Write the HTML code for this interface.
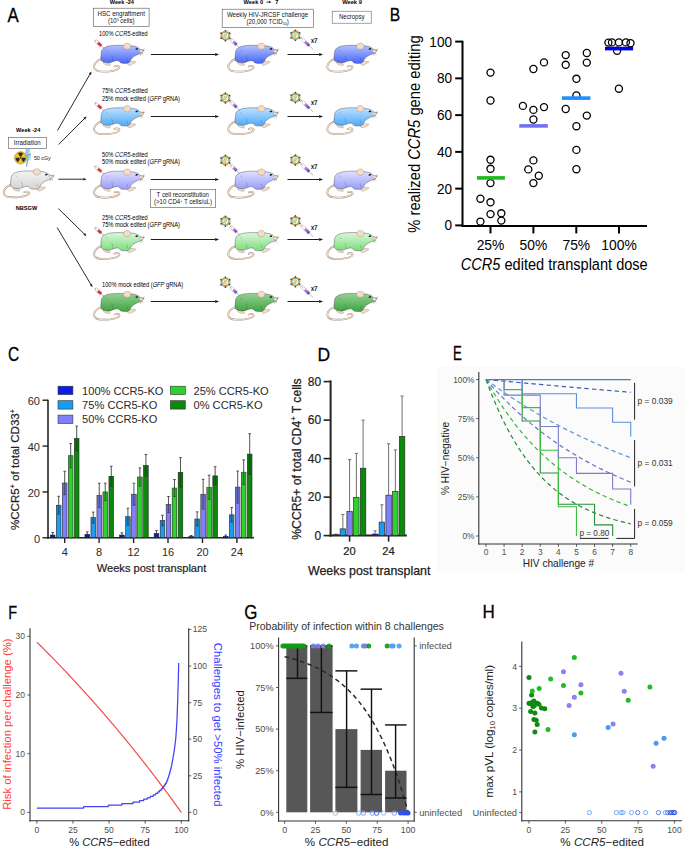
<!DOCTYPE html>
<html><head><meta charset="utf-8"><style>
html,body{margin:0;padding:0;background:#fff;}
svg{display:block;font-family:"Liberation Sans", sans-serif;}
</style></head><body>
<svg width="685" height="851" viewBox="0 0 685 851">
<rect width="685" height="851" fill="#fff"/>
<defs><linearGradient id="gm100" x1="0" y1="0" x2="0" y2="1"><stop offset="0" stop-color="#b2c1ff"/><stop offset="1" stop-color="#4866f8"/></linearGradient><linearGradient id="gm75" x1="0" y1="0" x2="0" y2="1"><stop offset="0" stop-color="#bfe0ff"/><stop offset="1" stop-color="#4eaaf8"/></linearGradient><linearGradient id="gm50" x1="0" y1="0" x2="0" y2="1"><stop offset="0" stop-color="#e0e0ff"/><stop offset="1" stop-color="#979df8"/></linearGradient><linearGradient id="gm25" x1="0" y1="0" x2="0" y2="1"><stop offset="0" stop-color="#dcf6dc"/><stop offset="1" stop-color="#7ade7a"/></linearGradient><linearGradient id="gm0" x1="0" y1="0" x2="0" y2="1"><stop offset="0" stop-color="#96d096"/><stop offset="1" stop-color="#3ea63e"/></linearGradient><linearGradient id="gmg" x1="0" y1="0" x2="0" y2="1"><stop offset="0" stop-color="#f4f4f4"/><stop offset="1" stop-color="#d4d4d4"/></linearGradient><linearGradient id="syr" x1="0" y1="0" x2="1" y2="0"><stop offset="0" stop-color="#d890d8"/><stop offset="1" stop-color="#4a3ad0"/></linearGradient></defs>
<text transform="translate(7.52,22.0) scale(0.841,0.985)" font-size="20" stroke="#000" stroke-width="0.3">A</text>
<text x="121.90" y="4.20" font-size="5.6" fill="#000" text-anchor="middle" font-weight="bold" >Week -24</text>
<rect x="93.30" y="8.20" width="55.80" height="18.20" fill="#fff" stroke="#555" stroke-width="0.6" />
<text x="121.20" y="15.90" font-size="6.5" fill="#111" text-anchor="middle" textLength="47.5" lengthAdjust="spacingAndGlyphs" >HSC engraftment</text>
<text x="121.2" y="23.0" font-size="6.5" fill="#111" text-anchor="middle" textLength="26.6" lengthAdjust="spacingAndGlyphs">(10<tspan font-size="3.8" dy="-2.3">5</tspan><tspan dy="2.3"> cells)</tspan></text>
<text x="253.30" y="4.20" font-size="5.7" fill="#000" text-anchor="middle" font-weight="bold" >Week 0</text>
<line x1="266.40" y1="2.10" x2="269.00" y2="2.10" stroke="#111" stroke-width="0.8" />
<path d="M271.60 2.10 L269.00 3.14 L269.00 1.06 Z" fill="#111"/>
<text x="276.90" y="4.20" font-size="5.7" fill="#000" text-anchor="middle" font-weight="bold" >7</text>
<rect x="222.20" y="9.20" width="91.20" height="18.40" fill="#fff" stroke="#555" stroke-width="0.6" />
<text x="267.50" y="16.90" font-size="6.4" fill="#111" text-anchor="middle" textLength="81.2" lengthAdjust="spacingAndGlyphs" >Weekly HIV-JRCSF challenge</text>
<text x="267.6" y="24.0" font-size="6.4" fill="#111" text-anchor="middle" textLength="42.3" lengthAdjust="spacingAndGlyphs">(20,000 TCID<tspan font-size="3.8" dy="1.4">50</tspan><tspan dy="-1.4">)</tspan></text>
<text x="352.00" y="4.20" font-size="5.75" fill="#000" text-anchor="middle" font-weight="bold" >Week 9</text>
<rect x="332.20" y="11.20" width="39.00" height="12.00" fill="#fff" stroke="#666" stroke-width="0.6" />
<text x="351.70" y="18.80" font-size="6.4" fill="#111" text-anchor="middle" textLength="25.4" lengthAdjust="spacingAndGlyphs" >Necropsy</text>
<text x="28.20" y="132.40" font-size="5.6" fill="#000" text-anchor="middle" font-weight="bold" >Week -24</text>
<rect x="8.30" y="137.50" width="38.30" height="10.80" fill="#fff" stroke="#555" stroke-width="0.6" />
<text x="27.25" y="144.90" font-size="6.5" fill="#111" text-anchor="middle" textLength="26.9" lengthAdjust="spacingAndGlyphs" >Irradiation</text>
<g transform="translate(20.6,157.8)"><circle r="6.2" fill="#f0c22c" stroke="#8a7020" stroke-width="0.4"/><path d="M0 0 L-2.6 -4.5 A5.2 5.2 0 0 1 2.6 -4.5 Z M0 0 L5.2 0 A5.2 5.2 0 0 1 2.6 4.5 Z M0 0 L-2.6 4.5 A5.2 5.2 0 0 1 -5.2 0 Z" fill="#2a2a2a"/><circle r="1.3" fill="#f0c22c"/><circle r="0.8" fill="#2a2a2a"/></g>
<path d="M26.2 148.6 L25.4 156 L27.6 155 L26.4 166.8 L29.6 154 L27.4 155 L28.4 148.6" fill="#9cd8f6" stroke="#3a9ad8" stroke-width="0.5" />
<path d="M29.4 148.6 L28.8 154.5 L30.6 153.8 L29.8 160" fill="none" stroke="#3a9ad8" stroke-width="0.6" />
<text x="33.90" y="159.90" font-size="5.9" fill="#111" text-anchor="start" textLength="16.9" lengthAdjust="spacingAndGlyphs" >50 cGy</text>
<g transform="translate(3.00,169.00) scale(1.0)"><path d="M8.2 15.6 C5.8 16.4 3.8 17.6 2.4 19.4 C0.9 21.3 0.3 23.6 1.4 25.6 C2.6 27.5 5.2 28.1 7.4 28.2 C10.5 28.4 13.5 28.3 16.2 28.1 C19 27.8 21.6 27.3 23.6 26.4 C25.2 25.7 26.4 24.8 26.1 23.8 C25.8 22.8 24.6 22.5 23.4 22.6 C22.6 22.7 21.9 22.9 21.3 23.1" fill="none" stroke="#9b8a7c" stroke-width="1.75" stroke-linecap="round"/><path d="M8.2 15.6 C5.8 16.4 3.8 17.6 2.4 19.4 C0.9 21.3 0.3 23.6 1.4 25.6 C2.6 27.5 5.2 28.1 7.4 28.2 C10.5 28.4 13.5 28.3 16.2 28.1 C19 27.8 21.6 27.3 23.6 26.4 C25.2 25.7 26.4 24.8 26.1 23.8 C25.8 22.8 24.6 22.5 23.4 22.6 C22.6 22.7 21.9 22.9 21.3 23.1" fill="none" stroke="#f5dcc6" stroke-width="1.1" stroke-linecap="round"/><path d="M10.4 18.6 C12.5 19.2 14.8 19.8 16.6 20.6 C17.4 21.1 17.2 21.9 16.2 22.1 C14.2 22.3 11.8 21.3 10.3 20.3 Z" fill="#f5dcc6" stroke="#8a7a6c" stroke-width="0.35"/><path d="M34.0 18.4 C36.4 18.0 39.5 17.8 42.0 18.2 C42.6 18.5 42.5 19.2 41.8 19.5 C40.2 20.2 38.4 21.2 36.8 21.9 C35.6 22.2 34.4 21.4 34.0 20.4 Z" fill="#f5dcc6" stroke="#8a7a6c" stroke-width="0.35"/><path d="M7.8 11.4 C7.8 9.2 8.2 7.8 8.7 6.7 C9.4 5.4 10.2 4.9 11.1 4.4 C12.5 3.6 13.8 3.1 15.3 2.8 C18 2.3 20.5 2.0 22.7 2.0 C25.5 2.0 28 2.0 30.2 2.0 C33 2.0 36 2.2 38.6 2.5 C40.8 2.8 42.6 3.3 44.2 3.9 C45.3 4.5 46.2 5.4 47 6.3 L50.3 6.7 C50 8.0 49.2 9.4 48 10 C47 10.4 46 10.6 45.2 10.9 C43.5 11.6 41.8 12.4 40.5 13.3 C39.3 14.2 38.4 15.1 37.7 16.1 C37.1 17.4 36.3 19.0 35.0 19.8 C33 20.3 29.4 20.3 27.6 19.7 C26.8 18.8 26.2 17.9 25 17.5 C24 17.3 23.3 17.3 22.7 17.5 C21 17.7 19.6 18.3 18.2 19.0 C16 19.8 13 19.6 10.5 18.8 C9.2 18.4 8.2 17.8 7.8 17 C7.4 15.2 7.4 13.2 7.8 11.4 Z" fill="url(#gmg)" stroke="#3a3a4a" stroke-width="0.4"/><path d="M18.2 12.3 C19.3 14.2 19.7 16.4 19.4 18.4" fill="none" stroke="#334" stroke-width="0.3" opacity="0.7"/><path d="M33.6 14.4 C34.2 15.6 34.4 16.6 34.3 17.6" fill="none" stroke="#334" stroke-width="0.3" opacity="0.7"/><path d="M12.5 6.5 C13.5 7.0 14.2 7.7 14.6 8.6" fill="none" stroke="#334" stroke-width="0.3" opacity="0.6"/><path d="M30.2 3.6 C29.8 1.4 31.6 -0.2 34.0 -0.2 C36.4 -0.2 37.8 1.6 37.4 3.6 C37.0 5.4 35.4 6.2 33.6 6.0 C31.8 5.8 30.5 5.0 30.2 3.6 Z" fill="#f5dcc6" stroke="#8a7a6c" stroke-width="0.35"/><path d="M46.0 6.4 C47.4 6.2 49.0 6.7 50.3 7.6 C50.0 8.7 49.0 9.4 47.6 9.6 C46.6 9.3 46.0 8.2 46.0 6.4 Z" fill="#f5dcc6" stroke="#8a7a6c" stroke-width="0.3"/><ellipse cx="43.4" cy="5.6" rx="1.3" ry="0.8" fill="#111" transform="rotate(-15 43.4 5.6)"/><path d="M48.0 9.2 L47.0 12.6 M48.8 9.3 L49.6 12.0 M49.4 6.9 L51.2 5.0 M50.0 7.3 L51.8 6.6" stroke="#555" stroke-width="0.3" fill="none"/></g>
<text x="26.50" y="209.70" font-size="5.6" fill="#000" text-anchor="middle" font-weight="bold" >NBSGW</text>
<line x1="57.50" y1="130.50" x2="89.90" y2="74.27" stroke="#111" stroke-width="0.9" />
<path d="M91.50 71.50 L91.01 74.91 L88.79 73.63 Z" fill="#111"/>
<line x1="58.60" y1="144.50" x2="84.24" y2="118.77" stroke="#111" stroke-width="0.9" />
<path d="M86.50 116.50 L85.15 119.67 L83.33 117.86 Z" fill="#111"/>
<line x1="58.40" y1="179.20" x2="83.40" y2="179.20" stroke="#111" stroke-width="0.9" />
<path d="M86.60 179.20 L83.40 180.48 L83.40 177.92 Z" fill="#111"/>
<line x1="58.40" y1="208.60" x2="84.22" y2="233.96" stroke="#111" stroke-width="0.9" />
<path d="M86.50 236.20 L83.32 234.87 L85.11 233.04 Z" fill="#111"/>
<line x1="57.20" y1="227.60" x2="90.87" y2="284.45" stroke="#111" stroke-width="0.9" />
<path d="M92.50 287.20 L89.77 285.10 L91.97 283.79 Z" fill="#111"/>
<text x="99.00" y="36.30" font-size="6.6" fill="#000" text-anchor="start" textLength="48.7" lengthAdjust="spacingAndGlyphs" >100% <tspan font-style="italic">CCR5</tspan>-edited</text>
<g transform="translate(93.30,43.30) scale(1.0)"><path d="M8.2 15.6 C5.8 16.4 3.8 17.6 2.4 19.4 C0.9 21.3 0.3 23.6 1.4 25.6 C2.6 27.5 5.2 28.1 7.4 28.2 C10.5 28.4 13.5 28.3 16.2 28.1 C19 27.8 21.6 27.3 23.6 26.4 C25.2 25.7 26.4 24.8 26.1 23.8 C25.8 22.8 24.6 22.5 23.4 22.6 C22.6 22.7 21.9 22.9 21.3 23.1" fill="none" stroke="#9b8a7c" stroke-width="1.75" stroke-linecap="round"/><path d="M8.2 15.6 C5.8 16.4 3.8 17.6 2.4 19.4 C0.9 21.3 0.3 23.6 1.4 25.6 C2.6 27.5 5.2 28.1 7.4 28.2 C10.5 28.4 13.5 28.3 16.2 28.1 C19 27.8 21.6 27.3 23.6 26.4 C25.2 25.7 26.4 24.8 26.1 23.8 C25.8 22.8 24.6 22.5 23.4 22.6 C22.6 22.7 21.9 22.9 21.3 23.1" fill="none" stroke="#f5dcc6" stroke-width="1.1" stroke-linecap="round"/><path d="M10.4 18.6 C12.5 19.2 14.8 19.8 16.6 20.6 C17.4 21.1 17.2 21.9 16.2 22.1 C14.2 22.3 11.8 21.3 10.3 20.3 Z" fill="#f5dcc6" stroke="#8a7a6c" stroke-width="0.35"/><path d="M34.0 18.4 C36.4 18.0 39.5 17.8 42.0 18.2 C42.6 18.5 42.5 19.2 41.8 19.5 C40.2 20.2 38.4 21.2 36.8 21.9 C35.6 22.2 34.4 21.4 34.0 20.4 Z" fill="#f5dcc6" stroke="#8a7a6c" stroke-width="0.35"/><path d="M7.8 11.4 C7.8 9.2 8.2 7.8 8.7 6.7 C9.4 5.4 10.2 4.9 11.1 4.4 C12.5 3.6 13.8 3.1 15.3 2.8 C18 2.3 20.5 2.0 22.7 2.0 C25.5 2.0 28 2.0 30.2 2.0 C33 2.0 36 2.2 38.6 2.5 C40.8 2.8 42.6 3.3 44.2 3.9 C45.3 4.5 46.2 5.4 47 6.3 L50.3 6.7 C50 8.0 49.2 9.4 48 10 C47 10.4 46 10.6 45.2 10.9 C43.5 11.6 41.8 12.4 40.5 13.3 C39.3 14.2 38.4 15.1 37.7 16.1 C37.1 17.4 36.3 19.0 35.0 19.8 C33 20.3 29.4 20.3 27.6 19.7 C26.8 18.8 26.2 17.9 25 17.5 C24 17.3 23.3 17.3 22.7 17.5 C21 17.7 19.6 18.3 18.2 19.0 C16 19.8 13 19.6 10.5 18.8 C9.2 18.4 8.2 17.8 7.8 17 C7.4 15.2 7.4 13.2 7.8 11.4 Z" fill="url(#gm100)" stroke="#3a3a4a" stroke-width="0.4"/><path d="M18.2 12.3 C19.3 14.2 19.7 16.4 19.4 18.4" fill="none" stroke="#334" stroke-width="0.3" opacity="0.7"/><path d="M33.6 14.4 C34.2 15.6 34.4 16.6 34.3 17.6" fill="none" stroke="#334" stroke-width="0.3" opacity="0.7"/><path d="M12.5 6.5 C13.5 7.0 14.2 7.7 14.6 8.6" fill="none" stroke="#334" stroke-width="0.3" opacity="0.6"/><path d="M30.2 3.6 C29.8 1.4 31.6 -0.2 34.0 -0.2 C36.4 -0.2 37.8 1.6 37.4 3.6 C37.0 5.4 35.4 6.2 33.6 6.0 C31.8 5.8 30.5 5.0 30.2 3.6 Z" fill="#f5dcc6" stroke="#8a7a6c" stroke-width="0.35"/><path d="M46.0 6.4 C47.4 6.2 49.0 6.7 50.3 7.6 C50.0 8.7 49.0 9.4 47.6 9.6 C46.6 9.3 46.0 8.2 46.0 6.4 Z" fill="#f5dcc6" stroke="#8a7a6c" stroke-width="0.3"/><ellipse cx="43.4" cy="5.6" rx="1.3" ry="0.8" fill="#111" transform="rotate(-15 43.4 5.6)"/><path d="M48.0 9.2 L47.0 12.6 M48.8 9.3 L49.6 12.0 M49.4 6.9 L51.2 5.0 M50.0 7.3 L51.8 6.6" stroke="#555" stroke-width="0.3" fill="none"/></g>
<g transform="translate(95.20,40.50) rotate(40.9)"><line x1="0" y1="0" x2="1.43" y2="0" stroke="#888" stroke-width="0.6"/><line x1="0" y1="-1.6" x2="0" y2="1.6" stroke="#777" stroke-width="0.5"/><rect x="1.43" y="-1.5" width="6.55" height="3" fill="#fff" stroke="#888" stroke-width="0.35"/><rect x="3.57" y="-1.3" width="4.41" height="2.6" fill="#d8323a"/><line x1="7.98" y1="0" x2="11.91" y2="0" stroke="#666" stroke-width="0.45"/></g>
<line x1="150.80" y1="54.50" x2="215.20" y2="54.50" stroke="#111" stroke-width="0.95" />
<path d="M219.00 54.50 L215.20 56.02 L215.20 52.98 Z" fill="#111"/>
<g transform="translate(227.50,43.30) scale(1.0)"><path d="M8.2 15.6 C5.8 16.4 3.8 17.6 2.4 19.4 C0.9 21.3 0.3 23.6 1.4 25.6 C2.6 27.5 5.2 28.1 7.4 28.2 C10.5 28.4 13.5 28.3 16.2 28.1 C19 27.8 21.6 27.3 23.6 26.4 C25.2 25.7 26.4 24.8 26.1 23.8 C25.8 22.8 24.6 22.5 23.4 22.6 C22.6 22.7 21.9 22.9 21.3 23.1" fill="none" stroke="#9b8a7c" stroke-width="1.75" stroke-linecap="round"/><path d="M8.2 15.6 C5.8 16.4 3.8 17.6 2.4 19.4 C0.9 21.3 0.3 23.6 1.4 25.6 C2.6 27.5 5.2 28.1 7.4 28.2 C10.5 28.4 13.5 28.3 16.2 28.1 C19 27.8 21.6 27.3 23.6 26.4 C25.2 25.7 26.4 24.8 26.1 23.8 C25.8 22.8 24.6 22.5 23.4 22.6 C22.6 22.7 21.9 22.9 21.3 23.1" fill="none" stroke="#f5dcc6" stroke-width="1.1" stroke-linecap="round"/><path d="M10.4 18.6 C12.5 19.2 14.8 19.8 16.6 20.6 C17.4 21.1 17.2 21.9 16.2 22.1 C14.2 22.3 11.8 21.3 10.3 20.3 Z" fill="#f5dcc6" stroke="#8a7a6c" stroke-width="0.35"/><path d="M34.0 18.4 C36.4 18.0 39.5 17.8 42.0 18.2 C42.6 18.5 42.5 19.2 41.8 19.5 C40.2 20.2 38.4 21.2 36.8 21.9 C35.6 22.2 34.4 21.4 34.0 20.4 Z" fill="#f5dcc6" stroke="#8a7a6c" stroke-width="0.35"/><path d="M7.8 11.4 C7.8 9.2 8.2 7.8 8.7 6.7 C9.4 5.4 10.2 4.9 11.1 4.4 C12.5 3.6 13.8 3.1 15.3 2.8 C18 2.3 20.5 2.0 22.7 2.0 C25.5 2.0 28 2.0 30.2 2.0 C33 2.0 36 2.2 38.6 2.5 C40.8 2.8 42.6 3.3 44.2 3.9 C45.3 4.5 46.2 5.4 47 6.3 L50.3 6.7 C50 8.0 49.2 9.4 48 10 C47 10.4 46 10.6 45.2 10.9 C43.5 11.6 41.8 12.4 40.5 13.3 C39.3 14.2 38.4 15.1 37.7 16.1 C37.1 17.4 36.3 19.0 35.0 19.8 C33 20.3 29.4 20.3 27.6 19.7 C26.8 18.8 26.2 17.9 25 17.5 C24 17.3 23.3 17.3 22.7 17.5 C21 17.7 19.6 18.3 18.2 19.0 C16 19.8 13 19.6 10.5 18.8 C9.2 18.4 8.2 17.8 7.8 17 C7.4 15.2 7.4 13.2 7.8 11.4 Z" fill="url(#gm100)" stroke="#3a3a4a" stroke-width="0.4"/><path d="M18.2 12.3 C19.3 14.2 19.7 16.4 19.4 18.4" fill="none" stroke="#334" stroke-width="0.3" opacity="0.7"/><path d="M33.6 14.4 C34.2 15.6 34.4 16.6 34.3 17.6" fill="none" stroke="#334" stroke-width="0.3" opacity="0.7"/><path d="M12.5 6.5 C13.5 7.0 14.2 7.7 14.6 8.6" fill="none" stroke="#334" stroke-width="0.3" opacity="0.6"/><path d="M30.2 3.6 C29.8 1.4 31.6 -0.2 34.0 -0.2 C36.4 -0.2 37.8 1.6 37.4 3.6 C37.0 5.4 35.4 6.2 33.6 6.0 C31.8 5.8 30.5 5.0 30.2 3.6 Z" fill="#f5dcc6" stroke="#8a7a6c" stroke-width="0.35"/><path d="M46.0 6.4 C47.4 6.2 49.0 6.7 50.3 7.6 C50.0 8.7 49.0 9.4 47.6 9.6 C46.6 9.3 46.0 8.2 46.0 6.4 Z" fill="#f5dcc6" stroke="#8a7a6c" stroke-width="0.3"/><ellipse cx="43.4" cy="5.6" rx="1.3" ry="0.8" fill="#111" transform="rotate(-15 43.4 5.6)"/><path d="M48.0 9.2 L47.0 12.6 M48.8 9.3 L49.6 12.0 M49.4 6.9 L51.2 5.0 M50.0 7.3 L51.8 6.6" stroke="#555" stroke-width="0.3" fill="none"/></g>
<g transform="translate(225.40,35.70)"><circle r="5.02" fill="#e9a355"/><circle cx="0.00" cy="-4.97" r="0.85" fill="#33408a"/><circle cx="4.30" cy="-2.48" r="0.85" fill="#33408a"/><circle cx="4.30" cy="2.48" r="0.85" fill="#33408a"/><circle cx="0.00" cy="4.97" r="0.85" fill="#33408a"/><circle cx="-4.30" cy="2.48" r="0.85" fill="#33408a"/><circle cx="-4.30" cy="-2.48" r="0.85" fill="#33408a"/><circle r="3.78" fill="#4f9a70"/><circle r="3.13" fill="#f8f4c4"/><path d="M-1.6 2.0 C-1.8 0.4 -1.0 -1.4 0.2 -2.4 M0.2 2.4 C0.0 0.8 0.6 -0.8 1.6 -1.9" stroke="#5a9a6a" stroke-width="0.55" fill="none"/><path d="M-0.7 2.2 C-0.9 0.6 -0.3 -1.0 0.8 -2.2" stroke="#f0a898" stroke-width="0.6" fill="none"/></g>
<g transform="translate(230.50,39.10) rotate(43.0)"><line x1="0" y1="0" x2="1.48" y2="0" stroke="#888" stroke-width="0.6"/><line x1="0" y1="-1.6" x2="0" y2="1.6" stroke="#777" stroke-width="0.5"/><rect x="1.48" y="-1.5" width="6.77" height="3" fill="#fff" stroke="#888" stroke-width="0.35"/><rect x="3.69" y="-1.3" width="4.56" height="2.6" fill="url(#syr)"/><line x1="8.25" y1="0" x2="12.31" y2="0" stroke="#666" stroke-width="0.45"/></g>
<line x1="287.50" y1="54.50" x2="319.20" y2="54.50" stroke="#111" stroke-width="0.95" />
<path d="M323.00 54.50 L319.20 56.02 L319.20 52.98 Z" fill="#111"/>
<g transform="translate(295.40,35.30)"><circle r="5.02" fill="#e9a355"/><circle cx="0.00" cy="-4.97" r="0.85" fill="#33408a"/><circle cx="4.30" cy="-2.48" r="0.85" fill="#33408a"/><circle cx="4.30" cy="2.48" r="0.85" fill="#33408a"/><circle cx="0.00" cy="4.97" r="0.85" fill="#33408a"/><circle cx="-4.30" cy="2.48" r="0.85" fill="#33408a"/><circle cx="-4.30" cy="-2.48" r="0.85" fill="#33408a"/><circle r="3.78" fill="#4f9a70"/><circle r="3.13" fill="#f8f4c4"/><path d="M-1.6 2.0 C-1.8 0.4 -1.0 -1.4 0.2 -2.4 M0.2 2.4 C0.0 0.8 0.6 -0.8 1.6 -1.9" stroke="#5a9a6a" stroke-width="0.55" fill="none"/><path d="M-0.7 2.2 C-0.9 0.6 -0.3 -1.0 0.8 -2.2" stroke="#f0a898" stroke-width="0.6" fill="none"/></g>
<g transform="translate(301.20,38.10) rotate(43.5)"><line x1="0" y1="0" x2="1.97" y2="0" stroke="#888" stroke-width="0.6"/><line x1="0" y1="-1.6" x2="0" y2="1.6" stroke="#777" stroke-width="0.5"/><rect x="1.97" y="-1.5" width="9.03" height="3" fill="#fff" stroke="#888" stroke-width="0.35"/><rect x="4.92" y="-1.3" width="6.07" height="2.6" fill="url(#syr)"/><line x1="10.99" y1="0" x2="16.41" y2="0" stroke="#666" stroke-width="0.45"/></g>
<text x="310.90" y="42.70" font-size="6.8" fill="#000" text-anchor="start" textLength="6.6" lengthAdjust="spacingAndGlyphs" stroke="#000" stroke-width="0.2">x7</text>
<g transform="translate(326.50,43.30) scale(1.0)"><path d="M8.2 15.6 C5.8 16.4 3.8 17.6 2.4 19.4 C0.9 21.3 0.3 23.6 1.4 25.6 C2.6 27.5 5.2 28.1 7.4 28.2 C10.5 28.4 13.5 28.3 16.2 28.1 C19 27.8 21.6 27.3 23.6 26.4 C25.2 25.7 26.4 24.8 26.1 23.8 C25.8 22.8 24.6 22.5 23.4 22.6 C22.6 22.7 21.9 22.9 21.3 23.1" fill="none" stroke="#9b8a7c" stroke-width="1.75" stroke-linecap="round"/><path d="M8.2 15.6 C5.8 16.4 3.8 17.6 2.4 19.4 C0.9 21.3 0.3 23.6 1.4 25.6 C2.6 27.5 5.2 28.1 7.4 28.2 C10.5 28.4 13.5 28.3 16.2 28.1 C19 27.8 21.6 27.3 23.6 26.4 C25.2 25.7 26.4 24.8 26.1 23.8 C25.8 22.8 24.6 22.5 23.4 22.6 C22.6 22.7 21.9 22.9 21.3 23.1" fill="none" stroke="#f5dcc6" stroke-width="1.1" stroke-linecap="round"/><path d="M10.4 18.6 C12.5 19.2 14.8 19.8 16.6 20.6 C17.4 21.1 17.2 21.9 16.2 22.1 C14.2 22.3 11.8 21.3 10.3 20.3 Z" fill="#f5dcc6" stroke="#8a7a6c" stroke-width="0.35"/><path d="M34.0 18.4 C36.4 18.0 39.5 17.8 42.0 18.2 C42.6 18.5 42.5 19.2 41.8 19.5 C40.2 20.2 38.4 21.2 36.8 21.9 C35.6 22.2 34.4 21.4 34.0 20.4 Z" fill="#f5dcc6" stroke="#8a7a6c" stroke-width="0.35"/><path d="M7.8 11.4 C7.8 9.2 8.2 7.8 8.7 6.7 C9.4 5.4 10.2 4.9 11.1 4.4 C12.5 3.6 13.8 3.1 15.3 2.8 C18 2.3 20.5 2.0 22.7 2.0 C25.5 2.0 28 2.0 30.2 2.0 C33 2.0 36 2.2 38.6 2.5 C40.8 2.8 42.6 3.3 44.2 3.9 C45.3 4.5 46.2 5.4 47 6.3 L50.3 6.7 C50 8.0 49.2 9.4 48 10 C47 10.4 46 10.6 45.2 10.9 C43.5 11.6 41.8 12.4 40.5 13.3 C39.3 14.2 38.4 15.1 37.7 16.1 C37.1 17.4 36.3 19.0 35.0 19.8 C33 20.3 29.4 20.3 27.6 19.7 C26.8 18.8 26.2 17.9 25 17.5 C24 17.3 23.3 17.3 22.7 17.5 C21 17.7 19.6 18.3 18.2 19.0 C16 19.8 13 19.6 10.5 18.8 C9.2 18.4 8.2 17.8 7.8 17 C7.4 15.2 7.4 13.2 7.8 11.4 Z" fill="url(#gm100)" stroke="#3a3a4a" stroke-width="0.4"/><path d="M18.2 12.3 C19.3 14.2 19.7 16.4 19.4 18.4" fill="none" stroke="#334" stroke-width="0.3" opacity="0.7"/><path d="M33.6 14.4 C34.2 15.6 34.4 16.6 34.3 17.6" fill="none" stroke="#334" stroke-width="0.3" opacity="0.7"/><path d="M12.5 6.5 C13.5 7.0 14.2 7.7 14.6 8.6" fill="none" stroke="#334" stroke-width="0.3" opacity="0.6"/><path d="M30.2 3.6 C29.8 1.4 31.6 -0.2 34.0 -0.2 C36.4 -0.2 37.8 1.6 37.4 3.6 C37.0 5.4 35.4 6.2 33.6 6.0 C31.8 5.8 30.5 5.0 30.2 3.6 Z" fill="#f5dcc6" stroke="#8a7a6c" stroke-width="0.35"/><path d="M46.0 6.4 C47.4 6.2 49.0 6.7 50.3 7.6 C50.0 8.7 49.0 9.4 47.6 9.6 C46.6 9.3 46.0 8.2 46.0 6.4 Z" fill="#f5dcc6" stroke="#8a7a6c" stroke-width="0.3"/><ellipse cx="43.4" cy="5.6" rx="1.3" ry="0.8" fill="#111" transform="rotate(-15 43.4 5.6)"/><path d="M48.0 9.2 L47.0 12.6 M48.8 9.3 L49.6 12.0 M49.4 6.9 L51.2 5.0 M50.0 7.3 L51.8 6.6" stroke="#555" stroke-width="0.3" fill="none"/></g>
<text x="102.00" y="93.20" font-size="6.6" fill="#000" text-anchor="start" textLength="45.8" lengthAdjust="spacingAndGlyphs" >75% <tspan font-style="italic">CCR5</tspan>-edited</text>
<text x="102.00" y="100.50" font-size="6.6" fill="#000" text-anchor="start" textLength="78.0" lengthAdjust="spacingAndGlyphs" >25% mock edited (<tspan font-style="italic">GFP</tspan> gRNA)</text>
<g transform="translate(93.30,105.80) scale(1.0)"><path d="M8.2 15.6 C5.8 16.4 3.8 17.6 2.4 19.4 C0.9 21.3 0.3 23.6 1.4 25.6 C2.6 27.5 5.2 28.1 7.4 28.2 C10.5 28.4 13.5 28.3 16.2 28.1 C19 27.8 21.6 27.3 23.6 26.4 C25.2 25.7 26.4 24.8 26.1 23.8 C25.8 22.8 24.6 22.5 23.4 22.6 C22.6 22.7 21.9 22.9 21.3 23.1" fill="none" stroke="#9b8a7c" stroke-width="1.75" stroke-linecap="round"/><path d="M8.2 15.6 C5.8 16.4 3.8 17.6 2.4 19.4 C0.9 21.3 0.3 23.6 1.4 25.6 C2.6 27.5 5.2 28.1 7.4 28.2 C10.5 28.4 13.5 28.3 16.2 28.1 C19 27.8 21.6 27.3 23.6 26.4 C25.2 25.7 26.4 24.8 26.1 23.8 C25.8 22.8 24.6 22.5 23.4 22.6 C22.6 22.7 21.9 22.9 21.3 23.1" fill="none" stroke="#f5dcc6" stroke-width="1.1" stroke-linecap="round"/><path d="M10.4 18.6 C12.5 19.2 14.8 19.8 16.6 20.6 C17.4 21.1 17.2 21.9 16.2 22.1 C14.2 22.3 11.8 21.3 10.3 20.3 Z" fill="#f5dcc6" stroke="#8a7a6c" stroke-width="0.35"/><path d="M34.0 18.4 C36.4 18.0 39.5 17.8 42.0 18.2 C42.6 18.5 42.5 19.2 41.8 19.5 C40.2 20.2 38.4 21.2 36.8 21.9 C35.6 22.2 34.4 21.4 34.0 20.4 Z" fill="#f5dcc6" stroke="#8a7a6c" stroke-width="0.35"/><path d="M7.8 11.4 C7.8 9.2 8.2 7.8 8.7 6.7 C9.4 5.4 10.2 4.9 11.1 4.4 C12.5 3.6 13.8 3.1 15.3 2.8 C18 2.3 20.5 2.0 22.7 2.0 C25.5 2.0 28 2.0 30.2 2.0 C33 2.0 36 2.2 38.6 2.5 C40.8 2.8 42.6 3.3 44.2 3.9 C45.3 4.5 46.2 5.4 47 6.3 L50.3 6.7 C50 8.0 49.2 9.4 48 10 C47 10.4 46 10.6 45.2 10.9 C43.5 11.6 41.8 12.4 40.5 13.3 C39.3 14.2 38.4 15.1 37.7 16.1 C37.1 17.4 36.3 19.0 35.0 19.8 C33 20.3 29.4 20.3 27.6 19.7 C26.8 18.8 26.2 17.9 25 17.5 C24 17.3 23.3 17.3 22.7 17.5 C21 17.7 19.6 18.3 18.2 19.0 C16 19.8 13 19.6 10.5 18.8 C9.2 18.4 8.2 17.8 7.8 17 C7.4 15.2 7.4 13.2 7.8 11.4 Z" fill="url(#gm75)" stroke="#3a3a4a" stroke-width="0.4"/><path d="M18.2 12.3 C19.3 14.2 19.7 16.4 19.4 18.4" fill="none" stroke="#334" stroke-width="0.3" opacity="0.7"/><path d="M33.6 14.4 C34.2 15.6 34.4 16.6 34.3 17.6" fill="none" stroke="#334" stroke-width="0.3" opacity="0.7"/><path d="M12.5 6.5 C13.5 7.0 14.2 7.7 14.6 8.6" fill="none" stroke="#334" stroke-width="0.3" opacity="0.6"/><path d="M30.2 3.6 C29.8 1.4 31.6 -0.2 34.0 -0.2 C36.4 -0.2 37.8 1.6 37.4 3.6 C37.0 5.4 35.4 6.2 33.6 6.0 C31.8 5.8 30.5 5.0 30.2 3.6 Z" fill="#f5dcc6" stroke="#8a7a6c" stroke-width="0.35"/><path d="M46.0 6.4 C47.4 6.2 49.0 6.7 50.3 7.6 C50.0 8.7 49.0 9.4 47.6 9.6 C46.6 9.3 46.0 8.2 46.0 6.4 Z" fill="#f5dcc6" stroke="#8a7a6c" stroke-width="0.3"/><ellipse cx="43.4" cy="5.6" rx="1.3" ry="0.8" fill="#111" transform="rotate(-15 43.4 5.6)"/><path d="M48.0 9.2 L47.0 12.6 M48.8 9.3 L49.6 12.0 M49.4 6.9 L51.2 5.0 M50.0 7.3 L51.8 6.6" stroke="#555" stroke-width="0.3" fill="none"/></g>
<g transform="translate(95.20,103.00) rotate(40.9)"><line x1="0" y1="0" x2="1.43" y2="0" stroke="#888" stroke-width="0.6"/><line x1="0" y1="-1.6" x2="0" y2="1.6" stroke="#777" stroke-width="0.5"/><rect x="1.43" y="-1.5" width="6.55" height="3" fill="#fff" stroke="#888" stroke-width="0.35"/><rect x="3.57" y="-1.3" width="4.41" height="2.6" fill="#d8323a"/><line x1="7.98" y1="0" x2="11.91" y2="0" stroke="#666" stroke-width="0.45"/></g>
<line x1="150.80" y1="116.50" x2="215.20" y2="116.50" stroke="#111" stroke-width="0.95" />
<path d="M219.00 116.50 L215.20 118.02 L215.20 114.98 Z" fill="#111"/>
<g transform="translate(227.50,105.80) scale(1.0)"><path d="M8.2 15.6 C5.8 16.4 3.8 17.6 2.4 19.4 C0.9 21.3 0.3 23.6 1.4 25.6 C2.6 27.5 5.2 28.1 7.4 28.2 C10.5 28.4 13.5 28.3 16.2 28.1 C19 27.8 21.6 27.3 23.6 26.4 C25.2 25.7 26.4 24.8 26.1 23.8 C25.8 22.8 24.6 22.5 23.4 22.6 C22.6 22.7 21.9 22.9 21.3 23.1" fill="none" stroke="#9b8a7c" stroke-width="1.75" stroke-linecap="round"/><path d="M8.2 15.6 C5.8 16.4 3.8 17.6 2.4 19.4 C0.9 21.3 0.3 23.6 1.4 25.6 C2.6 27.5 5.2 28.1 7.4 28.2 C10.5 28.4 13.5 28.3 16.2 28.1 C19 27.8 21.6 27.3 23.6 26.4 C25.2 25.7 26.4 24.8 26.1 23.8 C25.8 22.8 24.6 22.5 23.4 22.6 C22.6 22.7 21.9 22.9 21.3 23.1" fill="none" stroke="#f5dcc6" stroke-width="1.1" stroke-linecap="round"/><path d="M10.4 18.6 C12.5 19.2 14.8 19.8 16.6 20.6 C17.4 21.1 17.2 21.9 16.2 22.1 C14.2 22.3 11.8 21.3 10.3 20.3 Z" fill="#f5dcc6" stroke="#8a7a6c" stroke-width="0.35"/><path d="M34.0 18.4 C36.4 18.0 39.5 17.8 42.0 18.2 C42.6 18.5 42.5 19.2 41.8 19.5 C40.2 20.2 38.4 21.2 36.8 21.9 C35.6 22.2 34.4 21.4 34.0 20.4 Z" fill="#f5dcc6" stroke="#8a7a6c" stroke-width="0.35"/><path d="M7.8 11.4 C7.8 9.2 8.2 7.8 8.7 6.7 C9.4 5.4 10.2 4.9 11.1 4.4 C12.5 3.6 13.8 3.1 15.3 2.8 C18 2.3 20.5 2.0 22.7 2.0 C25.5 2.0 28 2.0 30.2 2.0 C33 2.0 36 2.2 38.6 2.5 C40.8 2.8 42.6 3.3 44.2 3.9 C45.3 4.5 46.2 5.4 47 6.3 L50.3 6.7 C50 8.0 49.2 9.4 48 10 C47 10.4 46 10.6 45.2 10.9 C43.5 11.6 41.8 12.4 40.5 13.3 C39.3 14.2 38.4 15.1 37.7 16.1 C37.1 17.4 36.3 19.0 35.0 19.8 C33 20.3 29.4 20.3 27.6 19.7 C26.8 18.8 26.2 17.9 25 17.5 C24 17.3 23.3 17.3 22.7 17.5 C21 17.7 19.6 18.3 18.2 19.0 C16 19.8 13 19.6 10.5 18.8 C9.2 18.4 8.2 17.8 7.8 17 C7.4 15.2 7.4 13.2 7.8 11.4 Z" fill="url(#gm75)" stroke="#3a3a4a" stroke-width="0.4"/><path d="M18.2 12.3 C19.3 14.2 19.7 16.4 19.4 18.4" fill="none" stroke="#334" stroke-width="0.3" opacity="0.7"/><path d="M33.6 14.4 C34.2 15.6 34.4 16.6 34.3 17.6" fill="none" stroke="#334" stroke-width="0.3" opacity="0.7"/><path d="M12.5 6.5 C13.5 7.0 14.2 7.7 14.6 8.6" fill="none" stroke="#334" stroke-width="0.3" opacity="0.6"/><path d="M30.2 3.6 C29.8 1.4 31.6 -0.2 34.0 -0.2 C36.4 -0.2 37.8 1.6 37.4 3.6 C37.0 5.4 35.4 6.2 33.6 6.0 C31.8 5.8 30.5 5.0 30.2 3.6 Z" fill="#f5dcc6" stroke="#8a7a6c" stroke-width="0.35"/><path d="M46.0 6.4 C47.4 6.2 49.0 6.7 50.3 7.6 C50.0 8.7 49.0 9.4 47.6 9.6 C46.6 9.3 46.0 8.2 46.0 6.4 Z" fill="#f5dcc6" stroke="#8a7a6c" stroke-width="0.3"/><ellipse cx="43.4" cy="5.6" rx="1.3" ry="0.8" fill="#111" transform="rotate(-15 43.4 5.6)"/><path d="M48.0 9.2 L47.0 12.6 M48.8 9.3 L49.6 12.0 M49.4 6.9 L51.2 5.0 M50.0 7.3 L51.8 6.6" stroke="#555" stroke-width="0.3" fill="none"/></g>
<g transform="translate(225.40,98.00)"><circle r="5.02" fill="#e9a355"/><circle cx="0.00" cy="-4.97" r="0.85" fill="#33408a"/><circle cx="4.30" cy="-2.48" r="0.85" fill="#33408a"/><circle cx="4.30" cy="2.48" r="0.85" fill="#33408a"/><circle cx="0.00" cy="4.97" r="0.85" fill="#33408a"/><circle cx="-4.30" cy="2.48" r="0.85" fill="#33408a"/><circle cx="-4.30" cy="-2.48" r="0.85" fill="#33408a"/><circle r="3.78" fill="#4f9a70"/><circle r="3.13" fill="#f8f4c4"/><path d="M-1.6 2.0 C-1.8 0.4 -1.0 -1.4 0.2 -2.4 M0.2 2.4 C0.0 0.8 0.6 -0.8 1.6 -1.9" stroke="#5a9a6a" stroke-width="0.55" fill="none"/><path d="M-0.7 2.2 C-0.9 0.6 -0.3 -1.0 0.8 -2.2" stroke="#f0a898" stroke-width="0.6" fill="none"/></g>
<g transform="translate(230.50,101.60) rotate(43.0)"><line x1="0" y1="0" x2="1.48" y2="0" stroke="#888" stroke-width="0.6"/><line x1="0" y1="-1.6" x2="0" y2="1.6" stroke="#777" stroke-width="0.5"/><rect x="1.48" y="-1.5" width="6.77" height="3" fill="#fff" stroke="#888" stroke-width="0.35"/><rect x="3.69" y="-1.3" width="4.56" height="2.6" fill="url(#syr)"/><line x1="8.25" y1="0" x2="12.31" y2="0" stroke="#666" stroke-width="0.45"/></g>
<line x1="287.50" y1="116.50" x2="319.20" y2="116.50" stroke="#111" stroke-width="0.95" />
<path d="M323.00 116.50 L319.20 118.02 L319.20 114.98 Z" fill="#111"/>
<g transform="translate(295.40,97.60)"><circle r="5.02" fill="#e9a355"/><circle cx="0.00" cy="-4.97" r="0.85" fill="#33408a"/><circle cx="4.30" cy="-2.48" r="0.85" fill="#33408a"/><circle cx="4.30" cy="2.48" r="0.85" fill="#33408a"/><circle cx="0.00" cy="4.97" r="0.85" fill="#33408a"/><circle cx="-4.30" cy="2.48" r="0.85" fill="#33408a"/><circle cx="-4.30" cy="-2.48" r="0.85" fill="#33408a"/><circle r="3.78" fill="#4f9a70"/><circle r="3.13" fill="#f8f4c4"/><path d="M-1.6 2.0 C-1.8 0.4 -1.0 -1.4 0.2 -2.4 M0.2 2.4 C0.0 0.8 0.6 -0.8 1.6 -1.9" stroke="#5a9a6a" stroke-width="0.55" fill="none"/><path d="M-0.7 2.2 C-0.9 0.6 -0.3 -1.0 0.8 -2.2" stroke="#f0a898" stroke-width="0.6" fill="none"/></g>
<g transform="translate(301.20,100.60) rotate(43.5)"><line x1="0" y1="0" x2="1.97" y2="0" stroke="#888" stroke-width="0.6"/><line x1="0" y1="-1.6" x2="0" y2="1.6" stroke="#777" stroke-width="0.5"/><rect x="1.97" y="-1.5" width="9.03" height="3" fill="#fff" stroke="#888" stroke-width="0.35"/><rect x="4.92" y="-1.3" width="6.07" height="2.6" fill="url(#syr)"/><line x1="10.99" y1="0" x2="16.41" y2="0" stroke="#666" stroke-width="0.45"/></g>
<text x="310.90" y="105.20" font-size="6.8" fill="#000" text-anchor="start" textLength="6.6" lengthAdjust="spacingAndGlyphs" stroke="#000" stroke-width="0.2">x7</text>
<g transform="translate(326.50,105.80) scale(1.0)"><path d="M8.2 15.6 C5.8 16.4 3.8 17.6 2.4 19.4 C0.9 21.3 0.3 23.6 1.4 25.6 C2.6 27.5 5.2 28.1 7.4 28.2 C10.5 28.4 13.5 28.3 16.2 28.1 C19 27.8 21.6 27.3 23.6 26.4 C25.2 25.7 26.4 24.8 26.1 23.8 C25.8 22.8 24.6 22.5 23.4 22.6 C22.6 22.7 21.9 22.9 21.3 23.1" fill="none" stroke="#9b8a7c" stroke-width="1.75" stroke-linecap="round"/><path d="M8.2 15.6 C5.8 16.4 3.8 17.6 2.4 19.4 C0.9 21.3 0.3 23.6 1.4 25.6 C2.6 27.5 5.2 28.1 7.4 28.2 C10.5 28.4 13.5 28.3 16.2 28.1 C19 27.8 21.6 27.3 23.6 26.4 C25.2 25.7 26.4 24.8 26.1 23.8 C25.8 22.8 24.6 22.5 23.4 22.6 C22.6 22.7 21.9 22.9 21.3 23.1" fill="none" stroke="#f5dcc6" stroke-width="1.1" stroke-linecap="round"/><path d="M10.4 18.6 C12.5 19.2 14.8 19.8 16.6 20.6 C17.4 21.1 17.2 21.9 16.2 22.1 C14.2 22.3 11.8 21.3 10.3 20.3 Z" fill="#f5dcc6" stroke="#8a7a6c" stroke-width="0.35"/><path d="M34.0 18.4 C36.4 18.0 39.5 17.8 42.0 18.2 C42.6 18.5 42.5 19.2 41.8 19.5 C40.2 20.2 38.4 21.2 36.8 21.9 C35.6 22.2 34.4 21.4 34.0 20.4 Z" fill="#f5dcc6" stroke="#8a7a6c" stroke-width="0.35"/><path d="M7.8 11.4 C7.8 9.2 8.2 7.8 8.7 6.7 C9.4 5.4 10.2 4.9 11.1 4.4 C12.5 3.6 13.8 3.1 15.3 2.8 C18 2.3 20.5 2.0 22.7 2.0 C25.5 2.0 28 2.0 30.2 2.0 C33 2.0 36 2.2 38.6 2.5 C40.8 2.8 42.6 3.3 44.2 3.9 C45.3 4.5 46.2 5.4 47 6.3 L50.3 6.7 C50 8.0 49.2 9.4 48 10 C47 10.4 46 10.6 45.2 10.9 C43.5 11.6 41.8 12.4 40.5 13.3 C39.3 14.2 38.4 15.1 37.7 16.1 C37.1 17.4 36.3 19.0 35.0 19.8 C33 20.3 29.4 20.3 27.6 19.7 C26.8 18.8 26.2 17.9 25 17.5 C24 17.3 23.3 17.3 22.7 17.5 C21 17.7 19.6 18.3 18.2 19.0 C16 19.8 13 19.6 10.5 18.8 C9.2 18.4 8.2 17.8 7.8 17 C7.4 15.2 7.4 13.2 7.8 11.4 Z" fill="url(#gm75)" stroke="#3a3a4a" stroke-width="0.4"/><path d="M18.2 12.3 C19.3 14.2 19.7 16.4 19.4 18.4" fill="none" stroke="#334" stroke-width="0.3" opacity="0.7"/><path d="M33.6 14.4 C34.2 15.6 34.4 16.6 34.3 17.6" fill="none" stroke="#334" stroke-width="0.3" opacity="0.7"/><path d="M12.5 6.5 C13.5 7.0 14.2 7.7 14.6 8.6" fill="none" stroke="#334" stroke-width="0.3" opacity="0.6"/><path d="M30.2 3.6 C29.8 1.4 31.6 -0.2 34.0 -0.2 C36.4 -0.2 37.8 1.6 37.4 3.6 C37.0 5.4 35.4 6.2 33.6 6.0 C31.8 5.8 30.5 5.0 30.2 3.6 Z" fill="#f5dcc6" stroke="#8a7a6c" stroke-width="0.35"/><path d="M46.0 6.4 C47.4 6.2 49.0 6.7 50.3 7.6 C50.0 8.7 49.0 9.4 47.6 9.6 C46.6 9.3 46.0 8.2 46.0 6.4 Z" fill="#f5dcc6" stroke="#8a7a6c" stroke-width="0.3"/><ellipse cx="43.4" cy="5.6" rx="1.3" ry="0.8" fill="#111" transform="rotate(-15 43.4 5.6)"/><path d="M48.0 9.2 L47.0 12.6 M48.8 9.3 L49.6 12.0 M49.4 6.9 L51.2 5.0 M50.0 7.3 L51.8 6.6" stroke="#555" stroke-width="0.3" fill="none"/></g>
<text x="102.00" y="156.60" font-size="6.6" fill="#000" text-anchor="start" textLength="45.8" lengthAdjust="spacingAndGlyphs" >50% <tspan font-style="italic">CCR5</tspan>-edited</text>
<text x="102.00" y="163.90" font-size="6.6" fill="#000" text-anchor="start" textLength="78.0" lengthAdjust="spacingAndGlyphs" >50% mock edited (<tspan font-style="italic">GFP</tspan> gRNA)</text>
<g transform="translate(93.30,169.20) scale(1.0)"><path d="M8.2 15.6 C5.8 16.4 3.8 17.6 2.4 19.4 C0.9 21.3 0.3 23.6 1.4 25.6 C2.6 27.5 5.2 28.1 7.4 28.2 C10.5 28.4 13.5 28.3 16.2 28.1 C19 27.8 21.6 27.3 23.6 26.4 C25.2 25.7 26.4 24.8 26.1 23.8 C25.8 22.8 24.6 22.5 23.4 22.6 C22.6 22.7 21.9 22.9 21.3 23.1" fill="none" stroke="#9b8a7c" stroke-width="1.75" stroke-linecap="round"/><path d="M8.2 15.6 C5.8 16.4 3.8 17.6 2.4 19.4 C0.9 21.3 0.3 23.6 1.4 25.6 C2.6 27.5 5.2 28.1 7.4 28.2 C10.5 28.4 13.5 28.3 16.2 28.1 C19 27.8 21.6 27.3 23.6 26.4 C25.2 25.7 26.4 24.8 26.1 23.8 C25.8 22.8 24.6 22.5 23.4 22.6 C22.6 22.7 21.9 22.9 21.3 23.1" fill="none" stroke="#f5dcc6" stroke-width="1.1" stroke-linecap="round"/><path d="M10.4 18.6 C12.5 19.2 14.8 19.8 16.6 20.6 C17.4 21.1 17.2 21.9 16.2 22.1 C14.2 22.3 11.8 21.3 10.3 20.3 Z" fill="#f5dcc6" stroke="#8a7a6c" stroke-width="0.35"/><path d="M34.0 18.4 C36.4 18.0 39.5 17.8 42.0 18.2 C42.6 18.5 42.5 19.2 41.8 19.5 C40.2 20.2 38.4 21.2 36.8 21.9 C35.6 22.2 34.4 21.4 34.0 20.4 Z" fill="#f5dcc6" stroke="#8a7a6c" stroke-width="0.35"/><path d="M7.8 11.4 C7.8 9.2 8.2 7.8 8.7 6.7 C9.4 5.4 10.2 4.9 11.1 4.4 C12.5 3.6 13.8 3.1 15.3 2.8 C18 2.3 20.5 2.0 22.7 2.0 C25.5 2.0 28 2.0 30.2 2.0 C33 2.0 36 2.2 38.6 2.5 C40.8 2.8 42.6 3.3 44.2 3.9 C45.3 4.5 46.2 5.4 47 6.3 L50.3 6.7 C50 8.0 49.2 9.4 48 10 C47 10.4 46 10.6 45.2 10.9 C43.5 11.6 41.8 12.4 40.5 13.3 C39.3 14.2 38.4 15.1 37.7 16.1 C37.1 17.4 36.3 19.0 35.0 19.8 C33 20.3 29.4 20.3 27.6 19.7 C26.8 18.8 26.2 17.9 25 17.5 C24 17.3 23.3 17.3 22.7 17.5 C21 17.7 19.6 18.3 18.2 19.0 C16 19.8 13 19.6 10.5 18.8 C9.2 18.4 8.2 17.8 7.8 17 C7.4 15.2 7.4 13.2 7.8 11.4 Z" fill="url(#gm50)" stroke="#3a3a4a" stroke-width="0.4"/><path d="M18.2 12.3 C19.3 14.2 19.7 16.4 19.4 18.4" fill="none" stroke="#334" stroke-width="0.3" opacity="0.7"/><path d="M33.6 14.4 C34.2 15.6 34.4 16.6 34.3 17.6" fill="none" stroke="#334" stroke-width="0.3" opacity="0.7"/><path d="M12.5 6.5 C13.5 7.0 14.2 7.7 14.6 8.6" fill="none" stroke="#334" stroke-width="0.3" opacity="0.6"/><path d="M30.2 3.6 C29.8 1.4 31.6 -0.2 34.0 -0.2 C36.4 -0.2 37.8 1.6 37.4 3.6 C37.0 5.4 35.4 6.2 33.6 6.0 C31.8 5.8 30.5 5.0 30.2 3.6 Z" fill="#f5dcc6" stroke="#8a7a6c" stroke-width="0.35"/><path d="M46.0 6.4 C47.4 6.2 49.0 6.7 50.3 7.6 C50.0 8.7 49.0 9.4 47.6 9.6 C46.6 9.3 46.0 8.2 46.0 6.4 Z" fill="#f5dcc6" stroke="#8a7a6c" stroke-width="0.3"/><ellipse cx="43.4" cy="5.6" rx="1.3" ry="0.8" fill="#111" transform="rotate(-15 43.4 5.6)"/><path d="M48.0 9.2 L47.0 12.6 M48.8 9.3 L49.6 12.0 M49.4 6.9 L51.2 5.0 M50.0 7.3 L51.8 6.6" stroke="#555" stroke-width="0.3" fill="none"/></g>
<g transform="translate(95.20,166.40) rotate(40.9)"><line x1="0" y1="0" x2="1.43" y2="0" stroke="#888" stroke-width="0.6"/><line x1="0" y1="-1.6" x2="0" y2="1.6" stroke="#777" stroke-width="0.5"/><rect x="1.43" y="-1.5" width="6.55" height="3" fill="#fff" stroke="#888" stroke-width="0.35"/><rect x="3.57" y="-1.3" width="4.41" height="2.6" fill="#d8323a"/><line x1="7.98" y1="0" x2="11.91" y2="0" stroke="#666" stroke-width="0.45"/></g>
<line x1="150.80" y1="179.50" x2="215.20" y2="179.50" stroke="#111" stroke-width="0.95" />
<path d="M219.00 179.50 L215.20 181.02 L215.20 177.98 Z" fill="#111"/>
<g transform="translate(227.50,169.20) scale(1.0)"><path d="M8.2 15.6 C5.8 16.4 3.8 17.6 2.4 19.4 C0.9 21.3 0.3 23.6 1.4 25.6 C2.6 27.5 5.2 28.1 7.4 28.2 C10.5 28.4 13.5 28.3 16.2 28.1 C19 27.8 21.6 27.3 23.6 26.4 C25.2 25.7 26.4 24.8 26.1 23.8 C25.8 22.8 24.6 22.5 23.4 22.6 C22.6 22.7 21.9 22.9 21.3 23.1" fill="none" stroke="#9b8a7c" stroke-width="1.75" stroke-linecap="round"/><path d="M8.2 15.6 C5.8 16.4 3.8 17.6 2.4 19.4 C0.9 21.3 0.3 23.6 1.4 25.6 C2.6 27.5 5.2 28.1 7.4 28.2 C10.5 28.4 13.5 28.3 16.2 28.1 C19 27.8 21.6 27.3 23.6 26.4 C25.2 25.7 26.4 24.8 26.1 23.8 C25.8 22.8 24.6 22.5 23.4 22.6 C22.6 22.7 21.9 22.9 21.3 23.1" fill="none" stroke="#f5dcc6" stroke-width="1.1" stroke-linecap="round"/><path d="M10.4 18.6 C12.5 19.2 14.8 19.8 16.6 20.6 C17.4 21.1 17.2 21.9 16.2 22.1 C14.2 22.3 11.8 21.3 10.3 20.3 Z" fill="#f5dcc6" stroke="#8a7a6c" stroke-width="0.35"/><path d="M34.0 18.4 C36.4 18.0 39.5 17.8 42.0 18.2 C42.6 18.5 42.5 19.2 41.8 19.5 C40.2 20.2 38.4 21.2 36.8 21.9 C35.6 22.2 34.4 21.4 34.0 20.4 Z" fill="#f5dcc6" stroke="#8a7a6c" stroke-width="0.35"/><path d="M7.8 11.4 C7.8 9.2 8.2 7.8 8.7 6.7 C9.4 5.4 10.2 4.9 11.1 4.4 C12.5 3.6 13.8 3.1 15.3 2.8 C18 2.3 20.5 2.0 22.7 2.0 C25.5 2.0 28 2.0 30.2 2.0 C33 2.0 36 2.2 38.6 2.5 C40.8 2.8 42.6 3.3 44.2 3.9 C45.3 4.5 46.2 5.4 47 6.3 L50.3 6.7 C50 8.0 49.2 9.4 48 10 C47 10.4 46 10.6 45.2 10.9 C43.5 11.6 41.8 12.4 40.5 13.3 C39.3 14.2 38.4 15.1 37.7 16.1 C37.1 17.4 36.3 19.0 35.0 19.8 C33 20.3 29.4 20.3 27.6 19.7 C26.8 18.8 26.2 17.9 25 17.5 C24 17.3 23.3 17.3 22.7 17.5 C21 17.7 19.6 18.3 18.2 19.0 C16 19.8 13 19.6 10.5 18.8 C9.2 18.4 8.2 17.8 7.8 17 C7.4 15.2 7.4 13.2 7.8 11.4 Z" fill="url(#gm50)" stroke="#3a3a4a" stroke-width="0.4"/><path d="M18.2 12.3 C19.3 14.2 19.7 16.4 19.4 18.4" fill="none" stroke="#334" stroke-width="0.3" opacity="0.7"/><path d="M33.6 14.4 C34.2 15.6 34.4 16.6 34.3 17.6" fill="none" stroke="#334" stroke-width="0.3" opacity="0.7"/><path d="M12.5 6.5 C13.5 7.0 14.2 7.7 14.6 8.6" fill="none" stroke="#334" stroke-width="0.3" opacity="0.6"/><path d="M30.2 3.6 C29.8 1.4 31.6 -0.2 34.0 -0.2 C36.4 -0.2 37.8 1.6 37.4 3.6 C37.0 5.4 35.4 6.2 33.6 6.0 C31.8 5.8 30.5 5.0 30.2 3.6 Z" fill="#f5dcc6" stroke="#8a7a6c" stroke-width="0.35"/><path d="M46.0 6.4 C47.4 6.2 49.0 6.7 50.3 7.6 C50.0 8.7 49.0 9.4 47.6 9.6 C46.6 9.3 46.0 8.2 46.0 6.4 Z" fill="#f5dcc6" stroke="#8a7a6c" stroke-width="0.3"/><ellipse cx="43.4" cy="5.6" rx="1.3" ry="0.8" fill="#111" transform="rotate(-15 43.4 5.6)"/><path d="M48.0 9.2 L47.0 12.6 M48.8 9.3 L49.6 12.0 M49.4 6.9 L51.2 5.0 M50.0 7.3 L51.8 6.6" stroke="#555" stroke-width="0.3" fill="none"/></g>
<g transform="translate(225.40,160.40)"><circle r="5.02" fill="#e9a355"/><circle cx="0.00" cy="-4.97" r="0.85" fill="#33408a"/><circle cx="4.30" cy="-2.48" r="0.85" fill="#33408a"/><circle cx="4.30" cy="2.48" r="0.85" fill="#33408a"/><circle cx="0.00" cy="4.97" r="0.85" fill="#33408a"/><circle cx="-4.30" cy="2.48" r="0.85" fill="#33408a"/><circle cx="-4.30" cy="-2.48" r="0.85" fill="#33408a"/><circle r="3.78" fill="#4f9a70"/><circle r="3.13" fill="#f8f4c4"/><path d="M-1.6 2.0 C-1.8 0.4 -1.0 -1.4 0.2 -2.4 M0.2 2.4 C0.0 0.8 0.6 -0.8 1.6 -1.9" stroke="#5a9a6a" stroke-width="0.55" fill="none"/><path d="M-0.7 2.2 C-0.9 0.6 -0.3 -1.0 0.8 -2.2" stroke="#f0a898" stroke-width="0.6" fill="none"/></g>
<g transform="translate(230.50,165.00) rotate(43.0)"><line x1="0" y1="0" x2="1.48" y2="0" stroke="#888" stroke-width="0.6"/><line x1="0" y1="-1.6" x2="0" y2="1.6" stroke="#777" stroke-width="0.5"/><rect x="1.48" y="-1.5" width="6.77" height="3" fill="#fff" stroke="#888" stroke-width="0.35"/><rect x="3.69" y="-1.3" width="4.56" height="2.6" fill="url(#syr)"/><line x1="8.25" y1="0" x2="12.31" y2="0" stroke="#666" stroke-width="0.45"/></g>
<line x1="287.50" y1="179.50" x2="319.20" y2="179.50" stroke="#111" stroke-width="0.95" />
<path d="M323.00 179.50 L319.20 181.02 L319.20 177.98 Z" fill="#111"/>
<g transform="translate(295.40,160.00)"><circle r="5.02" fill="#e9a355"/><circle cx="0.00" cy="-4.97" r="0.85" fill="#33408a"/><circle cx="4.30" cy="-2.48" r="0.85" fill="#33408a"/><circle cx="4.30" cy="2.48" r="0.85" fill="#33408a"/><circle cx="0.00" cy="4.97" r="0.85" fill="#33408a"/><circle cx="-4.30" cy="2.48" r="0.85" fill="#33408a"/><circle cx="-4.30" cy="-2.48" r="0.85" fill="#33408a"/><circle r="3.78" fill="#4f9a70"/><circle r="3.13" fill="#f8f4c4"/><path d="M-1.6 2.0 C-1.8 0.4 -1.0 -1.4 0.2 -2.4 M0.2 2.4 C0.0 0.8 0.6 -0.8 1.6 -1.9" stroke="#5a9a6a" stroke-width="0.55" fill="none"/><path d="M-0.7 2.2 C-0.9 0.6 -0.3 -1.0 0.8 -2.2" stroke="#f0a898" stroke-width="0.6" fill="none"/></g>
<g transform="translate(301.20,164.00) rotate(43.5)"><line x1="0" y1="0" x2="1.97" y2="0" stroke="#888" stroke-width="0.6"/><line x1="0" y1="-1.6" x2="0" y2="1.6" stroke="#777" stroke-width="0.5"/><rect x="1.97" y="-1.5" width="9.03" height="3" fill="#fff" stroke="#888" stroke-width="0.35"/><rect x="4.92" y="-1.3" width="6.07" height="2.6" fill="url(#syr)"/><line x1="10.99" y1="0" x2="16.41" y2="0" stroke="#666" stroke-width="0.45"/></g>
<text x="310.90" y="168.60" font-size="6.8" fill="#000" text-anchor="start" textLength="6.6" lengthAdjust="spacingAndGlyphs" stroke="#000" stroke-width="0.2">x7</text>
<g transform="translate(326.50,169.20) scale(1.0)"><path d="M8.2 15.6 C5.8 16.4 3.8 17.6 2.4 19.4 C0.9 21.3 0.3 23.6 1.4 25.6 C2.6 27.5 5.2 28.1 7.4 28.2 C10.5 28.4 13.5 28.3 16.2 28.1 C19 27.8 21.6 27.3 23.6 26.4 C25.2 25.7 26.4 24.8 26.1 23.8 C25.8 22.8 24.6 22.5 23.4 22.6 C22.6 22.7 21.9 22.9 21.3 23.1" fill="none" stroke="#9b8a7c" stroke-width="1.75" stroke-linecap="round"/><path d="M8.2 15.6 C5.8 16.4 3.8 17.6 2.4 19.4 C0.9 21.3 0.3 23.6 1.4 25.6 C2.6 27.5 5.2 28.1 7.4 28.2 C10.5 28.4 13.5 28.3 16.2 28.1 C19 27.8 21.6 27.3 23.6 26.4 C25.2 25.7 26.4 24.8 26.1 23.8 C25.8 22.8 24.6 22.5 23.4 22.6 C22.6 22.7 21.9 22.9 21.3 23.1" fill="none" stroke="#f5dcc6" stroke-width="1.1" stroke-linecap="round"/><path d="M10.4 18.6 C12.5 19.2 14.8 19.8 16.6 20.6 C17.4 21.1 17.2 21.9 16.2 22.1 C14.2 22.3 11.8 21.3 10.3 20.3 Z" fill="#f5dcc6" stroke="#8a7a6c" stroke-width="0.35"/><path d="M34.0 18.4 C36.4 18.0 39.5 17.8 42.0 18.2 C42.6 18.5 42.5 19.2 41.8 19.5 C40.2 20.2 38.4 21.2 36.8 21.9 C35.6 22.2 34.4 21.4 34.0 20.4 Z" fill="#f5dcc6" stroke="#8a7a6c" stroke-width="0.35"/><path d="M7.8 11.4 C7.8 9.2 8.2 7.8 8.7 6.7 C9.4 5.4 10.2 4.9 11.1 4.4 C12.5 3.6 13.8 3.1 15.3 2.8 C18 2.3 20.5 2.0 22.7 2.0 C25.5 2.0 28 2.0 30.2 2.0 C33 2.0 36 2.2 38.6 2.5 C40.8 2.8 42.6 3.3 44.2 3.9 C45.3 4.5 46.2 5.4 47 6.3 L50.3 6.7 C50 8.0 49.2 9.4 48 10 C47 10.4 46 10.6 45.2 10.9 C43.5 11.6 41.8 12.4 40.5 13.3 C39.3 14.2 38.4 15.1 37.7 16.1 C37.1 17.4 36.3 19.0 35.0 19.8 C33 20.3 29.4 20.3 27.6 19.7 C26.8 18.8 26.2 17.9 25 17.5 C24 17.3 23.3 17.3 22.7 17.5 C21 17.7 19.6 18.3 18.2 19.0 C16 19.8 13 19.6 10.5 18.8 C9.2 18.4 8.2 17.8 7.8 17 C7.4 15.2 7.4 13.2 7.8 11.4 Z" fill="url(#gm50)" stroke="#3a3a4a" stroke-width="0.4"/><path d="M18.2 12.3 C19.3 14.2 19.7 16.4 19.4 18.4" fill="none" stroke="#334" stroke-width="0.3" opacity="0.7"/><path d="M33.6 14.4 C34.2 15.6 34.4 16.6 34.3 17.6" fill="none" stroke="#334" stroke-width="0.3" opacity="0.7"/><path d="M12.5 6.5 C13.5 7.0 14.2 7.7 14.6 8.6" fill="none" stroke="#334" stroke-width="0.3" opacity="0.6"/><path d="M30.2 3.6 C29.8 1.4 31.6 -0.2 34.0 -0.2 C36.4 -0.2 37.8 1.6 37.4 3.6 C37.0 5.4 35.4 6.2 33.6 6.0 C31.8 5.8 30.5 5.0 30.2 3.6 Z" fill="#f5dcc6" stroke="#8a7a6c" stroke-width="0.35"/><path d="M46.0 6.4 C47.4 6.2 49.0 6.7 50.3 7.6 C50.0 8.7 49.0 9.4 47.6 9.6 C46.6 9.3 46.0 8.2 46.0 6.4 Z" fill="#f5dcc6" stroke="#8a7a6c" stroke-width="0.3"/><ellipse cx="43.4" cy="5.6" rx="1.3" ry="0.8" fill="#111" transform="rotate(-15 43.4 5.6)"/><path d="M48.0 9.2 L47.0 12.6 M48.8 9.3 L49.6 12.0 M49.4 6.9 L51.2 5.0 M50.0 7.3 L51.8 6.6" stroke="#555" stroke-width="0.3" fill="none"/></g>
<text x="102.00" y="219.50" font-size="6.6" fill="#000" text-anchor="start" textLength="45.8" lengthAdjust="spacingAndGlyphs" >25% <tspan font-style="italic">CCR5</tspan>-edited</text>
<text x="102.00" y="226.80" font-size="6.6" fill="#000" text-anchor="start" textLength="78.0" lengthAdjust="spacingAndGlyphs" >75% mock edited (<tspan font-style="italic">GFP</tspan> gRNA)</text>
<g transform="translate(93.30,230.60) scale(1.0)"><path d="M8.2 15.6 C5.8 16.4 3.8 17.6 2.4 19.4 C0.9 21.3 0.3 23.6 1.4 25.6 C2.6 27.5 5.2 28.1 7.4 28.2 C10.5 28.4 13.5 28.3 16.2 28.1 C19 27.8 21.6 27.3 23.6 26.4 C25.2 25.7 26.4 24.8 26.1 23.8 C25.8 22.8 24.6 22.5 23.4 22.6 C22.6 22.7 21.9 22.9 21.3 23.1" fill="none" stroke="#9b8a7c" stroke-width="1.75" stroke-linecap="round"/><path d="M8.2 15.6 C5.8 16.4 3.8 17.6 2.4 19.4 C0.9 21.3 0.3 23.6 1.4 25.6 C2.6 27.5 5.2 28.1 7.4 28.2 C10.5 28.4 13.5 28.3 16.2 28.1 C19 27.8 21.6 27.3 23.6 26.4 C25.2 25.7 26.4 24.8 26.1 23.8 C25.8 22.8 24.6 22.5 23.4 22.6 C22.6 22.7 21.9 22.9 21.3 23.1" fill="none" stroke="#f5dcc6" stroke-width="1.1" stroke-linecap="round"/><path d="M10.4 18.6 C12.5 19.2 14.8 19.8 16.6 20.6 C17.4 21.1 17.2 21.9 16.2 22.1 C14.2 22.3 11.8 21.3 10.3 20.3 Z" fill="#f5dcc6" stroke="#8a7a6c" stroke-width="0.35"/><path d="M34.0 18.4 C36.4 18.0 39.5 17.8 42.0 18.2 C42.6 18.5 42.5 19.2 41.8 19.5 C40.2 20.2 38.4 21.2 36.8 21.9 C35.6 22.2 34.4 21.4 34.0 20.4 Z" fill="#f5dcc6" stroke="#8a7a6c" stroke-width="0.35"/><path d="M7.8 11.4 C7.8 9.2 8.2 7.8 8.7 6.7 C9.4 5.4 10.2 4.9 11.1 4.4 C12.5 3.6 13.8 3.1 15.3 2.8 C18 2.3 20.5 2.0 22.7 2.0 C25.5 2.0 28 2.0 30.2 2.0 C33 2.0 36 2.2 38.6 2.5 C40.8 2.8 42.6 3.3 44.2 3.9 C45.3 4.5 46.2 5.4 47 6.3 L50.3 6.7 C50 8.0 49.2 9.4 48 10 C47 10.4 46 10.6 45.2 10.9 C43.5 11.6 41.8 12.4 40.5 13.3 C39.3 14.2 38.4 15.1 37.7 16.1 C37.1 17.4 36.3 19.0 35.0 19.8 C33 20.3 29.4 20.3 27.6 19.7 C26.8 18.8 26.2 17.9 25 17.5 C24 17.3 23.3 17.3 22.7 17.5 C21 17.7 19.6 18.3 18.2 19.0 C16 19.8 13 19.6 10.5 18.8 C9.2 18.4 8.2 17.8 7.8 17 C7.4 15.2 7.4 13.2 7.8 11.4 Z" fill="url(#gm25)" stroke="#3a3a4a" stroke-width="0.4"/><path d="M18.2 12.3 C19.3 14.2 19.7 16.4 19.4 18.4" fill="none" stroke="#334" stroke-width="0.3" opacity="0.7"/><path d="M33.6 14.4 C34.2 15.6 34.4 16.6 34.3 17.6" fill="none" stroke="#334" stroke-width="0.3" opacity="0.7"/><path d="M12.5 6.5 C13.5 7.0 14.2 7.7 14.6 8.6" fill="none" stroke="#334" stroke-width="0.3" opacity="0.6"/><path d="M30.2 3.6 C29.8 1.4 31.6 -0.2 34.0 -0.2 C36.4 -0.2 37.8 1.6 37.4 3.6 C37.0 5.4 35.4 6.2 33.6 6.0 C31.8 5.8 30.5 5.0 30.2 3.6 Z" fill="#f5dcc6" stroke="#8a7a6c" stroke-width="0.35"/><path d="M46.0 6.4 C47.4 6.2 49.0 6.7 50.3 7.6 C50.0 8.7 49.0 9.4 47.6 9.6 C46.6 9.3 46.0 8.2 46.0 6.4 Z" fill="#f5dcc6" stroke="#8a7a6c" stroke-width="0.3"/><ellipse cx="43.4" cy="5.6" rx="1.3" ry="0.8" fill="#111" transform="rotate(-15 43.4 5.6)"/><path d="M48.0 9.2 L47.0 12.6 M48.8 9.3 L49.6 12.0 M49.4 6.9 L51.2 5.0 M50.0 7.3 L51.8 6.6" stroke="#555" stroke-width="0.3" fill="none"/></g>
<g transform="translate(95.20,227.80) rotate(40.9)"><line x1="0" y1="0" x2="1.43" y2="0" stroke="#888" stroke-width="0.6"/><line x1="0" y1="-1.6" x2="0" y2="1.6" stroke="#777" stroke-width="0.5"/><rect x="1.43" y="-1.5" width="6.55" height="3" fill="#fff" stroke="#888" stroke-width="0.35"/><rect x="3.57" y="-1.3" width="4.41" height="2.6" fill="#d8323a"/><line x1="7.98" y1="0" x2="11.91" y2="0" stroke="#666" stroke-width="0.45"/></g>
<line x1="150.80" y1="239.50" x2="215.20" y2="239.50" stroke="#111" stroke-width="0.95" />
<path d="M219.00 239.50 L215.20 241.02 L215.20 237.98 Z" fill="#111"/>
<g transform="translate(227.50,230.60) scale(1.0)"><path d="M8.2 15.6 C5.8 16.4 3.8 17.6 2.4 19.4 C0.9 21.3 0.3 23.6 1.4 25.6 C2.6 27.5 5.2 28.1 7.4 28.2 C10.5 28.4 13.5 28.3 16.2 28.1 C19 27.8 21.6 27.3 23.6 26.4 C25.2 25.7 26.4 24.8 26.1 23.8 C25.8 22.8 24.6 22.5 23.4 22.6 C22.6 22.7 21.9 22.9 21.3 23.1" fill="none" stroke="#9b8a7c" stroke-width="1.75" stroke-linecap="round"/><path d="M8.2 15.6 C5.8 16.4 3.8 17.6 2.4 19.4 C0.9 21.3 0.3 23.6 1.4 25.6 C2.6 27.5 5.2 28.1 7.4 28.2 C10.5 28.4 13.5 28.3 16.2 28.1 C19 27.8 21.6 27.3 23.6 26.4 C25.2 25.7 26.4 24.8 26.1 23.8 C25.8 22.8 24.6 22.5 23.4 22.6 C22.6 22.7 21.9 22.9 21.3 23.1" fill="none" stroke="#f5dcc6" stroke-width="1.1" stroke-linecap="round"/><path d="M10.4 18.6 C12.5 19.2 14.8 19.8 16.6 20.6 C17.4 21.1 17.2 21.9 16.2 22.1 C14.2 22.3 11.8 21.3 10.3 20.3 Z" fill="#f5dcc6" stroke="#8a7a6c" stroke-width="0.35"/><path d="M34.0 18.4 C36.4 18.0 39.5 17.8 42.0 18.2 C42.6 18.5 42.5 19.2 41.8 19.5 C40.2 20.2 38.4 21.2 36.8 21.9 C35.6 22.2 34.4 21.4 34.0 20.4 Z" fill="#f5dcc6" stroke="#8a7a6c" stroke-width="0.35"/><path d="M7.8 11.4 C7.8 9.2 8.2 7.8 8.7 6.7 C9.4 5.4 10.2 4.9 11.1 4.4 C12.5 3.6 13.8 3.1 15.3 2.8 C18 2.3 20.5 2.0 22.7 2.0 C25.5 2.0 28 2.0 30.2 2.0 C33 2.0 36 2.2 38.6 2.5 C40.8 2.8 42.6 3.3 44.2 3.9 C45.3 4.5 46.2 5.4 47 6.3 L50.3 6.7 C50 8.0 49.2 9.4 48 10 C47 10.4 46 10.6 45.2 10.9 C43.5 11.6 41.8 12.4 40.5 13.3 C39.3 14.2 38.4 15.1 37.7 16.1 C37.1 17.4 36.3 19.0 35.0 19.8 C33 20.3 29.4 20.3 27.6 19.7 C26.8 18.8 26.2 17.9 25 17.5 C24 17.3 23.3 17.3 22.7 17.5 C21 17.7 19.6 18.3 18.2 19.0 C16 19.8 13 19.6 10.5 18.8 C9.2 18.4 8.2 17.8 7.8 17 C7.4 15.2 7.4 13.2 7.8 11.4 Z" fill="url(#gm25)" stroke="#3a3a4a" stroke-width="0.4"/><path d="M18.2 12.3 C19.3 14.2 19.7 16.4 19.4 18.4" fill="none" stroke="#334" stroke-width="0.3" opacity="0.7"/><path d="M33.6 14.4 C34.2 15.6 34.4 16.6 34.3 17.6" fill="none" stroke="#334" stroke-width="0.3" opacity="0.7"/><path d="M12.5 6.5 C13.5 7.0 14.2 7.7 14.6 8.6" fill="none" stroke="#334" stroke-width="0.3" opacity="0.6"/><path d="M30.2 3.6 C29.8 1.4 31.6 -0.2 34.0 -0.2 C36.4 -0.2 37.8 1.6 37.4 3.6 C37.0 5.4 35.4 6.2 33.6 6.0 C31.8 5.8 30.5 5.0 30.2 3.6 Z" fill="#f5dcc6" stroke="#8a7a6c" stroke-width="0.35"/><path d="M46.0 6.4 C47.4 6.2 49.0 6.7 50.3 7.6 C50.0 8.7 49.0 9.4 47.6 9.6 C46.6 9.3 46.0 8.2 46.0 6.4 Z" fill="#f5dcc6" stroke="#8a7a6c" stroke-width="0.3"/><ellipse cx="43.4" cy="5.6" rx="1.3" ry="0.8" fill="#111" transform="rotate(-15 43.4 5.6)"/><path d="M48.0 9.2 L47.0 12.6 M48.8 9.3 L49.6 12.0 M49.4 6.9 L51.2 5.0 M50.0 7.3 L51.8 6.6" stroke="#555" stroke-width="0.3" fill="none"/></g>
<g transform="translate(225.40,221.30)"><circle r="5.02" fill="#e9a355"/><circle cx="0.00" cy="-4.97" r="0.85" fill="#33408a"/><circle cx="4.30" cy="-2.48" r="0.85" fill="#33408a"/><circle cx="4.30" cy="2.48" r="0.85" fill="#33408a"/><circle cx="0.00" cy="4.97" r="0.85" fill="#33408a"/><circle cx="-4.30" cy="2.48" r="0.85" fill="#33408a"/><circle cx="-4.30" cy="-2.48" r="0.85" fill="#33408a"/><circle r="3.78" fill="#4f9a70"/><circle r="3.13" fill="#f8f4c4"/><path d="M-1.6 2.0 C-1.8 0.4 -1.0 -1.4 0.2 -2.4 M0.2 2.4 C0.0 0.8 0.6 -0.8 1.6 -1.9" stroke="#5a9a6a" stroke-width="0.55" fill="none"/><path d="M-0.7 2.2 C-0.9 0.6 -0.3 -1.0 0.8 -2.2" stroke="#f0a898" stroke-width="0.6" fill="none"/></g>
<g transform="translate(230.50,226.40) rotate(43.0)"><line x1="0" y1="0" x2="1.48" y2="0" stroke="#888" stroke-width="0.6"/><line x1="0" y1="-1.6" x2="0" y2="1.6" stroke="#777" stroke-width="0.5"/><rect x="1.48" y="-1.5" width="6.77" height="3" fill="#fff" stroke="#888" stroke-width="0.35"/><rect x="3.69" y="-1.3" width="4.56" height="2.6" fill="url(#syr)"/><line x1="8.25" y1="0" x2="12.31" y2="0" stroke="#666" stroke-width="0.45"/></g>
<line x1="287.50" y1="239.50" x2="319.20" y2="239.50" stroke="#111" stroke-width="0.95" />
<path d="M323.00 239.50 L319.20 241.02 L319.20 237.98 Z" fill="#111"/>
<g transform="translate(295.40,220.90)"><circle r="5.02" fill="#e9a355"/><circle cx="0.00" cy="-4.97" r="0.85" fill="#33408a"/><circle cx="4.30" cy="-2.48" r="0.85" fill="#33408a"/><circle cx="4.30" cy="2.48" r="0.85" fill="#33408a"/><circle cx="0.00" cy="4.97" r="0.85" fill="#33408a"/><circle cx="-4.30" cy="2.48" r="0.85" fill="#33408a"/><circle cx="-4.30" cy="-2.48" r="0.85" fill="#33408a"/><circle r="3.78" fill="#4f9a70"/><circle r="3.13" fill="#f8f4c4"/><path d="M-1.6 2.0 C-1.8 0.4 -1.0 -1.4 0.2 -2.4 M0.2 2.4 C0.0 0.8 0.6 -0.8 1.6 -1.9" stroke="#5a9a6a" stroke-width="0.55" fill="none"/><path d="M-0.7 2.2 C-0.9 0.6 -0.3 -1.0 0.8 -2.2" stroke="#f0a898" stroke-width="0.6" fill="none"/></g>
<g transform="translate(301.20,225.40) rotate(43.5)"><line x1="0" y1="0" x2="1.97" y2="0" stroke="#888" stroke-width="0.6"/><line x1="0" y1="-1.6" x2="0" y2="1.6" stroke="#777" stroke-width="0.5"/><rect x="1.97" y="-1.5" width="9.03" height="3" fill="#fff" stroke="#888" stroke-width="0.35"/><rect x="4.92" y="-1.3" width="6.07" height="2.6" fill="url(#syr)"/><line x1="10.99" y1="0" x2="16.41" y2="0" stroke="#666" stroke-width="0.45"/></g>
<text x="310.90" y="230.00" font-size="6.8" fill="#000" text-anchor="start" textLength="6.6" lengthAdjust="spacingAndGlyphs" stroke="#000" stroke-width="0.2">x7</text>
<g transform="translate(326.50,230.60) scale(1.0)"><path d="M8.2 15.6 C5.8 16.4 3.8 17.6 2.4 19.4 C0.9 21.3 0.3 23.6 1.4 25.6 C2.6 27.5 5.2 28.1 7.4 28.2 C10.5 28.4 13.5 28.3 16.2 28.1 C19 27.8 21.6 27.3 23.6 26.4 C25.2 25.7 26.4 24.8 26.1 23.8 C25.8 22.8 24.6 22.5 23.4 22.6 C22.6 22.7 21.9 22.9 21.3 23.1" fill="none" stroke="#9b8a7c" stroke-width="1.75" stroke-linecap="round"/><path d="M8.2 15.6 C5.8 16.4 3.8 17.6 2.4 19.4 C0.9 21.3 0.3 23.6 1.4 25.6 C2.6 27.5 5.2 28.1 7.4 28.2 C10.5 28.4 13.5 28.3 16.2 28.1 C19 27.8 21.6 27.3 23.6 26.4 C25.2 25.7 26.4 24.8 26.1 23.8 C25.8 22.8 24.6 22.5 23.4 22.6 C22.6 22.7 21.9 22.9 21.3 23.1" fill="none" stroke="#f5dcc6" stroke-width="1.1" stroke-linecap="round"/><path d="M10.4 18.6 C12.5 19.2 14.8 19.8 16.6 20.6 C17.4 21.1 17.2 21.9 16.2 22.1 C14.2 22.3 11.8 21.3 10.3 20.3 Z" fill="#f5dcc6" stroke="#8a7a6c" stroke-width="0.35"/><path d="M34.0 18.4 C36.4 18.0 39.5 17.8 42.0 18.2 C42.6 18.5 42.5 19.2 41.8 19.5 C40.2 20.2 38.4 21.2 36.8 21.9 C35.6 22.2 34.4 21.4 34.0 20.4 Z" fill="#f5dcc6" stroke="#8a7a6c" stroke-width="0.35"/><path d="M7.8 11.4 C7.8 9.2 8.2 7.8 8.7 6.7 C9.4 5.4 10.2 4.9 11.1 4.4 C12.5 3.6 13.8 3.1 15.3 2.8 C18 2.3 20.5 2.0 22.7 2.0 C25.5 2.0 28 2.0 30.2 2.0 C33 2.0 36 2.2 38.6 2.5 C40.8 2.8 42.6 3.3 44.2 3.9 C45.3 4.5 46.2 5.4 47 6.3 L50.3 6.7 C50 8.0 49.2 9.4 48 10 C47 10.4 46 10.6 45.2 10.9 C43.5 11.6 41.8 12.4 40.5 13.3 C39.3 14.2 38.4 15.1 37.7 16.1 C37.1 17.4 36.3 19.0 35.0 19.8 C33 20.3 29.4 20.3 27.6 19.7 C26.8 18.8 26.2 17.9 25 17.5 C24 17.3 23.3 17.3 22.7 17.5 C21 17.7 19.6 18.3 18.2 19.0 C16 19.8 13 19.6 10.5 18.8 C9.2 18.4 8.2 17.8 7.8 17 C7.4 15.2 7.4 13.2 7.8 11.4 Z" fill="url(#gm25)" stroke="#3a3a4a" stroke-width="0.4"/><path d="M18.2 12.3 C19.3 14.2 19.7 16.4 19.4 18.4" fill="none" stroke="#334" stroke-width="0.3" opacity="0.7"/><path d="M33.6 14.4 C34.2 15.6 34.4 16.6 34.3 17.6" fill="none" stroke="#334" stroke-width="0.3" opacity="0.7"/><path d="M12.5 6.5 C13.5 7.0 14.2 7.7 14.6 8.6" fill="none" stroke="#334" stroke-width="0.3" opacity="0.6"/><path d="M30.2 3.6 C29.8 1.4 31.6 -0.2 34.0 -0.2 C36.4 -0.2 37.8 1.6 37.4 3.6 C37.0 5.4 35.4 6.2 33.6 6.0 C31.8 5.8 30.5 5.0 30.2 3.6 Z" fill="#f5dcc6" stroke="#8a7a6c" stroke-width="0.35"/><path d="M46.0 6.4 C47.4 6.2 49.0 6.7 50.3 7.6 C50.0 8.7 49.0 9.4 47.6 9.6 C46.6 9.3 46.0 8.2 46.0 6.4 Z" fill="#f5dcc6" stroke="#8a7a6c" stroke-width="0.3"/><ellipse cx="43.4" cy="5.6" rx="1.3" ry="0.8" fill="#111" transform="rotate(-15 43.4 5.6)"/><path d="M48.0 9.2 L47.0 12.6 M48.8 9.3 L49.6 12.0 M49.4 6.9 L51.2 5.0 M50.0 7.3 L51.8 6.6" stroke="#555" stroke-width="0.3" fill="none"/></g>
<text x="102.00" y="287.00" font-size="6.6" fill="#000" text-anchor="start" textLength="81.2" lengthAdjust="spacingAndGlyphs" >100% mock edited (<tspan font-style="italic">GFP</tspan> gRNA)</text>
<g transform="translate(93.30,291.40) scale(1.0)"><path d="M8.2 15.6 C5.8 16.4 3.8 17.6 2.4 19.4 C0.9 21.3 0.3 23.6 1.4 25.6 C2.6 27.5 5.2 28.1 7.4 28.2 C10.5 28.4 13.5 28.3 16.2 28.1 C19 27.8 21.6 27.3 23.6 26.4 C25.2 25.7 26.4 24.8 26.1 23.8 C25.8 22.8 24.6 22.5 23.4 22.6 C22.6 22.7 21.9 22.9 21.3 23.1" fill="none" stroke="#9b8a7c" stroke-width="1.75" stroke-linecap="round"/><path d="M8.2 15.6 C5.8 16.4 3.8 17.6 2.4 19.4 C0.9 21.3 0.3 23.6 1.4 25.6 C2.6 27.5 5.2 28.1 7.4 28.2 C10.5 28.4 13.5 28.3 16.2 28.1 C19 27.8 21.6 27.3 23.6 26.4 C25.2 25.7 26.4 24.8 26.1 23.8 C25.8 22.8 24.6 22.5 23.4 22.6 C22.6 22.7 21.9 22.9 21.3 23.1" fill="none" stroke="#f5dcc6" stroke-width="1.1" stroke-linecap="round"/><path d="M10.4 18.6 C12.5 19.2 14.8 19.8 16.6 20.6 C17.4 21.1 17.2 21.9 16.2 22.1 C14.2 22.3 11.8 21.3 10.3 20.3 Z" fill="#f5dcc6" stroke="#8a7a6c" stroke-width="0.35"/><path d="M34.0 18.4 C36.4 18.0 39.5 17.8 42.0 18.2 C42.6 18.5 42.5 19.2 41.8 19.5 C40.2 20.2 38.4 21.2 36.8 21.9 C35.6 22.2 34.4 21.4 34.0 20.4 Z" fill="#f5dcc6" stroke="#8a7a6c" stroke-width="0.35"/><path d="M7.8 11.4 C7.8 9.2 8.2 7.8 8.7 6.7 C9.4 5.4 10.2 4.9 11.1 4.4 C12.5 3.6 13.8 3.1 15.3 2.8 C18 2.3 20.5 2.0 22.7 2.0 C25.5 2.0 28 2.0 30.2 2.0 C33 2.0 36 2.2 38.6 2.5 C40.8 2.8 42.6 3.3 44.2 3.9 C45.3 4.5 46.2 5.4 47 6.3 L50.3 6.7 C50 8.0 49.2 9.4 48 10 C47 10.4 46 10.6 45.2 10.9 C43.5 11.6 41.8 12.4 40.5 13.3 C39.3 14.2 38.4 15.1 37.7 16.1 C37.1 17.4 36.3 19.0 35.0 19.8 C33 20.3 29.4 20.3 27.6 19.7 C26.8 18.8 26.2 17.9 25 17.5 C24 17.3 23.3 17.3 22.7 17.5 C21 17.7 19.6 18.3 18.2 19.0 C16 19.8 13 19.6 10.5 18.8 C9.2 18.4 8.2 17.8 7.8 17 C7.4 15.2 7.4 13.2 7.8 11.4 Z" fill="url(#gm0)" stroke="#3a3a4a" stroke-width="0.4"/><path d="M18.2 12.3 C19.3 14.2 19.7 16.4 19.4 18.4" fill="none" stroke="#334" stroke-width="0.3" opacity="0.7"/><path d="M33.6 14.4 C34.2 15.6 34.4 16.6 34.3 17.6" fill="none" stroke="#334" stroke-width="0.3" opacity="0.7"/><path d="M12.5 6.5 C13.5 7.0 14.2 7.7 14.6 8.6" fill="none" stroke="#334" stroke-width="0.3" opacity="0.6"/><path d="M30.2 3.6 C29.8 1.4 31.6 -0.2 34.0 -0.2 C36.4 -0.2 37.8 1.6 37.4 3.6 C37.0 5.4 35.4 6.2 33.6 6.0 C31.8 5.8 30.5 5.0 30.2 3.6 Z" fill="#f5dcc6" stroke="#8a7a6c" stroke-width="0.35"/><path d="M46.0 6.4 C47.4 6.2 49.0 6.7 50.3 7.6 C50.0 8.7 49.0 9.4 47.6 9.6 C46.6 9.3 46.0 8.2 46.0 6.4 Z" fill="#f5dcc6" stroke="#8a7a6c" stroke-width="0.3"/><ellipse cx="43.4" cy="5.6" rx="1.3" ry="0.8" fill="#111" transform="rotate(-15 43.4 5.6)"/><path d="M48.0 9.2 L47.0 12.6 M48.8 9.3 L49.6 12.0 M49.4 6.9 L51.2 5.0 M50.0 7.3 L51.8 6.6" stroke="#555" stroke-width="0.3" fill="none"/></g>
<g transform="translate(95.20,288.60) rotate(40.9)"><line x1="0" y1="0" x2="1.43" y2="0" stroke="#888" stroke-width="0.6"/><line x1="0" y1="-1.6" x2="0" y2="1.6" stroke="#777" stroke-width="0.5"/><rect x="1.43" y="-1.5" width="6.55" height="3" fill="#fff" stroke="#888" stroke-width="0.35"/><rect x="3.57" y="-1.3" width="4.41" height="2.6" fill="#d8323a"/><line x1="7.98" y1="0" x2="11.91" y2="0" stroke="#666" stroke-width="0.45"/></g>
<line x1="150.80" y1="301.50" x2="215.20" y2="301.50" stroke="#111" stroke-width="0.95" />
<path d="M219.00 301.50 L215.20 303.02 L215.20 299.98 Z" fill="#111"/>
<g transform="translate(227.50,291.40) scale(1.0)"><path d="M8.2 15.6 C5.8 16.4 3.8 17.6 2.4 19.4 C0.9 21.3 0.3 23.6 1.4 25.6 C2.6 27.5 5.2 28.1 7.4 28.2 C10.5 28.4 13.5 28.3 16.2 28.1 C19 27.8 21.6 27.3 23.6 26.4 C25.2 25.7 26.4 24.8 26.1 23.8 C25.8 22.8 24.6 22.5 23.4 22.6 C22.6 22.7 21.9 22.9 21.3 23.1" fill="none" stroke="#9b8a7c" stroke-width="1.75" stroke-linecap="round"/><path d="M8.2 15.6 C5.8 16.4 3.8 17.6 2.4 19.4 C0.9 21.3 0.3 23.6 1.4 25.6 C2.6 27.5 5.2 28.1 7.4 28.2 C10.5 28.4 13.5 28.3 16.2 28.1 C19 27.8 21.6 27.3 23.6 26.4 C25.2 25.7 26.4 24.8 26.1 23.8 C25.8 22.8 24.6 22.5 23.4 22.6 C22.6 22.7 21.9 22.9 21.3 23.1" fill="none" stroke="#f5dcc6" stroke-width="1.1" stroke-linecap="round"/><path d="M10.4 18.6 C12.5 19.2 14.8 19.8 16.6 20.6 C17.4 21.1 17.2 21.9 16.2 22.1 C14.2 22.3 11.8 21.3 10.3 20.3 Z" fill="#f5dcc6" stroke="#8a7a6c" stroke-width="0.35"/><path d="M34.0 18.4 C36.4 18.0 39.5 17.8 42.0 18.2 C42.6 18.5 42.5 19.2 41.8 19.5 C40.2 20.2 38.4 21.2 36.8 21.9 C35.6 22.2 34.4 21.4 34.0 20.4 Z" fill="#f5dcc6" stroke="#8a7a6c" stroke-width="0.35"/><path d="M7.8 11.4 C7.8 9.2 8.2 7.8 8.7 6.7 C9.4 5.4 10.2 4.9 11.1 4.4 C12.5 3.6 13.8 3.1 15.3 2.8 C18 2.3 20.5 2.0 22.7 2.0 C25.5 2.0 28 2.0 30.2 2.0 C33 2.0 36 2.2 38.6 2.5 C40.8 2.8 42.6 3.3 44.2 3.9 C45.3 4.5 46.2 5.4 47 6.3 L50.3 6.7 C50 8.0 49.2 9.4 48 10 C47 10.4 46 10.6 45.2 10.9 C43.5 11.6 41.8 12.4 40.5 13.3 C39.3 14.2 38.4 15.1 37.7 16.1 C37.1 17.4 36.3 19.0 35.0 19.8 C33 20.3 29.4 20.3 27.6 19.7 C26.8 18.8 26.2 17.9 25 17.5 C24 17.3 23.3 17.3 22.7 17.5 C21 17.7 19.6 18.3 18.2 19.0 C16 19.8 13 19.6 10.5 18.8 C9.2 18.4 8.2 17.8 7.8 17 C7.4 15.2 7.4 13.2 7.8 11.4 Z" fill="url(#gm0)" stroke="#3a3a4a" stroke-width="0.4"/><path d="M18.2 12.3 C19.3 14.2 19.7 16.4 19.4 18.4" fill="none" stroke="#334" stroke-width="0.3" opacity="0.7"/><path d="M33.6 14.4 C34.2 15.6 34.4 16.6 34.3 17.6" fill="none" stroke="#334" stroke-width="0.3" opacity="0.7"/><path d="M12.5 6.5 C13.5 7.0 14.2 7.7 14.6 8.6" fill="none" stroke="#334" stroke-width="0.3" opacity="0.6"/><path d="M30.2 3.6 C29.8 1.4 31.6 -0.2 34.0 -0.2 C36.4 -0.2 37.8 1.6 37.4 3.6 C37.0 5.4 35.4 6.2 33.6 6.0 C31.8 5.8 30.5 5.0 30.2 3.6 Z" fill="#f5dcc6" stroke="#8a7a6c" stroke-width="0.35"/><path d="M46.0 6.4 C47.4 6.2 49.0 6.7 50.3 7.6 C50.0 8.7 49.0 9.4 47.6 9.6 C46.6 9.3 46.0 8.2 46.0 6.4 Z" fill="#f5dcc6" stroke="#8a7a6c" stroke-width="0.3"/><ellipse cx="43.4" cy="5.6" rx="1.3" ry="0.8" fill="#111" transform="rotate(-15 43.4 5.6)"/><path d="M48.0 9.2 L47.0 12.6 M48.8 9.3 L49.6 12.0 M49.4 6.9 L51.2 5.0 M50.0 7.3 L51.8 6.6" stroke="#555" stroke-width="0.3" fill="none"/></g>
<g transform="translate(225.40,282.20)"><circle r="5.02" fill="#e9a355"/><circle cx="0.00" cy="-4.97" r="0.85" fill="#33408a"/><circle cx="4.30" cy="-2.48" r="0.85" fill="#33408a"/><circle cx="4.30" cy="2.48" r="0.85" fill="#33408a"/><circle cx="0.00" cy="4.97" r="0.85" fill="#33408a"/><circle cx="-4.30" cy="2.48" r="0.85" fill="#33408a"/><circle cx="-4.30" cy="-2.48" r="0.85" fill="#33408a"/><circle r="3.78" fill="#4f9a70"/><circle r="3.13" fill="#f8f4c4"/><path d="M-1.6 2.0 C-1.8 0.4 -1.0 -1.4 0.2 -2.4 M0.2 2.4 C0.0 0.8 0.6 -0.8 1.6 -1.9" stroke="#5a9a6a" stroke-width="0.55" fill="none"/><path d="M-0.7 2.2 C-0.9 0.6 -0.3 -1.0 0.8 -2.2" stroke="#f0a898" stroke-width="0.6" fill="none"/></g>
<g transform="translate(230.50,287.20) rotate(43.0)"><line x1="0" y1="0" x2="1.48" y2="0" stroke="#888" stroke-width="0.6"/><line x1="0" y1="-1.6" x2="0" y2="1.6" stroke="#777" stroke-width="0.5"/><rect x="1.48" y="-1.5" width="6.77" height="3" fill="#fff" stroke="#888" stroke-width="0.35"/><rect x="3.69" y="-1.3" width="4.56" height="2.6" fill="url(#syr)"/><line x1="8.25" y1="0" x2="12.31" y2="0" stroke="#666" stroke-width="0.45"/></g>
<line x1="287.50" y1="301.50" x2="319.20" y2="301.50" stroke="#111" stroke-width="0.95" />
<path d="M323.00 301.50 L319.20 303.02 L319.20 299.98 Z" fill="#111"/>
<g transform="translate(295.40,281.80)"><circle r="5.02" fill="#e9a355"/><circle cx="0.00" cy="-4.97" r="0.85" fill="#33408a"/><circle cx="4.30" cy="-2.48" r="0.85" fill="#33408a"/><circle cx="4.30" cy="2.48" r="0.85" fill="#33408a"/><circle cx="0.00" cy="4.97" r="0.85" fill="#33408a"/><circle cx="-4.30" cy="2.48" r="0.85" fill="#33408a"/><circle cx="-4.30" cy="-2.48" r="0.85" fill="#33408a"/><circle r="3.78" fill="#4f9a70"/><circle r="3.13" fill="#f8f4c4"/><path d="M-1.6 2.0 C-1.8 0.4 -1.0 -1.4 0.2 -2.4 M0.2 2.4 C0.0 0.8 0.6 -0.8 1.6 -1.9" stroke="#5a9a6a" stroke-width="0.55" fill="none"/><path d="M-0.7 2.2 C-0.9 0.6 -0.3 -1.0 0.8 -2.2" stroke="#f0a898" stroke-width="0.6" fill="none"/></g>
<g transform="translate(301.20,286.20) rotate(43.5)"><line x1="0" y1="0" x2="1.97" y2="0" stroke="#888" stroke-width="0.6"/><line x1="0" y1="-1.6" x2="0" y2="1.6" stroke="#777" stroke-width="0.5"/><rect x="1.97" y="-1.5" width="9.03" height="3" fill="#fff" stroke="#888" stroke-width="0.35"/><rect x="4.92" y="-1.3" width="6.07" height="2.6" fill="url(#syr)"/><line x1="10.99" y1="0" x2="16.41" y2="0" stroke="#666" stroke-width="0.45"/></g>
<text x="310.90" y="290.80" font-size="6.8" fill="#000" text-anchor="start" textLength="6.6" lengthAdjust="spacingAndGlyphs" stroke="#000" stroke-width="0.2">x7</text>
<g transform="translate(326.50,291.40) scale(1.0)"><path d="M8.2 15.6 C5.8 16.4 3.8 17.6 2.4 19.4 C0.9 21.3 0.3 23.6 1.4 25.6 C2.6 27.5 5.2 28.1 7.4 28.2 C10.5 28.4 13.5 28.3 16.2 28.1 C19 27.8 21.6 27.3 23.6 26.4 C25.2 25.7 26.4 24.8 26.1 23.8 C25.8 22.8 24.6 22.5 23.4 22.6 C22.6 22.7 21.9 22.9 21.3 23.1" fill="none" stroke="#9b8a7c" stroke-width="1.75" stroke-linecap="round"/><path d="M8.2 15.6 C5.8 16.4 3.8 17.6 2.4 19.4 C0.9 21.3 0.3 23.6 1.4 25.6 C2.6 27.5 5.2 28.1 7.4 28.2 C10.5 28.4 13.5 28.3 16.2 28.1 C19 27.8 21.6 27.3 23.6 26.4 C25.2 25.7 26.4 24.8 26.1 23.8 C25.8 22.8 24.6 22.5 23.4 22.6 C22.6 22.7 21.9 22.9 21.3 23.1" fill="none" stroke="#f5dcc6" stroke-width="1.1" stroke-linecap="round"/><path d="M10.4 18.6 C12.5 19.2 14.8 19.8 16.6 20.6 C17.4 21.1 17.2 21.9 16.2 22.1 C14.2 22.3 11.8 21.3 10.3 20.3 Z" fill="#f5dcc6" stroke="#8a7a6c" stroke-width="0.35"/><path d="M34.0 18.4 C36.4 18.0 39.5 17.8 42.0 18.2 C42.6 18.5 42.5 19.2 41.8 19.5 C40.2 20.2 38.4 21.2 36.8 21.9 C35.6 22.2 34.4 21.4 34.0 20.4 Z" fill="#f5dcc6" stroke="#8a7a6c" stroke-width="0.35"/><path d="M7.8 11.4 C7.8 9.2 8.2 7.8 8.7 6.7 C9.4 5.4 10.2 4.9 11.1 4.4 C12.5 3.6 13.8 3.1 15.3 2.8 C18 2.3 20.5 2.0 22.7 2.0 C25.5 2.0 28 2.0 30.2 2.0 C33 2.0 36 2.2 38.6 2.5 C40.8 2.8 42.6 3.3 44.2 3.9 C45.3 4.5 46.2 5.4 47 6.3 L50.3 6.7 C50 8.0 49.2 9.4 48 10 C47 10.4 46 10.6 45.2 10.9 C43.5 11.6 41.8 12.4 40.5 13.3 C39.3 14.2 38.4 15.1 37.7 16.1 C37.1 17.4 36.3 19.0 35.0 19.8 C33 20.3 29.4 20.3 27.6 19.7 C26.8 18.8 26.2 17.9 25 17.5 C24 17.3 23.3 17.3 22.7 17.5 C21 17.7 19.6 18.3 18.2 19.0 C16 19.8 13 19.6 10.5 18.8 C9.2 18.4 8.2 17.8 7.8 17 C7.4 15.2 7.4 13.2 7.8 11.4 Z" fill="url(#gm0)" stroke="#3a3a4a" stroke-width="0.4"/><path d="M18.2 12.3 C19.3 14.2 19.7 16.4 19.4 18.4" fill="none" stroke="#334" stroke-width="0.3" opacity="0.7"/><path d="M33.6 14.4 C34.2 15.6 34.4 16.6 34.3 17.6" fill="none" stroke="#334" stroke-width="0.3" opacity="0.7"/><path d="M12.5 6.5 C13.5 7.0 14.2 7.7 14.6 8.6" fill="none" stroke="#334" stroke-width="0.3" opacity="0.6"/><path d="M30.2 3.6 C29.8 1.4 31.6 -0.2 34.0 -0.2 C36.4 -0.2 37.8 1.6 37.4 3.6 C37.0 5.4 35.4 6.2 33.6 6.0 C31.8 5.8 30.5 5.0 30.2 3.6 Z" fill="#f5dcc6" stroke="#8a7a6c" stroke-width="0.35"/><path d="M46.0 6.4 C47.4 6.2 49.0 6.7 50.3 7.6 C50.0 8.7 49.0 9.4 47.6 9.6 C46.6 9.3 46.0 8.2 46.0 6.4 Z" fill="#f5dcc6" stroke="#8a7a6c" stroke-width="0.3"/><ellipse cx="43.4" cy="5.6" rx="1.3" ry="0.8" fill="#111" transform="rotate(-15 43.4 5.6)"/><path d="M48.0 9.2 L47.0 12.6 M48.8 9.3 L49.6 12.0 M49.4 6.9 L51.2 5.0 M50.0 7.3 L51.8 6.6" stroke="#555" stroke-width="0.3" fill="none"/></g>
<rect x="150.30" y="189.30" width="65.40" height="18.00" fill="#fff" stroke="#555" stroke-width="0.6" />
<text x="182.80" y="196.80" font-size="6.4" fill="#111" text-anchor="middle" textLength="52.4" lengthAdjust="spacingAndGlyphs" >T cell reconstitution</text>
<text x="182.95" y="204.4" font-size="6.4" fill="#111" text-anchor="middle" textLength="58.1" lengthAdjust="spacingAndGlyphs">(&gt;10 CD4<tspan font-size="3.8" dy="-2">+</tspan><tspan dy="2"> T cells/uL)</tspan></text>
<text transform="translate(389.64,21.3) scale(0.785,0.928)" font-size="20" stroke="#000" stroke-width="0.3">B</text>
<line x1="462.50" y1="40.80" x2="462.50" y2="226.40" stroke="#000" stroke-width="2.0" />
<line x1="461.50" y1="226.00" x2="647.00" y2="226.00" stroke="#000" stroke-width="2.0" />
<line x1="455.20" y1="225.40" x2="462.50" y2="225.40" stroke="#000" stroke-width="2.0" />
<text transform="translate(452.0,230.40) scale(1,1.1)" font-size="13.6" text-anchor="end">0</text>
<line x1="455.20" y1="188.64" x2="462.50" y2="188.64" stroke="#000" stroke-width="2.0" />
<text transform="translate(452.0,193.64) scale(1,1.1)" font-size="13.6" text-anchor="end">20</text>
<line x1="455.20" y1="151.88" x2="462.50" y2="151.88" stroke="#000" stroke-width="2.0" />
<text transform="translate(452.0,156.88) scale(1,1.1)" font-size="13.6" text-anchor="end">40</text>
<line x1="455.20" y1="115.12" x2="462.50" y2="115.12" stroke="#000" stroke-width="2.0" />
<text transform="translate(452.0,120.12) scale(1,1.1)" font-size="13.6" text-anchor="end">60</text>
<line x1="455.20" y1="78.36" x2="462.50" y2="78.36" stroke="#000" stroke-width="2.0" />
<text transform="translate(452.0,83.36) scale(1,1.1)" font-size="13.6" text-anchor="end">80</text>
<line x1="455.20" y1="41.60" x2="462.50" y2="41.60" stroke="#000" stroke-width="2.0" />
<text transform="translate(452.0,46.60) scale(1,1.1)" font-size="13.6" text-anchor="end">100</text>
<line x1="490.50" y1="225.40" x2="490.50" y2="233.40" stroke="#000" stroke-width="2.0" />
<text transform="translate(490.50,250.40) scale(1.02,1.12)" font-size="13.6" text-anchor="middle">25%</text>
<line x1="533.40" y1="225.40" x2="533.40" y2="233.40" stroke="#000" stroke-width="2.0" />
<text transform="translate(533.40,250.40) scale(1.02,1.12)" font-size="13.6" text-anchor="middle">50%</text>
<line x1="576.30" y1="225.40" x2="576.30" y2="233.40" stroke="#000" stroke-width="2.0" />
<text transform="translate(576.30,250.40) scale(1.02,1.12)" font-size="13.6" text-anchor="middle">75%</text>
<line x1="619.00" y1="225.40" x2="619.00" y2="233.40" stroke="#000" stroke-width="2.0" />
<text transform="translate(619.00,250.40) scale(1.02,1.12)" font-size="13.6" text-anchor="middle">100%</text>
<text transform="translate(554.25,269.8) scale(1,1.1)" font-size="14.3" text-anchor="middle" textLength="186.9" lengthAdjust="spacingAndGlyphs"><tspan font-style="italic">CCR5</tspan> edited transplant dose</text>
<text transform="translate(420.2,134.0) rotate(-90) scale(1,1.1)" font-size="14.4" text-anchor="middle" textLength="197.4" lengthAdjust="spacingAndGlyphs">% realized <tspan font-style="italic">CCR5</tspan> gene editing</text>
<circle cx="490.50" cy="72.60" r="3.55" fill="none" stroke="#000" stroke-width="1.3" />
<circle cx="490.50" cy="100.50" r="3.55" fill="none" stroke="#000" stroke-width="1.3" />
<circle cx="490.50" cy="159.80" r="3.55" fill="none" stroke="#000" stroke-width="1.3" />
<circle cx="490.50" cy="168.80" r="3.55" fill="none" stroke="#000" stroke-width="1.3" />
<circle cx="490.50" cy="183.10" r="3.55" fill="none" stroke="#000" stroke-width="1.3" />
<circle cx="480.40" cy="198.70" r="3.55" fill="none" stroke="#000" stroke-width="1.3" />
<circle cx="490.50" cy="202.30" r="3.55" fill="none" stroke="#000" stroke-width="1.3" />
<circle cx="490.50" cy="214.10" r="3.55" fill="none" stroke="#000" stroke-width="1.3" />
<circle cx="501.30" cy="213.30" r="3.55" fill="none" stroke="#000" stroke-width="1.3" />
<circle cx="501.30" cy="220.60" r="3.55" fill="none" stroke="#000" stroke-width="1.3" />
<circle cx="480.40" cy="221.60" r="3.55" fill="none" stroke="#000" stroke-width="1.3" />
<circle cx="533.40" cy="69.00" r="3.55" fill="none" stroke="#000" stroke-width="1.3" />
<circle cx="544.00" cy="62.40" r="3.55" fill="none" stroke="#000" stroke-width="1.3" />
<circle cx="522.90" cy="105.90" r="3.55" fill="none" stroke="#000" stroke-width="1.3" />
<circle cx="533.40" cy="109.90" r="3.55" fill="none" stroke="#000" stroke-width="1.3" />
<circle cx="544.00" cy="107.10" r="3.55" fill="none" stroke="#000" stroke-width="1.3" />
<circle cx="533.40" cy="119.50" r="3.55" fill="none" stroke="#000" stroke-width="1.3" />
<circle cx="533.40" cy="160.40" r="3.55" fill="none" stroke="#000" stroke-width="1.3" />
<circle cx="528.30" cy="169.40" r="3.55" fill="none" stroke="#000" stroke-width="1.3" />
<circle cx="538.80" cy="175.70" r="3.55" fill="none" stroke="#000" stroke-width="1.3" />
<circle cx="533.40" cy="183.10" r="3.55" fill="none" stroke="#000" stroke-width="1.3" />
<circle cx="565.70" cy="55.10" r="3.55" fill="none" stroke="#000" stroke-width="1.3" />
<circle cx="586.80" cy="53.00" r="3.55" fill="none" stroke="#000" stroke-width="1.3" />
<circle cx="565.70" cy="64.80" r="3.55" fill="none" stroke="#000" stroke-width="1.3" />
<circle cx="586.80" cy="62.60" r="3.55" fill="none" stroke="#000" stroke-width="1.3" />
<circle cx="576.40" cy="78.80" r="3.55" fill="none" stroke="#000" stroke-width="1.3" />
<circle cx="576.40" cy="95.40" r="3.55" fill="none" stroke="#000" stroke-width="1.3" />
<circle cx="565.70" cy="109.00" r="3.55" fill="none" stroke="#000" stroke-width="1.3" />
<circle cx="586.80" cy="115.60" r="3.55" fill="none" stroke="#000" stroke-width="1.3" />
<circle cx="576.40" cy="126.20" r="3.55" fill="none" stroke="#000" stroke-width="1.3" />
<circle cx="576.40" cy="149.90" r="3.55" fill="none" stroke="#000" stroke-width="1.3" />
<circle cx="576.40" cy="169.20" r="3.55" fill="none" stroke="#000" stroke-width="1.3" />
<circle cx="608.40" cy="42.60" r="3.55" fill="none" stroke="#000" stroke-width="1.3" />
<circle cx="612.00" cy="42.40" r="3.55" fill="none" stroke="#000" stroke-width="1.3" />
<circle cx="618.90" cy="42.40" r="3.55" fill="none" stroke="#000" stroke-width="1.3" />
<circle cx="625.90" cy="42.40" r="3.55" fill="none" stroke="#000" stroke-width="1.3" />
<circle cx="630.50" cy="43.20" r="3.55" fill="none" stroke="#000" stroke-width="1.3" />
<circle cx="617.10" cy="50.80" r="3.55" fill="none" stroke="#000" stroke-width="1.3" />
<circle cx="618.90" cy="88.70" r="3.55" fill="none" stroke="#000" stroke-width="1.3" />
<rect x="477.00" y="176.10" width="27.90" height="3.60" fill="#22b822" stroke="none" stroke-width="1" />
<rect x="519.30" y="124.10" width="28.50" height="3.60" fill="#7272f0" stroke="none" stroke-width="1" />
<rect x="561.90" y="96.30" width="28.50" height="3.60" fill="#1e90ff" stroke="none" stroke-width="1" />
<rect x="605.00" y="46.80" width="28.10" height="3.60" fill="#0000ee" stroke="none" stroke-width="1" />
<text transform="translate(8.12,361.3) scale(0.778,0.979)" font-size="20" stroke="#000" stroke-width="0.3">C</text>
<rect x="58.00" y="386.20" width="14.90" height="8.40" fill="#0a1ee6" stroke="#333" stroke-width="0.6" />
<text x="82.10" y="394.50" font-size="11.1" fill="#2a2a2a" text-anchor="start" >100% CCR5-KO</text>
<rect x="58.00" y="400.70" width="14.90" height="8.40" fill="#1a9cf2" stroke="#333" stroke-width="0.6" />
<text x="82.10" y="409.00" font-size="11.1" fill="#2a2a2a" text-anchor="start" >75% CCR5-KO</text>
<rect x="58.00" y="415.10" width="14.90" height="8.40" fill="#8080fa" stroke="#333" stroke-width="0.6" />
<text x="82.10" y="423.40" font-size="11.1" fill="#2a2a2a" text-anchor="start" >50% CCR5-KO</text>
<rect x="170.40" y="386.20" width="14.90" height="8.40" fill="#2ed12e" stroke="#333" stroke-width="0.6" />
<text x="193.50" y="394.50" font-size="11.1" fill="#2a2a2a" text-anchor="start" >25% CCR5-KO</text>
<rect x="170.40" y="400.70" width="14.90" height="8.40" fill="#0a8a0a" stroke="#333" stroke-width="0.6" />
<text x="193.50" y="409.00" font-size="11.1" fill="#2a2a2a" text-anchor="start" >0% CCR5-KO</text>
<line x1="48.00" y1="399.80" x2="48.00" y2="538.60" stroke="#222" stroke-width="1.6" />
<line x1="47.20" y1="537.80" x2="254.00" y2="537.80" stroke="#222" stroke-width="1.6" />
<line x1="42.50" y1="537.80" x2="48.00" y2="537.80" stroke="#222" stroke-width="1.4" />
<text x="40.00" y="542.70" font-size="11.0" fill="#2a2a2a" text-anchor="end" >0</text>
<line x1="42.50" y1="491.94" x2="48.00" y2="491.94" stroke="#222" stroke-width="1.4" />
<text x="40.00" y="496.84" font-size="11.0" fill="#2a2a2a" text-anchor="end" >20</text>
<line x1="42.50" y1="446.08" x2="48.00" y2="446.08" stroke="#222" stroke-width="1.4" />
<text x="40.00" y="450.98" font-size="11.0" fill="#2a2a2a" text-anchor="end" >40</text>
<line x1="42.50" y1="400.22" x2="48.00" y2="400.22" stroke="#222" stroke-width="1.4" />
<text x="40.00" y="405.12" font-size="11.0" fill="#2a2a2a" text-anchor="end" >60</text>
<line x1="64.70" y1="537.80" x2="64.70" y2="543.00" stroke="#222" stroke-width="1.4" />
<text x="64.70" y="555.70" font-size="11.0" fill="#2a2a2a" text-anchor="middle" >4</text>
<line x1="99.10" y1="537.80" x2="99.10" y2="543.00" stroke="#222" stroke-width="1.4" />
<text x="99.10" y="555.70" font-size="11.0" fill="#2a2a2a" text-anchor="middle" >8</text>
<line x1="133.60" y1="537.80" x2="133.60" y2="543.00" stroke="#222" stroke-width="1.4" />
<text x="133.60" y="555.70" font-size="11.0" fill="#2a2a2a" text-anchor="middle" >12</text>
<line x1="168.00" y1="537.80" x2="168.00" y2="543.00" stroke="#222" stroke-width="1.4" />
<text x="168.00" y="555.70" font-size="11.0" fill="#2a2a2a" text-anchor="middle" >16</text>
<line x1="202.50" y1="537.80" x2="202.50" y2="543.00" stroke="#222" stroke-width="1.4" />
<text x="202.50" y="555.70" font-size="11.0" fill="#2a2a2a" text-anchor="middle" >20</text>
<line x1="236.90" y1="537.80" x2="236.90" y2="543.00" stroke="#222" stroke-width="1.4" />
<text x="236.90" y="555.70" font-size="11.0" fill="#2a2a2a" text-anchor="middle" >24</text>
<text x="151.50" y="572.00" font-size="11.1" fill="#222" text-anchor="middle" stroke="#222" stroke-width="0.2">Weeks post transplant</text>
<text transform="translate(18.7,469.6) rotate(-90)" font-size="11.6" fill="#222" stroke="#222" stroke-width="0.2" text-anchor="middle">%CCR5<tspan font-size="7" dy="-4">+</tspan><tspan dy="4"> of total CD33</tspan><tspan font-size="7" dy="-4">+</tspan></text>
<line x1="52.70" y1="532.53" x2="52.70" y2="535.05" stroke="#404040" stroke-width="0.9" />
<line x1="51.40" y1="532.53" x2="54.00" y2="532.53" stroke="#404040" stroke-width="0.9" />
<rect x="50.40" y="535.05" width="4.60" height="2.75" fill="#0a1ee6" stroke="#222" stroke-width="0.6" />
<rect x="50.65" y="535.05" width="4.10" height="2.52" fill="#0a1596" stroke="none" stroke-width="0" opacity="0.55"/>
<line x1="52.70" y1="535.05" x2="52.70" y2="537.57" stroke="#333" stroke-width="0.6" />
<line x1="51.40" y1="537.57" x2="54.00" y2="537.57" stroke="#333" stroke-width="0.6" />
<line x1="58.70" y1="496.30" x2="58.70" y2="505.24" stroke="#404040" stroke-width="0.9" />
<line x1="57.40" y1="496.30" x2="60.00" y2="496.30" stroke="#404040" stroke-width="0.9" />
<rect x="56.40" y="505.24" width="4.60" height="32.56" fill="#1a9cf2" stroke="#222" stroke-width="0.6" />
<rect x="56.65" y="505.24" width="4.10" height="8.94" fill="#1570b0" stroke="none" stroke-width="0" opacity="0.55"/>
<line x1="58.70" y1="505.24" x2="58.70" y2="514.18" stroke="#333" stroke-width="0.6" />
<line x1="57.40" y1="514.18" x2="60.00" y2="514.18" stroke="#333" stroke-width="0.6" />
<line x1="64.70" y1="471.30" x2="64.70" y2="483.00" stroke="#404040" stroke-width="0.9" />
<line x1="63.40" y1="471.30" x2="66.00" y2="471.30" stroke="#404040" stroke-width="0.9" />
<rect x="62.40" y="483.00" width="4.60" height="54.80" fill="#8080fa" stroke="#222" stroke-width="0.6" />
<rect x="62.65" y="483.00" width="4.10" height="11.69" fill="#5a5ab8" stroke="none" stroke-width="0" opacity="0.55"/>
<line x1="64.70" y1="483.00" x2="64.70" y2="494.69" stroke="#333" stroke-width="0.6" />
<line x1="63.40" y1="494.69" x2="66.00" y2="494.69" stroke="#333" stroke-width="0.6" />
<line x1="70.70" y1="443.56" x2="70.70" y2="455.71" stroke="#404040" stroke-width="0.9" />
<line x1="69.40" y1="443.56" x2="72.00" y2="443.56" stroke="#404040" stroke-width="0.9" />
<rect x="68.40" y="455.71" width="4.60" height="82.09" fill="#2ed12e" stroke="#222" stroke-width="0.6" />
<rect x="68.65" y="455.71" width="4.10" height="12.15" fill="#1f9a1f" stroke="none" stroke-width="0" opacity="0.55"/>
<line x1="70.70" y1="455.71" x2="70.70" y2="467.86" stroke="#333" stroke-width="0.6" />
<line x1="69.40" y1="467.86" x2="72.00" y2="467.86" stroke="#333" stroke-width="0.6" />
<line x1="76.70" y1="426.13" x2="76.70" y2="438.51" stroke="#404040" stroke-width="0.9" />
<line x1="75.40" y1="426.13" x2="78.00" y2="426.13" stroke="#404040" stroke-width="0.9" />
<rect x="74.40" y="438.51" width="4.60" height="99.29" fill="#0a8a0a" stroke="#222" stroke-width="0.6" />
<rect x="74.65" y="438.51" width="4.10" height="12.38" fill="#066006" stroke="none" stroke-width="0" opacity="0.55"/>
<line x1="76.70" y1="438.51" x2="76.70" y2="450.90" stroke="#333" stroke-width="0.6" />
<line x1="75.40" y1="450.90" x2="78.00" y2="450.90" stroke="#333" stroke-width="0.6" />
<line x1="87.26" y1="531.84" x2="87.26" y2="534.36" stroke="#404040" stroke-width="0.9" />
<line x1="85.96" y1="531.84" x2="88.56" y2="531.84" stroke="#404040" stroke-width="0.9" />
<rect x="84.96" y="534.36" width="4.60" height="3.44" fill="#0a1ee6" stroke="#222" stroke-width="0.6" />
<rect x="85.21" y="534.36" width="4.10" height="2.52" fill="#0a1596" stroke="none" stroke-width="0" opacity="0.55"/>
<line x1="87.26" y1="534.36" x2="87.26" y2="536.88" stroke="#333" stroke-width="0.6" />
<line x1="85.96" y1="536.88" x2="88.56" y2="536.88" stroke="#333" stroke-width="0.6" />
<line x1="93.26" y1="512.12" x2="93.26" y2="517.62" stroke="#404040" stroke-width="0.9" />
<line x1="91.96" y1="512.12" x2="94.56" y2="512.12" stroke="#404040" stroke-width="0.9" />
<rect x="90.96" y="517.62" width="4.60" height="20.18" fill="#1a9cf2" stroke="#222" stroke-width="0.6" />
<rect x="91.21" y="517.62" width="4.10" height="5.50" fill="#1570b0" stroke="none" stroke-width="0" opacity="0.55"/>
<line x1="93.26" y1="517.62" x2="93.26" y2="523.12" stroke="#333" stroke-width="0.6" />
<line x1="91.96" y1="523.12" x2="94.56" y2="523.12" stroke="#333" stroke-width="0.6" />
<line x1="99.26" y1="483.23" x2="99.26" y2="495.38" stroke="#404040" stroke-width="0.9" />
<line x1="97.96" y1="483.23" x2="100.56" y2="483.23" stroke="#404040" stroke-width="0.9" />
<rect x="96.96" y="495.38" width="4.60" height="42.42" fill="#8080fa" stroke="#222" stroke-width="0.6" />
<rect x="97.21" y="495.38" width="4.10" height="12.15" fill="#5a5ab8" stroke="none" stroke-width="0" opacity="0.55"/>
<line x1="99.26" y1="495.38" x2="99.26" y2="507.53" stroke="#333" stroke-width="0.6" />
<line x1="97.96" y1="507.53" x2="100.56" y2="507.53" stroke="#333" stroke-width="0.6" />
<line x1="105.26" y1="483.23" x2="105.26" y2="491.94" stroke="#404040" stroke-width="0.9" />
<line x1="103.96" y1="483.23" x2="106.56" y2="483.23" stroke="#404040" stroke-width="0.9" />
<rect x="102.96" y="491.94" width="4.60" height="45.86" fill="#2ed12e" stroke="#222" stroke-width="0.6" />
<rect x="103.21" y="491.94" width="4.10" height="8.71" fill="#1f9a1f" stroke="none" stroke-width="0" opacity="0.55"/>
<line x1="105.26" y1="491.94" x2="105.26" y2="500.65" stroke="#333" stroke-width="0.6" />
<line x1="103.96" y1="500.65" x2="106.56" y2="500.65" stroke="#333" stroke-width="0.6" />
<line x1="111.26" y1="466.26" x2="111.26" y2="476.35" stroke="#404040" stroke-width="0.9" />
<line x1="109.96" y1="466.26" x2="112.56" y2="466.26" stroke="#404040" stroke-width="0.9" />
<rect x="108.96" y="476.35" width="4.60" height="61.45" fill="#0a8a0a" stroke="#222" stroke-width="0.6" />
<rect x="109.21" y="476.35" width="4.10" height="10.09" fill="#066006" stroke="none" stroke-width="0" opacity="0.55"/>
<line x1="111.26" y1="476.35" x2="111.26" y2="486.44" stroke="#333" stroke-width="0.6" />
<line x1="109.96" y1="486.44" x2="112.56" y2="486.44" stroke="#333" stroke-width="0.6" />
<line x1="121.92" y1="532.76" x2="121.92" y2="535.05" stroke="#404040" stroke-width="0.9" />
<line x1="120.62" y1="532.76" x2="123.22" y2="532.76" stroke="#404040" stroke-width="0.9" />
<rect x="119.62" y="535.05" width="4.60" height="2.75" fill="#0a1ee6" stroke="#222" stroke-width="0.6" />
<rect x="119.87" y="535.05" width="4.10" height="2.29" fill="#0a1596" stroke="none" stroke-width="0" opacity="0.55"/>
<line x1="121.92" y1="535.05" x2="121.92" y2="537.34" stroke="#333" stroke-width="0.6" />
<line x1="120.62" y1="537.34" x2="123.22" y2="537.34" stroke="#333" stroke-width="0.6" />
<line x1="127.92" y1="508.22" x2="127.92" y2="516.70" stroke="#404040" stroke-width="0.9" />
<line x1="126.62" y1="508.22" x2="129.22" y2="508.22" stroke="#404040" stroke-width="0.9" />
<rect x="125.62" y="516.70" width="4.60" height="21.10" fill="#1a9cf2" stroke="#222" stroke-width="0.6" />
<rect x="125.87" y="516.70" width="4.10" height="8.48" fill="#1570b0" stroke="none" stroke-width="0" opacity="0.55"/>
<line x1="127.92" y1="516.70" x2="127.92" y2="525.19" stroke="#333" stroke-width="0.6" />
<line x1="126.62" y1="525.19" x2="129.22" y2="525.19" stroke="#333" stroke-width="0.6" />
<line x1="133.92" y1="483.23" x2="133.92" y2="494.23" stroke="#404040" stroke-width="0.9" />
<line x1="132.62" y1="483.23" x2="135.22" y2="483.23" stroke="#404040" stroke-width="0.9" />
<rect x="131.62" y="494.23" width="4.60" height="43.57" fill="#8080fa" stroke="#222" stroke-width="0.6" />
<rect x="131.87" y="494.23" width="4.10" height="11.01" fill="#5a5ab8" stroke="none" stroke-width="0" opacity="0.55"/>
<line x1="133.92" y1="494.23" x2="133.92" y2="505.24" stroke="#333" stroke-width="0.6" />
<line x1="132.62" y1="505.24" x2="135.22" y2="505.24" stroke="#333" stroke-width="0.6" />
<line x1="139.92" y1="467.86" x2="139.92" y2="477.04" stroke="#404040" stroke-width="0.9" />
<line x1="138.62" y1="467.86" x2="141.22" y2="467.86" stroke="#404040" stroke-width="0.9" />
<rect x="137.62" y="477.04" width="4.60" height="60.76" fill="#2ed12e" stroke="#222" stroke-width="0.6" />
<rect x="137.87" y="477.04" width="4.10" height="9.17" fill="#1f9a1f" stroke="none" stroke-width="0" opacity="0.55"/>
<line x1="139.92" y1="477.04" x2="139.92" y2="486.21" stroke="#333" stroke-width="0.6" />
<line x1="138.62" y1="486.21" x2="141.22" y2="486.21" stroke="#333" stroke-width="0.6" />
<line x1="145.92" y1="454.56" x2="145.92" y2="465.57" stroke="#404040" stroke-width="0.9" />
<line x1="144.62" y1="454.56" x2="147.22" y2="454.56" stroke="#404040" stroke-width="0.9" />
<rect x="143.62" y="465.57" width="4.60" height="72.23" fill="#0a8a0a" stroke="#222" stroke-width="0.6" />
<rect x="143.87" y="465.57" width="4.10" height="11.01" fill="#066006" stroke="none" stroke-width="0" opacity="0.55"/>
<line x1="145.92" y1="465.57" x2="145.92" y2="476.58" stroke="#333" stroke-width="0.6" />
<line x1="144.62" y1="476.58" x2="147.22" y2="476.58" stroke="#333" stroke-width="0.6" />
<line x1="156.48" y1="530.46" x2="156.48" y2="533.67" stroke="#404040" stroke-width="0.9" />
<line x1="155.18" y1="530.46" x2="157.78" y2="530.46" stroke="#404040" stroke-width="0.9" />
<rect x="154.18" y="533.67" width="4.60" height="4.13" fill="#0a1ee6" stroke="#222" stroke-width="0.6" />
<rect x="154.43" y="533.67" width="4.10" height="3.21" fill="#0a1596" stroke="none" stroke-width="0" opacity="0.55"/>
<line x1="156.48" y1="533.67" x2="156.48" y2="536.88" stroke="#333" stroke-width="0.6" />
<line x1="155.18" y1="536.88" x2="157.78" y2="536.88" stroke="#333" stroke-width="0.6" />
<line x1="162.48" y1="515.33" x2="162.48" y2="520.60" stroke="#404040" stroke-width="0.9" />
<line x1="161.18" y1="515.33" x2="163.78" y2="515.33" stroke="#404040" stroke-width="0.9" />
<rect x="160.18" y="520.60" width="4.60" height="17.20" fill="#1a9cf2" stroke="#222" stroke-width="0.6" />
<rect x="160.43" y="520.60" width="4.10" height="5.27" fill="#1570b0" stroke="none" stroke-width="0" opacity="0.55"/>
<line x1="162.48" y1="520.60" x2="162.48" y2="525.88" stroke="#333" stroke-width="0.6" />
<line x1="161.18" y1="525.88" x2="163.78" y2="525.88" stroke="#333" stroke-width="0.6" />
<line x1="168.48" y1="496.53" x2="168.48" y2="504.55" stroke="#404040" stroke-width="0.9" />
<line x1="167.18" y1="496.53" x2="169.78" y2="496.53" stroke="#404040" stroke-width="0.9" />
<rect x="166.18" y="504.55" width="4.60" height="33.25" fill="#8080fa" stroke="#222" stroke-width="0.6" />
<rect x="166.43" y="504.55" width="4.10" height="8.03" fill="#5a5ab8" stroke="none" stroke-width="0" opacity="0.55"/>
<line x1="168.48" y1="504.55" x2="168.48" y2="512.58" stroke="#333" stroke-width="0.6" />
<line x1="167.18" y1="512.58" x2="169.78" y2="512.58" stroke="#333" stroke-width="0.6" />
<line x1="174.48" y1="479.56" x2="174.48" y2="488.04" stroke="#404040" stroke-width="0.9" />
<line x1="173.18" y1="479.56" x2="175.78" y2="479.56" stroke="#404040" stroke-width="0.9" />
<rect x="172.18" y="488.04" width="4.60" height="49.76" fill="#2ed12e" stroke="#222" stroke-width="0.6" />
<rect x="172.43" y="488.04" width="4.10" height="8.48" fill="#1f9a1f" stroke="none" stroke-width="0" opacity="0.55"/>
<line x1="174.48" y1="488.04" x2="174.48" y2="496.53" stroke="#333" stroke-width="0.6" />
<line x1="173.18" y1="496.53" x2="175.78" y2="496.53" stroke="#333" stroke-width="0.6" />
<line x1="180.48" y1="457.54" x2="180.48" y2="472.45" stroke="#404040" stroke-width="0.9" />
<line x1="179.18" y1="457.54" x2="181.78" y2="457.54" stroke="#404040" stroke-width="0.9" />
<rect x="178.18" y="472.45" width="4.60" height="65.35" fill="#0a8a0a" stroke="#222" stroke-width="0.6" />
<rect x="178.43" y="472.45" width="4.10" height="14.90" fill="#066006" stroke="none" stroke-width="0" opacity="0.55"/>
<line x1="180.48" y1="472.45" x2="180.48" y2="487.35" stroke="#333" stroke-width="0.6" />
<line x1="179.18" y1="487.35" x2="181.78" y2="487.35" stroke="#333" stroke-width="0.6" />
<line x1="191.14" y1="535.51" x2="191.14" y2="536.65" stroke="#404040" stroke-width="0.9" />
<line x1="189.84" y1="535.51" x2="192.44" y2="535.51" stroke="#404040" stroke-width="0.9" />
<rect x="188.84" y="536.65" width="4.60" height="1.15" fill="#0a1ee6" stroke="#222" stroke-width="0.6" />
<rect x="189.09" y="536.65" width="4.10" height="1.15" fill="#0a1596" stroke="none" stroke-width="0" opacity="0.55"/>
<line x1="191.14" y1="536.65" x2="191.14" y2="537.80" stroke="#333" stroke-width="0.6" />
<line x1="189.84" y1="537.80" x2="192.44" y2="537.80" stroke="#333" stroke-width="0.6" />
<line x1="197.14" y1="511.89" x2="197.14" y2="519.00" stroke="#404040" stroke-width="0.9" />
<line x1="195.84" y1="511.89" x2="198.44" y2="511.89" stroke="#404040" stroke-width="0.9" />
<rect x="194.84" y="519.00" width="4.60" height="18.80" fill="#1a9cf2" stroke="#222" stroke-width="0.6" />
<rect x="195.09" y="519.00" width="4.10" height="7.11" fill="#1570b0" stroke="none" stroke-width="0" opacity="0.55"/>
<line x1="197.14" y1="519.00" x2="197.14" y2="526.11" stroke="#333" stroke-width="0.6" />
<line x1="195.84" y1="526.11" x2="198.44" y2="526.11" stroke="#333" stroke-width="0.6" />
<line x1="203.14" y1="479.33" x2="203.14" y2="494.23" stroke="#404040" stroke-width="0.9" />
<line x1="201.84" y1="479.33" x2="204.44" y2="479.33" stroke="#404040" stroke-width="0.9" />
<rect x="200.84" y="494.23" width="4.60" height="43.57" fill="#8080fa" stroke="#222" stroke-width="0.6" />
<rect x="201.09" y="494.23" width="4.10" height="14.90" fill="#5a5ab8" stroke="none" stroke-width="0" opacity="0.55"/>
<line x1="203.14" y1="494.23" x2="203.14" y2="509.14" stroke="#333" stroke-width="0.6" />
<line x1="201.84" y1="509.14" x2="204.44" y2="509.14" stroke="#333" stroke-width="0.6" />
<line x1="209.14" y1="475.20" x2="209.14" y2="487.35" stroke="#404040" stroke-width="0.9" />
<line x1="207.84" y1="475.20" x2="210.44" y2="475.20" stroke="#404040" stroke-width="0.9" />
<rect x="206.84" y="487.35" width="4.60" height="50.45" fill="#2ed12e" stroke="#222" stroke-width="0.6" />
<rect x="207.09" y="487.35" width="4.10" height="12.15" fill="#1f9a1f" stroke="none" stroke-width="0" opacity="0.55"/>
<line x1="209.14" y1="487.35" x2="209.14" y2="499.51" stroke="#333" stroke-width="0.6" />
<line x1="207.84" y1="499.51" x2="210.44" y2="499.51" stroke="#333" stroke-width="0.6" />
<line x1="215.14" y1="466.72" x2="215.14" y2="475.89" stroke="#404040" stroke-width="0.9" />
<line x1="213.84" y1="466.72" x2="216.44" y2="466.72" stroke="#404040" stroke-width="0.9" />
<rect x="212.84" y="475.89" width="4.60" height="61.91" fill="#0a8a0a" stroke="#222" stroke-width="0.6" />
<rect x="213.09" y="475.89" width="4.10" height="9.17" fill="#066006" stroke="none" stroke-width="0" opacity="0.55"/>
<line x1="215.14" y1="475.89" x2="215.14" y2="485.06" stroke="#333" stroke-width="0.6" />
<line x1="213.84" y1="485.06" x2="216.44" y2="485.06" stroke="#333" stroke-width="0.6" />
<line x1="225.70" y1="535.05" x2="225.70" y2="536.42" stroke="#404040" stroke-width="0.9" />
<line x1="224.40" y1="535.05" x2="227.00" y2="535.05" stroke="#404040" stroke-width="0.9" />
<rect x="223.40" y="536.42" width="4.60" height="1.38" fill="#0a1ee6" stroke="#222" stroke-width="0.6" />
<rect x="223.65" y="536.42" width="4.10" height="1.38" fill="#0a1596" stroke="none" stroke-width="0" opacity="0.55"/>
<line x1="225.70" y1="536.42" x2="225.70" y2="537.80" stroke="#333" stroke-width="0.6" />
<line x1="224.40" y1="537.80" x2="227.00" y2="537.80" stroke="#333" stroke-width="0.6" />
<line x1="231.70" y1="507.53" x2="231.70" y2="514.87" stroke="#404040" stroke-width="0.9" />
<line x1="230.40" y1="507.53" x2="233.00" y2="507.53" stroke="#404040" stroke-width="0.9" />
<rect x="229.40" y="514.87" width="4.60" height="22.93" fill="#1a9cf2" stroke="#222" stroke-width="0.6" />
<rect x="229.65" y="514.87" width="4.10" height="7.34" fill="#1570b0" stroke="none" stroke-width="0" opacity="0.55"/>
<line x1="231.70" y1="514.87" x2="231.70" y2="522.21" stroke="#333" stroke-width="0.6" />
<line x1="230.40" y1="522.21" x2="233.00" y2="522.21" stroke="#333" stroke-width="0.6" />
<line x1="237.70" y1="471.07" x2="237.70" y2="487.12" stroke="#404040" stroke-width="0.9" />
<line x1="236.40" y1="471.07" x2="239.00" y2="471.07" stroke="#404040" stroke-width="0.9" />
<rect x="235.40" y="487.12" width="4.60" height="50.68" fill="#8080fa" stroke="#222" stroke-width="0.6" />
<rect x="235.65" y="487.12" width="4.10" height="16.05" fill="#5a5ab8" stroke="none" stroke-width="0" opacity="0.55"/>
<line x1="237.70" y1="487.12" x2="237.70" y2="503.18" stroke="#333" stroke-width="0.6" />
<line x1="236.40" y1="503.18" x2="239.00" y2="503.18" stroke="#333" stroke-width="0.6" />
<line x1="243.70" y1="459.84" x2="243.70" y2="472.22" stroke="#404040" stroke-width="0.9" />
<line x1="242.40" y1="459.84" x2="245.00" y2="459.84" stroke="#404040" stroke-width="0.9" />
<rect x="241.40" y="472.22" width="4.60" height="65.58" fill="#2ed12e" stroke="#222" stroke-width="0.6" />
<rect x="241.65" y="472.22" width="4.10" height="12.38" fill="#1f9a1f" stroke="none" stroke-width="0" opacity="0.55"/>
<line x1="243.70" y1="472.22" x2="243.70" y2="484.60" stroke="#333" stroke-width="0.6" />
<line x1="242.40" y1="484.60" x2="245.00" y2="484.60" stroke="#333" stroke-width="0.6" />
<line x1="249.70" y1="433.70" x2="249.70" y2="454.11" stroke="#404040" stroke-width="0.9" />
<line x1="248.40" y1="433.70" x2="251.00" y2="433.70" stroke="#404040" stroke-width="0.9" />
<rect x="247.40" y="454.11" width="4.60" height="83.69" fill="#0a8a0a" stroke="#222" stroke-width="0.6" />
<rect x="247.65" y="454.11" width="4.10" height="20.41" fill="#066006" stroke="none" stroke-width="0" opacity="0.55"/>
<line x1="249.70" y1="454.11" x2="249.70" y2="474.51" stroke="#333" stroke-width="0.6" />
<line x1="248.40" y1="474.51" x2="251.00" y2="474.51" stroke="#333" stroke-width="0.6" />
<text transform="translate(317.5,361.3) scale(0.874,0.928)" font-size="20" stroke="#000" stroke-width="0.3">D</text>
<line x1="330.60" y1="380.40" x2="330.60" y2="536.60" stroke="#222" stroke-width="2.0" />
<line x1="329.60" y1="535.60" x2="406.80" y2="535.60" stroke="#222" stroke-width="2.0" />
<line x1="323.60" y1="535.60" x2="330.60" y2="535.60" stroke="#222" stroke-width="1.6" />
<text x="321.20" y="539.90" font-size="12.0" fill="#222" text-anchor="end" stroke="#222" stroke-width="0.2">0</text>
<line x1="323.60" y1="497.10" x2="330.60" y2="497.10" stroke="#222" stroke-width="1.6" />
<text x="321.20" y="501.40" font-size="12.0" fill="#222" text-anchor="end" stroke="#222" stroke-width="0.2">20</text>
<line x1="323.60" y1="458.60" x2="330.60" y2="458.60" stroke="#222" stroke-width="1.6" />
<text x="321.20" y="462.90" font-size="12.0" fill="#222" text-anchor="end" stroke="#222" stroke-width="0.2">40</text>
<line x1="323.60" y1="420.10" x2="330.60" y2="420.10" stroke="#222" stroke-width="1.6" />
<text x="321.20" y="424.40" font-size="12.0" fill="#222" text-anchor="end" stroke="#222" stroke-width="0.2">60</text>
<line x1="323.60" y1="381.60" x2="330.60" y2="381.60" stroke="#222" stroke-width="1.6" />
<text x="321.20" y="385.90" font-size="12.0" fill="#222" text-anchor="end" stroke="#222" stroke-width="0.2">80</text>
<line x1="349.60" y1="535.60" x2="349.60" y2="541.60" stroke="#222" stroke-width="1.6" />
<text x="349.60" y="555.40" font-size="11.2" fill="#222" text-anchor="middle" stroke="#222" stroke-width="0.2">20</text>
<line x1="388.60" y1="535.60" x2="388.60" y2="541.60" stroke="#222" stroke-width="1.6" />
<text x="388.60" y="555.40" font-size="11.2" fill="#222" text-anchor="middle" stroke="#222" stroke-width="0.2">24</text>
<text x="369.20" y="574.60" font-size="12.4" fill="#222" text-anchor="middle" stroke="#222" stroke-width="0.25">Weeks post transplant</text>
<text transform="translate(300.6,459) rotate(-90)" font-size="12.2" fill="#222" stroke="#222" stroke-width="0.25" text-anchor="middle">%CCR5+ of total CD4<tspan font-size="7.5" dy="-4.5">+</tspan><tspan dy="4.5"> T cells</tspan></text>
<line x1="336.10" y1="534.06" x2="336.10" y2="534.83" stroke="#707070" stroke-width="1.0" />
<line x1="334.50" y1="534.06" x2="337.70" y2="534.06" stroke="#707070" stroke-width="1.0" />
<rect x="333.40" y="534.83" width="5.40" height="0.77" fill="#0a1ee6" stroke="#2a2a2a" stroke-width="0.7" />
<line x1="342.85" y1="514.43" x2="342.85" y2="528.86" stroke="#707070" stroke-width="1.0" />
<line x1="341.25" y1="514.43" x2="344.45" y2="514.43" stroke="#707070" stroke-width="1.0" />
<rect x="340.15" y="528.86" width="5.40" height="6.74" fill="#1a9cf2" stroke="#2a2a2a" stroke-width="0.7" />
<line x1="349.60" y1="459.56" x2="349.60" y2="511.54" stroke="#707070" stroke-width="1.0" />
<line x1="348.00" y1="459.56" x2="351.20" y2="459.56" stroke="#707070" stroke-width="1.0" />
<rect x="346.90" y="511.54" width="5.40" height="24.06" fill="#8080fa" stroke="#2a2a2a" stroke-width="0.7" />
<line x1="356.35" y1="453.40" x2="356.35" y2="497.49" stroke="#707070" stroke-width="1.0" />
<line x1="354.75" y1="453.40" x2="357.95" y2="453.40" stroke="#707070" stroke-width="1.0" />
<rect x="353.65" y="497.49" width="5.40" height="38.12" fill="#2ed12e" stroke="#2a2a2a" stroke-width="0.7" />
<line x1="363.10" y1="420.10" x2="363.10" y2="468.23" stroke="#707070" stroke-width="1.0" />
<line x1="361.50" y1="420.10" x2="364.70" y2="420.10" stroke="#707070" stroke-width="1.0" />
<rect x="360.40" y="468.23" width="5.40" height="67.38" fill="#0a8a0a" stroke="#2a2a2a" stroke-width="0.7" />
<line x1="375.10" y1="530.79" x2="375.10" y2="534.06" stroke="#707070" stroke-width="1.0" />
<line x1="373.50" y1="530.79" x2="376.70" y2="530.79" stroke="#707070" stroke-width="1.0" />
<rect x="372.40" y="534.06" width="5.40" height="1.54" fill="#0a1ee6" stroke="#2a2a2a" stroke-width="0.7" />
<line x1="381.85" y1="504.80" x2="381.85" y2="522.12" stroke="#707070" stroke-width="1.0" />
<line x1="380.25" y1="504.80" x2="383.45" y2="504.80" stroke="#707070" stroke-width="1.0" />
<rect x="379.15" y="522.12" width="5.40" height="13.48" fill="#1a9cf2" stroke="#2a2a2a" stroke-width="0.7" />
<line x1="388.60" y1="443.78" x2="388.60" y2="495.18" stroke="#707070" stroke-width="1.0" />
<line x1="387.00" y1="443.78" x2="390.20" y2="443.78" stroke="#707070" stroke-width="1.0" />
<rect x="385.90" y="495.18" width="5.40" height="40.43" fill="#8080fa" stroke="#2a2a2a" stroke-width="0.7" />
<line x1="395.35" y1="449.94" x2="395.35" y2="491.33" stroke="#707070" stroke-width="1.0" />
<line x1="393.75" y1="449.94" x2="396.95" y2="449.94" stroke="#707070" stroke-width="1.0" />
<rect x="392.65" y="491.33" width="5.40" height="44.27" fill="#2ed12e" stroke="#2a2a2a" stroke-width="0.7" />
<line x1="402.10" y1="396.04" x2="402.10" y2="436.46" stroke="#707070" stroke-width="1.0" />
<line x1="400.50" y1="396.04" x2="403.70" y2="396.04" stroke="#707070" stroke-width="1.0" />
<rect x="399.40" y="436.46" width="5.40" height="99.14" fill="#0a8a0a" stroke="#2a2a2a" stroke-width="0.7" />
<rect x="437.00" y="366.80" width="248.00" height="206.00" fill="#fbfbfb" stroke="none" stroke-width="1" />
<text transform="translate(452.94,359.8) scale(0.661,0.971)" font-size="20" stroke="#000" stroke-width="0.3">E</text>
<line x1="478.80" y1="372.00" x2="478.80" y2="544.60" stroke="#333" stroke-width="1.1" />
<line x1="478.20" y1="544.00" x2="637.60" y2="544.00" stroke="#333" stroke-width="1.1" />
<line x1="476.20" y1="379.50" x2="478.80" y2="379.50" stroke="#333" stroke-width="0.8" />
<text x="474.40" y="382.50" font-size="8.3" fill="#4d4d4d" text-anchor="end" >100%</text>
<line x1="476.20" y1="418.62" x2="478.80" y2="418.62" stroke="#333" stroke-width="0.8" />
<text x="474.40" y="421.62" font-size="8.3" fill="#4d4d4d" text-anchor="end" >75%</text>
<line x1="476.20" y1="457.75" x2="478.80" y2="457.75" stroke="#333" stroke-width="0.8" />
<text x="474.40" y="460.75" font-size="8.3" fill="#4d4d4d" text-anchor="end" >50%</text>
<line x1="476.20" y1="496.88" x2="478.80" y2="496.88" stroke="#333" stroke-width="0.8" />
<text x="474.40" y="499.88" font-size="8.3" fill="#4d4d4d" text-anchor="end" >25%</text>
<line x1="476.20" y1="536.00" x2="478.80" y2="536.00" stroke="#333" stroke-width="0.8" />
<text x="474.40" y="539.00" font-size="8.3" fill="#4d4d4d" text-anchor="end" >0%</text>
<line x1="486.00" y1="544.00" x2="486.00" y2="546.80" stroke="#333" stroke-width="0.8" />
<text x="486.00" y="554.60" font-size="8.3" fill="#4d4d4d" text-anchor="middle" >0</text>
<line x1="504.09" y1="544.00" x2="504.09" y2="546.80" stroke="#333" stroke-width="0.8" />
<text x="504.09" y="554.60" font-size="8.3" fill="#4d4d4d" text-anchor="middle" >1</text>
<line x1="522.18" y1="544.00" x2="522.18" y2="546.80" stroke="#333" stroke-width="0.8" />
<text x="522.18" y="554.60" font-size="8.3" fill="#4d4d4d" text-anchor="middle" >2</text>
<line x1="540.27" y1="544.00" x2="540.27" y2="546.80" stroke="#333" stroke-width="0.8" />
<text x="540.27" y="554.60" font-size="8.3" fill="#4d4d4d" text-anchor="middle" >3</text>
<line x1="558.36" y1="544.00" x2="558.36" y2="546.80" stroke="#333" stroke-width="0.8" />
<text x="558.36" y="554.60" font-size="8.3" fill="#4d4d4d" text-anchor="middle" >4</text>
<line x1="576.45" y1="544.00" x2="576.45" y2="546.80" stroke="#333" stroke-width="0.8" />
<text x="576.45" y="554.60" font-size="8.3" fill="#4d4d4d" text-anchor="middle" >5</text>
<line x1="594.54" y1="544.00" x2="594.54" y2="546.80" stroke="#333" stroke-width="0.8" />
<text x="594.54" y="554.60" font-size="8.3" fill="#4d4d4d" text-anchor="middle" >6</text>
<line x1="612.63" y1="544.00" x2="612.63" y2="546.80" stroke="#333" stroke-width="0.8" />
<text x="612.63" y="554.60" font-size="8.3" fill="#4d4d4d" text-anchor="middle" >7</text>
<line x1="630.72" y1="544.00" x2="630.72" y2="546.80" stroke="#333" stroke-width="0.8" />
<text x="630.72" y="554.60" font-size="8.3" fill="#4d4d4d" text-anchor="middle" >8</text>
<text x="558.40" y="566.80" font-size="10.1" fill="#222" text-anchor="middle" >HIV challenge #</text>
<text x="0.00" y="0.00" font-size="10.2" fill="#222" text-anchor="middle" transform="translate(449.2,458.4) rotate(-90)">% HIV−negative</text>
<polyline points="486.00,379.50 487.81,379.67 489.62,379.83 491.43,380.00 493.24,380.17 495.05,380.33 496.85,380.50 498.66,380.67 500.47,380.83 502.28,381.00 504.09,381.16 505.90,381.33 507.71,381.50 509.52,381.66 511.33,381.83 513.13,381.99 514.94,382.16 516.75,382.32 518.56,382.48 520.37,382.65 522.18,382.81 523.99,382.98 525.80,383.14 527.61,383.30 529.42,383.47 531.23,383.63 533.03,383.79 534.84,383.95 536.65,384.12 538.46,384.28 540.27,384.44 542.08,384.60 543.89,384.77 545.70,384.93 547.51,385.09 549.32,385.25 551.12,385.41 552.93,385.57 554.74,385.73 556.55,385.89 558.36,386.05 560.17,386.21 561.98,386.37 563.79,386.53 565.60,386.69 567.40,386.85 569.21,387.01 571.02,387.17 572.83,387.33 574.64,387.49 576.45,387.65 578.26,387.81 580.07,387.97 581.88,388.12 583.69,388.28 585.50,388.44 587.30,388.60 589.11,388.76 590.92,388.91 592.73,389.07 594.54,389.23 596.35,389.38 598.16,389.54 599.97,389.70 601.78,389.85 603.59,390.01 605.39,390.17 607.20,390.32 609.01,390.48 610.82,390.63 612.63,390.79 614.44,390.94 616.25,391.10 618.06,391.25 619.87,391.41 621.67,391.56 623.48,391.72 625.29,391.87 627.10,392.03 628.91,392.18 630.72,392.33" fill="none" stroke="#3c5eae" stroke-width="1.2" stroke-dasharray="4.4,3.2"/>
<polyline points="486.00,379.50 487.81,380.85 489.62,382.19 491.43,383.52 493.24,384.83 495.05,386.14 496.85,387.43 498.66,388.71 500.47,389.98 502.28,391.24 504.09,392.49 505.90,393.73 507.71,394.95 509.52,396.17 511.33,397.38 513.13,398.57 514.94,399.76 516.75,400.93 518.56,402.10 520.37,403.25 522.18,404.40 523.99,405.54 525.80,406.66 527.61,407.78 529.42,408.88 531.23,409.98 533.03,411.07 534.84,412.14 536.65,413.21 538.46,414.27 540.27,415.32 542.08,416.36 543.89,417.40 545.70,418.42 547.51,419.43 549.32,420.44 551.12,421.44 552.93,422.42 554.74,423.40 556.55,424.37 558.36,425.34 560.17,426.29 561.98,427.24 563.79,428.18 565.60,429.11 567.40,430.03 569.21,430.94 571.02,431.85 572.83,432.75 574.64,433.64 576.45,434.52 578.26,435.40 580.07,436.27 581.88,437.13 583.69,437.98 585.50,438.82 587.30,439.66 589.11,440.49 590.92,441.32 592.73,442.13 594.54,442.94 596.35,443.75 598.16,444.54 599.97,445.33 601.78,446.11 603.59,446.89 605.39,447.66 607.20,448.42 609.01,449.18 610.82,449.93 612.63,450.67 614.44,451.40 616.25,452.13 618.06,452.86 619.87,453.57 621.67,454.29 623.48,454.99 625.29,455.69 627.10,456.38 628.91,457.07 630.72,457.75" fill="none" stroke="#5c95dc" stroke-width="1.2" stroke-dasharray="4.4,3.2"/>
<polyline points="486.00,379.50 487.81,381.57 489.62,383.62 491.43,385.64 493.24,387.63 495.05,389.60 496.85,391.54 498.66,393.45 500.47,395.34 502.28,397.20 504.09,399.04 505.90,400.86 507.71,402.65 509.52,404.42 511.33,406.16 513.13,407.88 514.94,409.58 516.75,411.25 518.56,412.91 520.37,414.54 522.18,416.15 523.99,417.73 525.80,419.30 527.61,420.85 529.42,422.37 531.23,423.88 533.03,425.36 534.84,426.83 536.65,428.28 538.46,429.70 540.27,431.11 542.08,432.50 543.89,433.87 545.70,435.23 547.51,436.56 549.32,437.88 551.12,439.18 552.93,440.46 554.74,441.73 556.55,442.98 558.36,444.21 560.17,445.43 561.98,446.63 563.79,447.81 565.60,448.98 567.40,450.13 569.21,451.27 571.02,452.39 572.83,453.50 574.64,454.59 576.45,455.67 578.26,456.74 580.07,457.79 581.88,458.82 583.69,459.85 585.50,460.86 587.30,461.85 589.11,462.83 590.92,463.80 592.73,464.76 594.54,465.70 596.35,466.64 598.16,467.55 599.97,468.46 601.78,469.36 603.59,470.24 605.39,471.11 607.20,471.97 609.01,472.82 610.82,473.66 612.63,474.48 614.44,475.30 616.25,476.10 618.06,476.90 619.87,477.68 621.67,478.45 623.48,479.21 625.29,479.97 627.10,480.71 628.91,481.44 630.72,482.16" fill="none" stroke="#6d6dc4" stroke-width="1.2" stroke-dasharray="4.4,3.2"/>
<polyline points="486.00,379.50 487.81,382.74 489.62,385.90 491.43,389.01 493.24,392.05 495.05,395.02 496.85,397.94 498.66,400.79 500.47,403.59 502.28,406.32 504.09,409.01 505.90,411.63 507.71,414.20 509.52,416.72 511.33,419.19 513.13,421.60 514.94,423.97 516.75,426.28 518.56,428.55 520.37,430.77 522.18,432.95 523.99,435.08 525.80,437.17 527.61,439.21 529.42,441.21 531.23,443.17 533.03,445.09 534.84,446.97 536.65,448.81 538.46,450.61 540.27,452.38 542.08,454.11 543.89,455.80 545.70,457.46 547.51,459.08 549.32,460.67 551.12,462.23 552.93,463.75 554.74,465.25 556.55,466.71 558.36,468.14 560.17,469.55 561.98,470.92 563.79,472.27 565.60,473.58 567.40,474.87 569.21,476.14 571.02,477.38 572.83,478.59 574.64,479.77 576.45,480.94 578.26,482.08 580.07,483.19 581.88,484.28 583.69,485.35 585.50,486.40 587.30,487.42 589.11,488.43 590.92,489.41 592.73,490.37 594.54,491.32 596.35,492.24 598.16,493.15 599.97,494.03 601.78,494.90 603.59,495.75 605.39,496.58 607.20,497.40 609.01,498.20 610.82,498.98 612.63,499.74 614.44,500.49 616.25,501.23 618.06,501.94 619.87,502.65 621.67,503.34 623.48,504.01 625.29,504.67 627.10,505.32 628.91,505.96 630.72,506.58" fill="none" stroke="#3db43d" stroke-width="1.2" stroke-dasharray="4.4,3.2"/>
<polyline points="486.00,379.50 487.81,384.41 489.62,389.17 491.43,393.78 493.24,398.24 495.05,402.56 496.85,406.75 498.66,410.81 500.47,414.74 502.28,418.54 504.09,422.23 505.90,425.80 507.71,429.26 509.52,432.61 511.33,435.85 513.13,439.00 514.94,442.04 516.75,444.99 518.56,447.85 520.37,450.61 522.18,453.29 523.99,455.89 525.80,458.40 527.61,460.84 529.42,463.20 531.23,465.48 533.03,467.70 534.84,469.84 536.65,471.92 538.46,473.93 540.27,475.88 542.08,477.76 543.89,479.59 545.70,481.36 547.51,483.08 549.32,484.74 551.12,486.35 552.93,487.90 554.74,489.41 556.55,490.88 558.36,492.29 560.17,493.66 561.98,494.99 563.79,496.28 565.60,497.53 567.40,498.73 569.21,499.90 571.02,501.04 572.83,502.13 574.64,503.20 576.45,504.23 578.26,505.22 580.07,506.19 581.88,507.12 583.69,508.03 585.50,508.91 587.30,509.76 589.11,510.58 590.92,511.38 592.73,512.15 594.54,512.90 596.35,513.63 598.16,514.33 599.97,515.01 601.78,515.67 603.59,516.31 605.39,516.92 607.20,517.52 609.01,518.10 610.82,518.66 612.63,519.21 614.44,519.74 616.25,520.25 618.06,520.74 619.87,521.22 621.67,521.68 623.48,522.13 625.29,522.57 627.10,522.99 628.91,523.40 630.72,523.79" fill="none" stroke="#23893a" stroke-width="1.2" stroke-dasharray="4.4,3.2"/>
<path d="M486.00 379.50 H522.18 V420.97 H540.27 V472.93 H558.36 V504.23 H594.54 V524.89 H612.63 V536.00" fill="none" stroke="#2a8f3a" stroke-width="1.1" />
<path d="M486.00 379.50 H504.09 V389.67 H522.18 V407.67 H540.27 V450.24 H558.36 V506.73 H576.45 V536.00" fill="none" stroke="#3dbd3d" stroke-width="1.1" />
<path d="M486.00 379.50 H504.09 V395.15 H540.27 V426.45 H558.36 V457.75 H576.45 V473.40 H612.63 V489.05 H630.72 V504.70" fill="none" stroke="#7c7cca" stroke-width="1.1" />
<path d="M486.00 379.50 H522.18 V393.73 H576.45 V407.95 H612.63 V422.18 H630.72 V436.41" fill="none" stroke="#5a90dc" stroke-width="1.1" />
<path d="M486.00 379.50 H630.72 V379.50" fill="none" stroke="#4f78cc" stroke-width="1.25" />
<line x1="634.60" y1="382.80" x2="634.60" y2="419.60" stroke="#222" stroke-width="1.0" />
<text x="637.60" y="404.00" font-size="8.4" fill="#333" text-anchor="start" >p = 0.039</text>
<line x1="634.60" y1="440.00" x2="634.60" y2="486.30" stroke="#222" stroke-width="1.0" />
<text x="637.60" y="465.70" font-size="8.4" fill="#333" text-anchor="start" >p = 0.031</text>
<path d="M634.6 508.9 V538.4 H616.4" fill="none" stroke="#222" stroke-width="1.0" />
<text x="637.60" y="526.10" font-size="8.4" fill="#333" text-anchor="start" >p = 0.059</text>
<line x1="580.00" y1="538.40" x2="608.60" y2="538.40" stroke="#222" stroke-width="1.0" />
<text x="594.40" y="535.60" font-size="8.2" fill="#333" text-anchor="middle" >p = 0.80</text>
<text transform="translate(8.24,618.9) scale(0.724,0.964)" font-size="20" stroke="#000" stroke-width="0.3">F</text>
<line x1="30.00" y1="628.20" x2="30.00" y2="821.40" stroke="#333" stroke-width="1.1" />
<line x1="29.40" y1="820.80" x2="189.20" y2="820.80" stroke="#333" stroke-width="1.1" />
<line x1="188.70" y1="628.20" x2="188.70" y2="821.40" stroke="#333" stroke-width="1.1" />
<line x1="27.40" y1="812.40" x2="30.00" y2="812.40" stroke="#333" stroke-width="0.8" />
<text x="25.00" y="815.40" font-size="8.5" fill="#4d4d4d" text-anchor="end" >0</text>
<line x1="27.40" y1="753.70" x2="30.00" y2="753.70" stroke="#333" stroke-width="0.8" />
<text x="25.00" y="756.70" font-size="8.5" fill="#4d4d4d" text-anchor="end" >10</text>
<line x1="27.40" y1="695.00" x2="30.00" y2="695.00" stroke="#333" stroke-width="0.8" />
<text x="25.00" y="698.00" font-size="8.5" fill="#4d4d4d" text-anchor="end" >20</text>
<line x1="27.40" y1="636.30" x2="30.00" y2="636.30" stroke="#333" stroke-width="0.8" />
<text x="25.00" y="639.30" font-size="8.5" fill="#4d4d4d" text-anchor="end" >30</text>
<line x1="188.70" y1="812.40" x2="191.30" y2="812.40" stroke="#333" stroke-width="0.8" />
<text x="192.80" y="815.40" font-size="8.5" fill="#4d4d4d" text-anchor="start" >0</text>
<line x1="188.70" y1="775.81" x2="191.30" y2="775.81" stroke="#333" stroke-width="0.8" />
<text x="192.80" y="778.81" font-size="8.5" fill="#4d4d4d" text-anchor="start" >25</text>
<line x1="188.70" y1="739.22" x2="191.30" y2="739.22" stroke="#333" stroke-width="0.8" />
<text x="192.80" y="742.22" font-size="8.5" fill="#4d4d4d" text-anchor="start" >50</text>
<line x1="188.70" y1="702.63" x2="191.30" y2="702.63" stroke="#333" stroke-width="0.8" />
<text x="192.80" y="705.63" font-size="8.5" fill="#4d4d4d" text-anchor="start" >75</text>
<line x1="188.70" y1="666.04" x2="191.30" y2="666.04" stroke="#333" stroke-width="0.8" />
<text x="192.80" y="669.04" font-size="8.5" fill="#4d4d4d" text-anchor="start" >100</text>
<line x1="188.70" y1="629.45" x2="191.30" y2="629.45" stroke="#333" stroke-width="0.8" />
<text x="192.80" y="632.45" font-size="8.5" fill="#4d4d4d" text-anchor="start" >125</text>
<line x1="36.90" y1="820.80" x2="36.90" y2="823.60" stroke="#333" stroke-width="0.8" />
<text x="36.90" y="832.80" font-size="8.5" fill="#4d4d4d" text-anchor="middle" >0</text>
<line x1="73.00" y1="820.80" x2="73.00" y2="823.60" stroke="#333" stroke-width="0.8" />
<text x="73.00" y="832.80" font-size="8.5" fill="#4d4d4d" text-anchor="middle" >25</text>
<line x1="109.10" y1="820.80" x2="109.10" y2="823.60" stroke="#333" stroke-width="0.8" />
<text x="109.10" y="832.80" font-size="8.5" fill="#4d4d4d" text-anchor="middle" >50</text>
<line x1="145.20" y1="820.80" x2="145.20" y2="823.60" stroke="#333" stroke-width="0.8" />
<text x="145.20" y="832.80" font-size="8.5" fill="#4d4d4d" text-anchor="middle" >75</text>
<line x1="181.30" y1="820.80" x2="181.30" y2="823.60" stroke="#333" stroke-width="0.8" />
<text x="181.30" y="832.80" font-size="8.5" fill="#4d4d4d" text-anchor="middle" >100</text>
<text x="109.4" y="845.8" font-size="11.2" fill="#222" text-anchor="middle">% <tspan font-style="italic">CCR5</tspan>−edited</text>
<text x="0.00" y="0.00" font-size="11.3" fill="#ff3a3a" text-anchor="middle" transform="translate(11.3,724.1) rotate(-90)">Risk of infection per challenge (%)</text>
<text x="0.00" y="0.00" font-size="11.35" fill="#3a3aff" text-anchor="middle" transform="translate(214.0,724.7) rotate(90)">Challenges to get &gt;50% infected</text>
<polyline points="36.90,642.17 38.34,643.60 39.79,645.04 41.23,646.48 42.68,647.93 44.12,649.38 45.56,650.83 47.01,652.29 48.45,653.76 49.90,655.23 51.34,656.70 52.78,658.18 54.23,659.67 55.67,661.15 57.12,662.65 58.56,664.15 60.00,665.65 61.45,667.16 62.89,668.67 64.34,670.19 65.78,671.71 67.22,673.24 68.67,674.78 70.11,676.31 71.56,677.86 73.00,679.41 74.44,680.96 75.89,682.52 77.33,684.09 78.78,685.66 80.22,687.23 81.66,688.81 83.11,690.40 84.55,691.99 86.00,693.58 87.44,695.19 88.88,696.79 90.33,698.41 91.77,700.02 93.22,701.65 94.66,703.28 96.10,704.91 97.55,706.55 98.99,708.20 100.44,709.85 101.88,711.51 103.32,713.17 104.77,714.84 106.21,716.52 107.66,718.20 109.10,719.88 110.54,721.58 111.99,723.27 113.43,724.98 114.88,726.69 116.32,728.40 117.76,730.13 119.21,731.86 120.65,733.59 122.10,735.33 123.54,737.08 124.98,738.83 126.43,740.59 127.87,742.35 129.32,744.13 130.76,745.90 132.20,747.69 133.65,749.48 135.09,751.28 136.54,753.08 137.98,754.89 139.42,756.71 140.87,758.53 142.31,760.36 143.76,762.20 145.20,764.04 146.64,765.89 148.09,767.75 149.53,769.61 150.98,771.48 152.42,773.36 153.86,775.24 155.31,777.13 156.75,779.03 158.20,780.93 159.64,782.85 161.08,784.77 162.53,786.69 163.97,788.62 165.42,790.57 166.86,792.51 168.30,794.47 169.75,796.43 171.19,798.40 172.64,800.38 174.08,802.36 175.52,804.36 176.97,806.35 178.41,808.36 179.86,810.38 181.30,812.40" fill="none" stroke="#f24b4b" stroke-width="1.2"/>
<path d="M36.90 808.01 L37.04 808.01 L37.19 808.01 L37.33 808.01 L37.48 808.01 L37.62 808.01 L37.77 808.01 L37.91 808.01 L38.06 808.01 L38.20 808.01 L38.34 808.01 L38.49 808.01 L38.63 808.01 L38.78 808.01 L38.92 808.01 L39.07 808.01 L39.21 808.01 L39.35 808.01 L39.50 808.01 L39.64 808.01 L39.79 808.01 L39.93 808.01 L40.08 808.01 L40.22 808.01 L40.37 808.01 L40.51 808.01 L40.65 808.01 L40.80 808.01 L40.94 808.01 L41.09 808.01 L41.23 808.01 L41.38 808.01 L41.52 808.01 L41.67 808.01 L41.81 808.01 L41.95 808.01 L42.10 808.01 L42.24 808.01 L42.39 808.01 L42.53 808.01 L42.68 808.01 L42.82 808.01 L42.96 808.01 L43.11 808.01 L43.25 808.01 L43.40 808.01 L43.54 808.01 L43.69 808.01 L43.83 808.01 L43.98 808.01 L44.12 808.01 L44.26 808.01 L44.41 808.01 L44.55 808.01 L44.70 808.01 L44.84 808.01 L44.99 808.01 L45.13 808.01 L45.28 808.01 L45.42 808.01 L45.56 808.01 L45.71 808.01 L45.85 808.01 L46.00 808.01 L46.14 808.01 L46.29 808.01 L46.43 808.01 L46.57 808.01 L46.72 808.01 L46.86 808.01 L47.01 808.01 L47.15 808.01 L47.30 808.01 L47.44 808.01 L47.59 808.01 L47.73 808.01 L47.87 808.01 L48.02 808.01 L48.16 808.01 L48.31 808.01 L48.45 808.01 L48.60 808.01 L48.74 808.01 L48.89 808.01 L49.03 808.01 L49.17 808.01 L49.32 808.01 L49.46 808.01 L49.61 808.01 L49.75 808.01 L49.90 808.01 L50.04 808.01 L50.18 808.01 L50.33 808.01 L50.47 808.01 L50.62 808.01 L50.76 808.01 L50.91 808.01 L51.05 808.01 L51.20 808.01 L51.34 808.01 L51.48 808.01 L51.63 808.01 L51.77 808.01 L51.92 808.01 L52.06 808.01 L52.21 808.01 L52.35 808.01 L52.50 808.01 L52.64 808.01 L52.78 808.01 L52.93 808.01 L53.07 808.01 L53.22 808.01 L53.36 808.01 L53.51 808.01 L53.65 808.01 L53.79 808.01 L53.94 808.01 L54.08 808.01 L54.23 808.01 L54.37 808.01 L54.52 808.01 L54.66 808.01 L54.81 808.01 L54.95 808.01 L55.09 808.01 L55.24 808.01 L55.38 808.01 L55.53 808.01 L55.67 808.01 L55.82 808.01 L55.96 808.01 L56.11 808.01 L56.25 808.01 L56.39 808.01 L56.54 808.01 L56.68 808.01 L56.83 808.01 L56.97 808.01 L57.12 808.01 L57.26 808.01 L57.40 808.01 L57.55 808.01 L57.69 808.01 L57.84 808.01 L57.98 808.01 L58.13 808.01 L58.27 808.01 L58.42 808.01 L58.56 808.01 L58.70 808.01 L58.85 808.01 L58.99 808.01 L59.14 808.01 L59.28 808.01 L59.43 808.01 L59.57 808.01 L59.72 808.01 L59.86 808.01 L60.00 808.01 L60.15 808.01 L60.29 808.01 L60.44 808.01 L60.58 808.01 L60.73 808.01 L60.87 808.01 L61.01 808.01 L61.16 808.01 L61.30 808.01 L61.45 808.01 L61.59 808.01 L61.74 808.01 L61.88 808.01 L62.03 808.01 L62.17 808.01 L62.31 808.01 L62.46 808.01 L62.60 808.01 L62.75 808.01 L62.89 808.01 L63.04 808.01 L63.18 808.01 L63.33 808.01 L63.47 808.01 L63.61 808.01 L63.76 808.01 L63.90 808.01 L64.05 808.01 L64.19 808.01 L64.34 808.01 L64.48 808.01 L64.62 808.01 L64.77 808.01 L64.91 808.01 L65.06 808.01 L65.20 808.01 L65.35 808.01 L65.49 808.01 L65.64 808.01 L65.78 808.01 L65.92 808.01 L66.07 808.01 L66.21 808.01 L66.36 808.01 L66.50 808.01 L66.65 808.01 L66.79 808.01 L66.94 808.01 L67.08 808.01 L67.22 808.01 L67.37 808.01 L67.51 808.01 L67.66 808.01 L67.80 808.01 L67.95 808.01 L68.09 808.01 L68.23 808.01 L68.38 808.01 L68.52 808.01 L68.67 808.01 L68.81 808.01 L68.96 808.01 L69.10 808.01 L69.25 808.01 L69.39 808.01 L69.53 808.01 L69.68 808.01 L69.82 808.01 L69.97 808.01 L70.11 808.01 L70.26 808.01 L70.40 808.01 L70.55 808.01 L70.69 808.01 L70.83 808.01 L70.98 808.01 L71.12 808.01 L71.27 808.01 L71.41 808.01 L71.56 808.01 L71.70 808.01 L71.84 808.01 L71.99 808.01 L72.13 808.01 L72.28 808.01 L72.42 808.01 L72.57 808.01 L72.71 808.01 L72.86 808.01 L73.00 808.01 L73.14 808.01 L73.29 808.01 L73.43 808.01 L73.58 808.01 L73.72 808.01 L73.87 808.01 L74.01 808.01 L74.16 808.01 L74.30 808.01 L74.44 808.01 L74.59 808.01 L74.73 808.01 L74.88 808.01 L75.02 808.01 L75.17 808.01 L75.31 808.01 L75.45 808.01 L75.60 808.01 L75.74 808.01 L75.89 808.01 L76.03 808.01 L76.18 808.01 L76.32 808.01 L76.47 808.01 L76.61 808.01 L76.75 808.01 L76.90 808.01 L77.04 808.01 L77.19 808.01 L77.33 808.01 L77.48 808.01 L77.62 808.01 L77.77 808.01 L77.91 808.01 L78.05 808.01 L78.20 808.01 L78.34 808.01 L78.49 808.01 L78.63 808.01 L78.78 808.01 L78.92 808.01 L79.06 808.01 L79.21 808.01 L79.35 808.01 L79.50 808.01 L79.64 808.01 L79.79 808.01 L79.93 808.01 L80.08 808.01 L80.22 808.01 L80.36 808.01 L80.51 808.01 L80.65 808.01 L80.80 808.01 L80.94 808.01 L81.09 808.01 L81.23 808.01 L81.38 808.01 L81.52 808.01 L81.66 808.01 L81.81 808.01 L81.95 808.01 L82.10 808.01 L82.24 808.01 L82.39 808.01 L82.53 808.01 L82.67 808.01 L82.82 808.01 L82.96 808.01 L83.11 808.01 L83.25 808.01 L83.40 808.01 L83.54 808.01 L83.69 806.55 L83.83 806.55 L83.97 806.55 L84.12 806.55 L84.26 806.55 L84.41 806.55 L84.55 806.55 L84.70 806.55 L84.84 806.55 L84.99 806.55 L85.13 806.55 L85.27 806.55 L85.42 806.55 L85.56 806.55 L85.71 806.55 L85.85 806.55 L86.00 806.55 L86.14 806.55 L86.28 806.55 L86.43 806.55 L86.57 806.55 L86.72 806.55 L86.86 806.55 L87.01 806.55 L87.15 806.55 L87.30 806.55 L87.44 806.55 L87.58 806.55 L87.73 806.55 L87.87 806.55 L88.02 806.55 L88.16 806.55 L88.31 806.55 L88.45 806.55 L88.60 806.55 L88.74 806.55 L88.88 806.55 L89.03 806.55 L89.17 806.55 L89.32 806.55 L89.46 806.55 L89.61 806.55 L89.75 806.55 L89.89 806.55 L90.04 806.55 L90.18 806.55 L90.33 806.55 L90.47 806.55 L90.62 806.55 L90.76 806.55 L90.91 806.55 L91.05 806.55 L91.19 806.55 L91.34 806.55 L91.48 806.55 L91.63 806.55 L91.77 806.55 L91.92 806.55 L92.06 806.55 L92.21 806.55 L92.35 806.55 L92.49 806.55 L92.64 806.55 L92.78 806.55 L92.93 806.55 L93.07 806.55 L93.22 806.55 L93.36 806.55 L93.50 806.55 L93.65 806.55 L93.79 806.55 L93.94 806.55 L94.08 806.55 L94.23 806.55 L94.37 806.55 L94.52 806.55 L94.66 806.55 L94.80 806.55 L94.95 806.55 L95.09 806.55 L95.24 806.55 L95.38 806.55 L95.53 806.55 L95.67 806.55 L95.82 806.55 L95.96 806.55 L96.10 806.55 L96.25 806.55 L96.39 806.55 L96.54 806.55 L96.68 806.55 L96.83 806.55 L96.97 806.55 L97.11 806.55 L97.26 806.55 L97.40 806.55 L97.55 806.55 L97.69 806.55 L97.84 806.55 L97.98 806.55 L98.13 806.55 L98.27 806.55 L98.41 806.55 L98.56 806.55 L98.70 806.55 L98.85 806.55 L98.99 806.55 L99.14 806.55 L99.28 806.55 L99.43 806.55 L99.57 806.55 L99.71 806.55 L99.86 806.55 L100.00 806.55 L100.15 806.55 L100.29 806.55 L100.44 806.55 L100.58 806.55 L100.72 806.55 L100.87 806.55 L101.01 806.55 L101.16 806.55 L101.30 806.55 L101.45 806.55 L101.59 806.55 L101.74 806.55 L101.88 806.55 L102.02 806.55 L102.17 806.55 L102.31 806.55 L102.46 806.55 L102.60 806.55 L102.75 806.55 L102.89 806.55 L103.04 806.55 L103.18 806.55 L103.32 806.55 L103.47 806.55 L103.61 806.55 L103.76 806.55 L103.90 806.55 L104.05 806.55 L104.19 806.55 L104.33 806.55 L104.48 806.55 L104.62 806.55 L104.77 806.55 L104.91 806.55 L105.06 806.55 L105.20 806.55 L105.35 806.55 L105.49 806.55 L105.63 806.55 L105.78 806.55 L105.92 806.55 L106.07 806.55 L106.21 806.55 L106.36 806.55 L106.50 806.55 L106.65 806.55 L106.79 806.55 L106.93 806.55 L107.08 806.55 L107.22 806.55 L107.37 806.55 L107.51 806.55 L107.66 806.55 L107.80 806.55 L107.94 806.55 L108.09 806.55 L108.23 806.55 L108.38 805.08 L108.52 805.08 L108.67 805.08 L108.81 805.08 L108.96 805.08 L109.10 805.08 L109.24 805.08 L109.39 805.08 L109.53 805.08 L109.68 805.08 L109.82 805.08 L109.97 805.08 L110.11 805.08 L110.26 805.08 L110.40 805.08 L110.54 805.08 L110.69 805.08 L110.83 805.08 L110.98 805.08 L111.12 805.08 L111.27 805.08 L111.41 805.08 L111.55 805.08 L111.70 805.08 L111.84 805.08 L111.99 805.08 L112.13 805.08 L112.28 805.08 L112.42 805.08 L112.57 805.08 L112.71 805.08 L112.85 805.08 L113.00 805.08 L113.14 805.08 L113.29 805.08 L113.43 805.08 L113.58 805.08 L113.72 805.08 L113.87 805.08 L114.01 805.08 L114.15 805.08 L114.30 805.08 L114.44 805.08 L114.59 805.08 L114.73 805.08 L114.88 805.08 L115.02 805.08 L115.16 805.08 L115.31 805.08 L115.45 805.08 L115.60 805.08 L115.74 805.08 L115.89 805.08 L116.03 805.08 L116.18 805.08 L116.32 805.08 L116.46 805.08 L116.61 805.08 L116.75 805.08 L116.90 805.08 L117.04 805.08 L117.19 805.08 L117.33 805.08 L117.48 805.08 L117.62 805.08 L117.76 805.08 L117.91 805.08 L118.05 805.08 L118.20 805.08 L118.34 805.08 L118.49 805.08 L118.63 805.08 L118.77 805.08 L118.92 805.08 L119.06 805.08 L119.21 805.08 L119.35 805.08 L119.50 805.08 L119.64 805.08 L119.79 805.08 L119.93 805.08 L120.07 805.08 L120.22 805.08 L120.36 805.08 L120.51 805.08 L120.65 805.08 L120.80 805.08 L120.94 805.08 L121.09 805.08 L121.23 805.08 L121.37 805.08 L121.52 805.08 L121.66 805.08 L121.81 805.08 L121.95 803.62 L122.10 803.62 L122.24 803.62 L122.38 803.62 L122.53 803.62 L122.67 803.62 L122.82 803.62 L122.96 803.62 L123.11 803.62 L123.25 803.62 L123.40 803.62 L123.54 803.62 L123.68 803.62 L123.83 803.62 L123.97 803.62 L124.12 803.62 L124.26 803.62 L124.41 803.62 L124.55 803.62 L124.70 803.62 L124.84 803.62 L124.98 803.62 L125.13 803.62 L125.27 803.62 L125.42 803.62 L125.56 803.62 L125.71 803.62 L125.85 803.62 L125.99 803.62 L126.14 803.62 L126.28 803.62 L126.43 803.62 L126.57 803.62 L126.72 803.62 L126.86 803.62 L127.01 803.62 L127.15 803.62 L127.29 803.62 L127.44 803.62 L127.58 803.62 L127.73 803.62 L127.87 803.62 L128.02 803.62 L128.16 803.62 L128.31 803.62 L128.45 803.62 L128.59 803.62 L128.74 803.62 L128.88 803.62 L129.03 803.62 L129.17 803.62 L129.32 803.62 L129.46 803.62 L129.60 803.62 L129.75 803.62 L129.89 803.62 L130.04 803.62 L130.18 803.62 L130.33 803.62 L130.47 803.62 L130.62 803.62 L130.76 803.62 L130.90 803.62 L131.05 803.62 L131.19 803.62 L131.34 803.62 L131.48 803.62 L131.63 803.62 L131.77 803.62 L131.92 803.62 L132.06 803.62 L132.20 803.62 L132.35 803.62 L132.49 803.62 L132.64 803.62 L132.78 803.62 L132.93 803.62 L133.07 802.15 L133.21 802.15 L133.36 802.15 L133.50 802.15 L133.65 802.15 L133.79 802.15 L133.94 802.15 L134.08 802.15 L134.23 802.15 L134.37 802.15 L134.51 802.15 L134.66 802.15 L134.80 802.15 L134.95 802.15 L135.09 802.15 L135.24 802.15 L135.38 802.15 L135.53 802.15 L135.67 802.15 L135.81 802.15 L135.96 802.15 L136.10 802.15 L136.25 802.15 L136.39 802.15 L136.54 802.15 L136.68 802.15 L136.82 802.15 L136.97 802.15 L137.11 802.15 L137.26 802.15 L137.40 802.15 L137.55 802.15 L137.69 802.15 L137.84 802.15 L137.98 802.15 L138.12 802.15 L138.27 802.15 L138.41 802.15 L138.56 802.15 L138.70 802.15 L138.85 802.15 L138.99 802.15 L139.14 802.15 L139.28 802.15 L139.42 802.15 L139.57 800.69 L139.71 800.69 L139.86 800.69 L140.00 800.69 L140.15 800.69 L140.29 800.69 L140.43 800.69 L140.58 800.69 L140.72 800.69 L140.87 800.69 L141.01 800.69 L141.16 800.69 L141.30 800.69 L141.45 800.69 L141.59 800.69 L141.73 800.69 L141.88 800.69 L142.02 800.69 L142.17 800.69 L142.31 800.69 L142.46 800.69 L142.60 800.69 L142.75 800.69 L142.89 800.69 L143.03 800.69 L143.18 800.69 L143.32 800.69 L143.47 800.69 L143.61 800.69 L143.76 799.23 L143.90 799.23 L144.04 799.23 L144.19 799.23 L144.33 799.23 L144.48 799.23 L144.62 799.23 L144.77 799.23 L144.91 799.23 L145.06 799.23 L145.20 799.23 L145.34 799.23 L145.49 799.23 L145.63 799.23 L145.78 799.23 L145.92 799.23 L146.07 799.23 L146.21 799.23 L146.36 799.23 L146.50 799.23 L146.64 799.23 L146.79 799.23 L146.93 799.23 L147.08 799.23 L147.22 799.23 L147.37 797.76 L147.51 797.76 L147.65 797.76 L147.80 797.76 L147.94 797.76 L148.09 797.76 L148.23 797.76 L148.38 797.76 L148.52 797.76 L148.67 797.76 L148.81 797.76 L148.95 797.76 L149.10 797.76 L149.24 797.76 L149.39 797.76 L149.53 797.76 L149.68 797.76 L149.82 797.76 L149.97 797.76 L150.11 797.76 L150.25 797.76 L150.40 796.30 L150.54 796.30 L150.69 796.30 L150.83 796.30 L150.98 796.30 L151.12 796.30 L151.26 796.30 L151.41 796.30 L151.55 796.30 L151.70 796.30 L151.84 796.30 L151.99 796.30 L152.13 796.30 L152.28 796.30 L152.42 796.30 L152.56 796.30 L152.71 796.30 L152.85 796.30 L153.00 796.30 L153.14 796.30 L153.29 794.84 L153.43 794.84 L153.58 794.84 L153.72 794.84 L153.86 794.84 L154.01 794.84 L154.15 794.84 L154.30 794.84 L154.44 794.84 L154.59 794.84 L154.73 794.84 L154.87 794.84 L155.02 794.84 L155.16 794.84 L155.31 794.84 L155.45 794.84 L155.60 794.84 L155.74 793.37 L155.89 793.37 L156.03 793.37 L156.17 793.37 L156.32 793.37 L156.46 793.37 L156.61 793.37 L156.75 793.37 L156.90 793.37 L157.04 793.37 L157.19 793.37 L157.33 793.37 L157.47 793.37 L157.62 793.37 L157.76 793.37 L157.91 791.91 L158.05 791.91 L158.20 791.91 L158.34 791.91 L158.48 791.91 L158.63 791.91 L158.77 791.91 L158.92 791.91 L159.06 791.91 L159.21 791.91 L159.35 791.91 L159.50 791.91 L159.64 790.45 L159.78 790.45 L159.93 790.45 L160.07 790.45 L160.22 790.45 L160.36 790.45 L160.51 790.45 L160.65 790.45 L160.80 790.45 L160.94 790.45 L161.08 790.45 L161.23 788.98 L161.37 788.98 L161.52 788.98 L161.66 788.98 L161.81 788.98 L161.95 788.98 L162.09 788.98 L162.24 788.98 L162.38 788.98 L162.53 787.52 L162.67 787.52 L162.82 787.52 L162.96 787.52 L163.11 787.52 L163.25 787.52 L163.39 787.52 L163.54 787.52 L163.68 786.06 L163.83 786.06 L163.97 786.06 L164.12 786.06 L164.26 786.06 L164.41 786.06 L164.55 786.06 L164.69 784.59 L164.84 784.59 L164.98 784.59 L165.13 784.59 L165.27 784.59 L165.42 784.59 L165.56 783.13 L165.70 783.13 L165.85 783.13 L165.99 783.13 L166.14 783.13 L166.28 783.13 L166.43 783.13 L166.57 781.66 L166.72 781.66 L166.86 781.66 L167.00 781.66 L167.15 780.20 L167.29 780.20 L167.44 780.20 L167.58 780.20 L167.73 778.74 L167.87 778.74 L168.02 778.74 L168.16 777.27 L168.30 777.27 L168.45 777.27 L168.59 777.27 L168.74 775.81 L168.88 775.81 L169.03 775.81 L169.17 774.35 L169.31 774.35 L169.46 774.35 L169.60 772.88 L169.75 772.88 L169.89 772.88 L170.04 771.42 L170.18 771.42 L170.33 769.96 L170.47 769.96 L170.61 769.96 L170.76 768.49 L170.90 768.49 L171.05 768.49 L171.19 767.03 L171.34 767.03 L171.48 765.56 L171.63 765.56 L171.77 765.56 L171.91 764.10 L172.06 762.64 L172.20 762.64 L172.35 761.17 L172.49 761.17 L172.64 759.71 L172.78 759.71 L172.92 758.25 L173.07 756.78 L173.21 756.78 L173.36 755.32 L173.50 755.32 L173.65 753.86 L173.79 753.48 L173.94 752.53 L174.08 751.57 L174.22 750.60 L174.37 749.61 L174.51 748.60 L174.66 747.58 L174.80 746.54 L174.95 745.35 L175.09 744.14 L175.24 742.91 L175.38 741.65 L175.52 740.38 L175.67 739.08 L175.81 737.76 L175.96 735.76 L176.10 733.71 L176.25 731.60 L176.39 729.44 L176.53 727.22 L176.68 724.94 L176.82 722.60 L176.97 720.19 L177.11 716.45 L177.26 712.55 L177.40 708.49 L177.55 704.27 L177.69 699.88 L177.83 695.31 L177.98 690.47 L178.12 685.44 L178.27 680.19 L178.41 674.73 L178.56 669.04 L178.70 663.11" fill="none" stroke="#4343f2" stroke-width="1.25" stroke-linejoin="round"/>
<text transform="translate(244.25,619.1) scale(0.847,0.979)" font-size="20" stroke="#000" stroke-width="0.3">G</text>
<text x="249.20" y="629.90" font-size="10.5" fill="#333" text-anchor="start" textLength="194.7" lengthAdjust="spacingAndGlyphs" >Probability of infection within 8 challenges</text>
<line x1="278.60" y1="637.40" x2="278.60" y2="821.60" stroke="#333" stroke-width="1.1" />
<line x1="278.00" y1="821.00" x2="414.80" y2="821.00" stroke="#333" stroke-width="1.1" />
<line x1="414.20" y1="637.40" x2="414.20" y2="821.60" stroke="#333" stroke-width="1.1" />
<line x1="276.00" y1="645.90" x2="278.60" y2="645.90" stroke="#333" stroke-width="0.8" />
<text x="273.60" y="649.10" font-size="9.2" fill="#4d4d4d" text-anchor="end" >100%</text>
<line x1="276.00" y1="687.50" x2="278.60" y2="687.50" stroke="#333" stroke-width="0.8" />
<text x="273.60" y="690.70" font-size="9.2" fill="#4d4d4d" text-anchor="end" >75%</text>
<line x1="276.00" y1="729.10" x2="278.60" y2="729.10" stroke="#333" stroke-width="0.8" />
<text x="273.60" y="732.30" font-size="9.2" fill="#4d4d4d" text-anchor="end" >50%</text>
<line x1="276.00" y1="770.70" x2="278.60" y2="770.70" stroke="#333" stroke-width="0.8" />
<text x="273.60" y="773.90" font-size="9.2" fill="#4d4d4d" text-anchor="end" >25%</text>
<line x1="276.00" y1="812.30" x2="278.60" y2="812.30" stroke="#333" stroke-width="0.8" />
<text x="273.60" y="815.50" font-size="9.2" fill="#4d4d4d" text-anchor="end" >0%</text>
<line x1="284.60" y1="821.00" x2="284.60" y2="823.80" stroke="#333" stroke-width="0.8" />
<text x="284.60" y="832.70" font-size="8.8" fill="#4d4d4d" text-anchor="middle" >0</text>
<line x1="315.48" y1="821.00" x2="315.48" y2="823.80" stroke="#333" stroke-width="0.8" />
<text x="315.48" y="832.70" font-size="8.8" fill="#4d4d4d" text-anchor="middle" >25</text>
<line x1="346.35" y1="821.00" x2="346.35" y2="823.80" stroke="#333" stroke-width="0.8" />
<text x="346.35" y="832.70" font-size="8.8" fill="#4d4d4d" text-anchor="middle" >50</text>
<line x1="377.23" y1="821.00" x2="377.23" y2="823.80" stroke="#333" stroke-width="0.8" />
<text x="377.23" y="832.70" font-size="8.8" fill="#4d4d4d" text-anchor="middle" >75</text>
<line x1="408.10" y1="821.00" x2="408.10" y2="823.80" stroke="#333" stroke-width="0.8" />
<text x="408.10" y="832.70" font-size="8.8" fill="#4d4d4d" text-anchor="middle" >100</text>
<line x1="414.20" y1="645.90" x2="416.80" y2="645.90" stroke="#333" stroke-width="0.8" />
<line x1="414.20" y1="812.30" x2="416.80" y2="812.30" stroke="#333" stroke-width="0.8" />
<text x="419.20" y="649.10" font-size="9.3" fill="#4d4d4d" text-anchor="start" >infected</text>
<text x="419.20" y="815.50" font-size="9.3" fill="#4d4d4d" text-anchor="start" >uninfected</text>
<text x="346.6" y="845.8" font-size="11.6" fill="#222" text-anchor="middle">% <tspan font-style="italic">CCR5</tspan>−edited</text>
<text x="0.00" y="0.00" font-size="11.4" fill="#222" text-anchor="middle" transform="translate(244.0,729.6) rotate(-90)">% HIV−infected</text>
<rect x="286.30" y="645.90" width="21.00" height="166.40" fill="#575757" stroke="none" stroke-width="1" />
<rect x="310.10" y="645.90" width="22.50" height="166.40" fill="#575757" stroke="none" stroke-width="1" />
<rect x="335.40" y="729.10" width="22.00" height="83.20" fill="#575757" stroke="none" stroke-width="1" />
<rect x="360.60" y="749.90" width="21.40" height="62.40" fill="#575757" stroke="none" stroke-width="1" />
<rect x="385.10" y="770.70" width="21.40" height="41.60" fill="#575757" stroke="none" stroke-width="1" />
<polyline points="284.60,656.65 285.84,656.94 287.07,657.25 288.31,657.57 289.54,657.89 290.78,658.23 292.01,658.57 293.25,658.92 294.48,659.28 295.72,659.65 296.95,660.04 298.19,660.43 299.42,660.83 300.66,661.25 301.89,661.67 303.12,662.11 304.36,662.56 305.60,663.02 306.83,663.50 308.07,663.98 309.30,664.49 310.54,665.00 311.77,665.53 313.00,666.07 314.24,666.63 315.48,667.21 316.71,667.80 317.95,668.41 319.18,669.03 320.42,669.67 321.65,670.33 322.89,671.01 324.12,671.70 325.36,672.42 326.59,673.15 327.83,673.91 329.06,674.68 330.30,675.48 331.53,676.30 332.77,677.14 334.00,678.01 335.24,678.90 336.47,679.81 337.71,680.75 338.94,681.71 340.18,682.71 341.41,683.73 342.65,684.77 343.88,685.85 345.12,686.96 346.35,688.10 347.59,689.26 348.82,690.47 350.06,691.70 351.29,692.97 352.53,694.28 353.76,695.62 355.00,697.00 356.23,698.41 357.47,699.87 358.70,701.36 359.94,702.90 361.17,704.48 362.41,706.11 363.64,707.78 364.88,709.50 366.11,711.26 367.35,713.08 368.58,714.94 369.82,716.86 371.05,718.83 372.29,720.86 373.52,722.94 374.75,725.08 375.99,727.28 377.23,729.54 378.46,731.87 379.70,734.26 380.93,736.72 382.17,739.25 383.40,741.84 384.64,744.51 385.87,747.26 387.11,750.08 388.34,752.99 389.58,755.97 390.81,759.04 392.05,762.19 393.28,765.44 394.52,768.77 395.75,772.20 396.99,775.73 398.22,779.35 399.46,783.08 400.69,786.91 401.93,790.85 403.16,794.91 404.40,799.07 405.63,803.36 406.87,807.77 408.10,812.30" fill="none" stroke="#2a2a2a" stroke-width="1.5" stroke-dasharray="4.6,3.4"/>
<line x1="297.50" y1="645.90" x2="297.50" y2="678.35" stroke="#111" stroke-width="1.45" />
<line x1="286.30" y1="645.90" x2="307.30" y2="645.90" stroke="#111" stroke-width="1.45" />
<line x1="286.30" y1="678.35" x2="307.30" y2="678.35" stroke="#111" stroke-width="1.45" />
<line x1="321.40" y1="645.90" x2="321.40" y2="712.46" stroke="#111" stroke-width="1.45" />
<line x1="310.10" y1="645.90" x2="332.60" y2="645.90" stroke="#111" stroke-width="1.45" />
<line x1="310.10" y1="712.46" x2="332.60" y2="712.46" stroke="#111" stroke-width="1.45" />
<line x1="346.60" y1="670.86" x2="346.60" y2="787.34" stroke="#111" stroke-width="1.45" />
<line x1="335.40" y1="670.86" x2="357.40" y2="670.86" stroke="#111" stroke-width="1.45" />
<line x1="335.40" y1="787.34" x2="357.40" y2="787.34" stroke="#111" stroke-width="1.45" />
<line x1="371.50" y1="689.16" x2="371.50" y2="794.50" stroke="#111" stroke-width="1.45" />
<line x1="360.60" y1="689.16" x2="382.00" y2="689.16" stroke="#111" stroke-width="1.45" />
<line x1="360.60" y1="794.50" x2="382.00" y2="794.50" stroke="#111" stroke-width="1.45" />
<line x1="395.60" y1="724.94" x2="395.60" y2="797.99" stroke="#111" stroke-width="1.45" />
<line x1="385.10" y1="724.94" x2="406.50" y2="724.94" stroke="#111" stroke-width="1.45" />
<line x1="385.10" y1="797.99" x2="406.50" y2="797.99" stroke="#111" stroke-width="1.45" />
<circle cx="282.80" cy="645.90" r="2.5" fill="#149a14" stroke="none" stroke-width="0" opacity="0.92"/>
<circle cx="284.50" cy="645.90" r="2.5" fill="#149a14" stroke="none" stroke-width="0" opacity="0.92"/>
<circle cx="286.00" cy="645.90" r="2.5" fill="#149a14" stroke="none" stroke-width="0" opacity="0.92"/>
<circle cx="287.50" cy="645.90" r="2.5" fill="#149a14" stroke="none" stroke-width="0" opacity="0.92"/>
<circle cx="289.00" cy="645.90" r="2.5" fill="#149a14" stroke="none" stroke-width="0" opacity="0.92"/>
<circle cx="290.50" cy="645.90" r="2.5" fill="#149a14" stroke="none" stroke-width="0" opacity="0.92"/>
<circle cx="292.00" cy="645.90" r="2.5" fill="#149a14" stroke="none" stroke-width="0" opacity="0.92"/>
<circle cx="293.50" cy="645.90" r="2.5" fill="#149a14" stroke="none" stroke-width="0" opacity="0.92"/>
<circle cx="295.00" cy="645.90" r="2.5" fill="#149a14" stroke="none" stroke-width="0" opacity="0.92"/>
<circle cx="296.50" cy="645.90" r="2.5" fill="#149a14" stroke="none" stroke-width="0" opacity="0.92"/>
<circle cx="298.00" cy="645.90" r="2.5" fill="#149a14" stroke="none" stroke-width="0" opacity="0.92"/>
<circle cx="299.50" cy="645.90" r="2.5" fill="#149a14" stroke="none" stroke-width="0" opacity="0.92"/>
<circle cx="301.00" cy="645.90" r="2.5" fill="#149a14" stroke="none" stroke-width="0" opacity="0.92"/>
<circle cx="302.50" cy="645.90" r="2.5" fill="#149a14" stroke="none" stroke-width="0" opacity="0.92"/>
<circle cx="303.80" cy="645.90" r="2.5" fill="#149a14" stroke="none" stroke-width="0" opacity="0.92"/>
<circle cx="313.30" cy="645.90" r="2.5" fill="#7f7fe6" stroke="none" stroke-width="0" opacity="0.92"/>
<circle cx="317.90" cy="645.90" r="2.5" fill="#7f7fe6" stroke="none" stroke-width="0" opacity="0.92"/>
<circle cx="323.10" cy="645.90" r="2.5" fill="#7f7fe6" stroke="none" stroke-width="0" opacity="0.92"/>
<circle cx="329.00" cy="645.90" r="2.5" fill="#149a14" stroke="none" stroke-width="0" opacity="0.92"/>
<circle cx="351.80" cy="645.90" r="2.5" fill="#4d9cf5" stroke="none" stroke-width="0" opacity="0.92"/>
<circle cx="356.40" cy="645.90" r="2.5" fill="#4d9cf5" stroke="none" stroke-width="0" opacity="0.92"/>
<circle cx="363.40" cy="645.90" r="2.5" fill="#7f7fe6" stroke="none" stroke-width="0" opacity="0.92"/>
<circle cx="365.20" cy="645.90" r="2.5" fill="#7f7fe6" stroke="none" stroke-width="0" opacity="0.92"/>
<circle cx="368.70" cy="645.90" r="2.5" fill="#149a14" stroke="none" stroke-width="0" opacity="0.92"/>
<circle cx="387.20" cy="645.90" r="2.5" fill="#149a14" stroke="none" stroke-width="0" opacity="0.92"/>
<circle cx="391.40" cy="645.90" r="2.5" fill="#4d9cf5" stroke="none" stroke-width="0" opacity="0.92"/>
<circle cx="393.20" cy="645.90" r="2.5" fill="#4d9cf5" stroke="none" stroke-width="0" opacity="0.92"/>
<circle cx="399.10" cy="645.90" r="2.5" fill="#4d9cf5" stroke="none" stroke-width="0" opacity="0.92"/>
<circle cx="335.40" cy="813.10" r="2.2" fill="none" stroke="#8cc0f8" stroke-width="1.0" />
<circle cx="358.80" cy="813.10" r="2.2" fill="none" stroke="#7fb0f5" stroke-width="1.0" />
<circle cx="363.40" cy="813.10" r="2.2" fill="none" stroke="#8d9cf0" stroke-width="1.0" />
<circle cx="372.20" cy="813.10" r="2.2" fill="none" stroke="#6fa5f5" stroke-width="1.0" />
<circle cx="376.70" cy="813.10" r="2.2" fill="none" stroke="#4a66e8" stroke-width="1.0" />
<circle cx="383.70" cy="813.10" r="2.2" fill="none" stroke="#8cc0f8" stroke-width="1.0" />
<circle cx="394.20" cy="813.10" r="2.2" fill="none" stroke="#8d9cf0" stroke-width="1.0" />
<circle cx="400.50" cy="813.10" r="2.5" fill="#2f55f0" stroke="none" stroke-width="1" />
<circle cx="403.50" cy="813.10" r="2.5" fill="#2f55f0" stroke="none" stroke-width="1" />
<circle cx="406.00" cy="813.10" r="2.5" fill="#2a4ef0" stroke="none" stroke-width="1" />
<circle cx="408.00" cy="813.10" r="2.5" fill="#2a4ef0" stroke="none" stroke-width="1" />
<text transform="translate(482.54,618.4) scale(0.853,0.957)" font-size="20" stroke="#000" stroke-width="0.3">H</text>
<line x1="521.80" y1="641.40" x2="521.80" y2="821.40" stroke="#333" stroke-width="1.1" />
<line x1="521.20" y1="820.80" x2="682.00" y2="820.80" stroke="#333" stroke-width="1.1" />
<line x1="519.20" y1="791.89" x2="521.80" y2="791.89" stroke="#333" stroke-width="0.8" />
<text x="517.00" y="794.99" font-size="8.6" fill="#4d4d4d" text-anchor="end" >1</text>
<line x1="519.20" y1="750.06" x2="521.80" y2="750.06" stroke="#333" stroke-width="0.8" />
<text x="517.00" y="753.16" font-size="8.6" fill="#4d4d4d" text-anchor="end" >2</text>
<line x1="519.20" y1="708.23" x2="521.80" y2="708.23" stroke="#333" stroke-width="0.8" />
<text x="517.00" y="711.33" font-size="8.6" fill="#4d4d4d" text-anchor="end" >3</text>
<line x1="519.20" y1="666.40" x2="521.80" y2="666.40" stroke="#333" stroke-width="0.8" />
<text x="517.00" y="669.50" font-size="8.6" fill="#4d4d4d" text-anchor="end" >4</text>
<line x1="519.20" y1="812.60" x2="521.80" y2="812.60" stroke="#333" stroke-width="0.8" />
<text x="517.00" y="815.80" font-size="9.3" fill="#4d4d4d" text-anchor="end" >Uninfected</text>
<line x1="529.00" y1="820.80" x2="529.00" y2="823.60" stroke="#333" stroke-width="0.8" />
<text x="529.00" y="832.90" font-size="8.6" fill="#4d4d4d" text-anchor="middle" >0</text>
<line x1="565.38" y1="820.80" x2="565.38" y2="823.60" stroke="#333" stroke-width="0.8" />
<text x="565.38" y="832.90" font-size="8.6" fill="#4d4d4d" text-anchor="middle" >25</text>
<line x1="601.76" y1="820.80" x2="601.76" y2="823.60" stroke="#333" stroke-width="0.8" />
<text x="601.76" y="832.90" font-size="8.6" fill="#4d4d4d" text-anchor="middle" >50</text>
<line x1="638.14" y1="820.80" x2="638.14" y2="823.60" stroke="#333" stroke-width="0.8" />
<text x="638.14" y="832.90" font-size="8.6" fill="#4d4d4d" text-anchor="middle" >75</text>
<line x1="674.52" y1="820.80" x2="674.52" y2="823.60" stroke="#333" stroke-width="0.8" />
<text x="674.52" y="832.90" font-size="8.6" fill="#4d4d4d" text-anchor="middle" >100</text>
<text x="602.1" y="845.8" font-size="11.6" fill="#222" text-anchor="middle">% <tspan font-style="italic">CCR5</tspan>−edited</text>
<text transform="translate(492.8,731.2) rotate(-90)" font-size="11.6" fill="#222" text-anchor="middle">max pVL (log<tspan font-size="7.6" dy="2.5">10</tspan><tspan dy="-2.5"> copies/ml)</tspan></text>
<circle cx="528.99" cy="677.57" r="2.5" fill="#128a12" stroke="none" stroke-width="1" />
<circle cx="531.62" cy="694.98" r="2.5" fill="#128a12" stroke="none" stroke-width="1" />
<circle cx="529.97" cy="703.85" r="2.5" fill="#128a12" stroke="none" stroke-width="1" />
<circle cx="532.27" cy="702.21" r="2.5" fill="#128a12" stroke="none" stroke-width="1" />
<circle cx="533.92" cy="700.89" r="2.5" fill="#128a12" stroke="none" stroke-width="1" />
<circle cx="537.20" cy="703.19" r="2.5" fill="#128a12" stroke="none" stroke-width="1" />
<circle cx="538.84" cy="704.18" r="2.5" fill="#128a12" stroke="none" stroke-width="1" />
<circle cx="532.93" cy="706.48" r="2.5" fill="#128a12" stroke="none" stroke-width="1" />
<circle cx="530.63" cy="711.41" r="2.5" fill="#128a12" stroke="none" stroke-width="1" />
<circle cx="534.90" cy="713.05" r="2.5" fill="#128a12" stroke="none" stroke-width="1" />
<circle cx="541.47" cy="708.12" r="2.5" fill="#128a12" stroke="none" stroke-width="1" />
<circle cx="544.76" cy="708.78" r="2.5" fill="#128a12" stroke="none" stroke-width="1" />
<circle cx="533.92" cy="719.62" r="2.5" fill="#128a12" stroke="none" stroke-width="1" />
<circle cx="536.22" cy="720.28" r="2.5" fill="#128a12" stroke="none" stroke-width="1" />
<circle cx="537.20" cy="724.55" r="2.5" fill="#128a12" stroke="none" stroke-width="1" />
<circle cx="534.90" cy="732.10" r="2.5" fill="#128a12" stroke="none" stroke-width="1" />
<circle cx="528.99" cy="703.19" r="2.5" fill="#128a12" stroke="none" stroke-width="1" />
<circle cx="534.24" cy="705.82" r="2.5" fill="#128a12" stroke="none" stroke-width="1" />
<circle cx="532.27" cy="691.04" r="2.5" fill="#22bb22" stroke="none" stroke-width="1" />
<circle cx="539.17" cy="688.41" r="2.5" fill="#22bb22" stroke="none" stroke-width="1" />
<circle cx="550.67" cy="678.88" r="2.5" fill="#22bb22" stroke="none" stroke-width="1" />
<circle cx="563.48" cy="685.45" r="2.5" fill="#22bb22" stroke="none" stroke-width="1" />
<circle cx="574.32" cy="657.53" r="2.5" fill="#22bb22" stroke="none" stroke-width="1" />
<circle cx="580.89" cy="693.01" r="2.5" fill="#22bb22" stroke="none" stroke-width="1" />
<circle cx="548.04" cy="729.47" r="2.5" fill="#22bb22" stroke="none" stroke-width="1" />
<circle cx="628.20" cy="700.24" r="2.5" fill="#22bb22" stroke="none" stroke-width="1" />
<circle cx="649.88" cy="687.10" r="2.5" fill="#22bb22" stroke="none" stroke-width="1" />
<circle cx="563.48" cy="671.66" r="2.5" fill="#8585ec" stroke="none" stroke-width="1" />
<circle cx="574.32" cy="697.28" r="2.5" fill="#8585ec" stroke="none" stroke-width="1" />
<circle cx="569.07" cy="705.49" r="2.5" fill="#8585ec" stroke="none" stroke-width="1" />
<circle cx="580.89" cy="684.80" r="2.5" fill="#8585ec" stroke="none" stroke-width="1" />
<circle cx="620.97" cy="673.30" r="2.5" fill="#8585ec" stroke="none" stroke-width="1" />
<circle cx="624.26" cy="691.37" r="2.5" fill="#8585ec" stroke="none" stroke-width="1" />
<circle cx="613.09" cy="723.89" r="2.5" fill="#8585ec" stroke="none" stroke-width="1" />
<circle cx="653.17" cy="766.27" r="2.5" fill="#8585ec" stroke="none" stroke-width="1" />
<circle cx="574.32" cy="734.73" r="2.5" fill="#4a9af2" stroke="none" stroke-width="1" />
<circle cx="608.16" cy="727.50" r="2.5" fill="#4a9af2" stroke="none" stroke-width="1" />
<circle cx="656.12" cy="743.27" r="2.5" fill="#4a9af2" stroke="none" stroke-width="1" />
<circle cx="664.01" cy="738.34" r="2.5" fill="#4a9af2" stroke="none" stroke-width="1" />
<circle cx="589.43" cy="812.60" r="2.1" fill="none" stroke="#5a9af5" stroke-width="0.8" />
<circle cx="616.37" cy="812.60" r="2.1" fill="none" stroke="#5a9af5" stroke-width="0.8" />
<circle cx="620.97" cy="812.60" r="2.1" fill="none" stroke="#5a9af5" stroke-width="0.8" />
<circle cx="622.94" cy="812.60" r="2.1" fill="none" stroke="#5a9af5" stroke-width="0.8" />
<circle cx="631.48" cy="812.60" r="2.1" fill="none" stroke="#5a9af5" stroke-width="0.8" />
<circle cx="637.73" cy="812.60" r="2.1" fill="none" stroke="#3c5fe0" stroke-width="0.8" />
<circle cx="645.61" cy="812.60" r="2.1" fill="none" stroke="#5a9af5" stroke-width="0.8" />
<circle cx="658.42" cy="812.60" r="2.1" fill="none" stroke="#3c5fe0" stroke-width="0.8" />
<circle cx="665.32" cy="812.60" r="2.1" fill="none" stroke="#5a9af5" stroke-width="0.8" />
<circle cx="667.62" cy="812.60" r="2.1" fill="none" stroke="#3c5fe0" stroke-width="0.8" />
<circle cx="670.25" cy="812.60" r="2.1" fill="none" stroke="#2a4ae6" stroke-width="0.8" />
<circle cx="671.89" cy="812.60" r="2.1" fill="none" stroke="#2a4ae6" stroke-width="0.8" />
<circle cx="673.53" cy="812.60" r="2.1" fill="none" stroke="#1f3fe6" stroke-width="0.8" />
<circle cx="674.85" cy="812.60" r="2.1" fill="none" stroke="#1f3fe6" stroke-width="0.8" />
</svg>
</body></html>
